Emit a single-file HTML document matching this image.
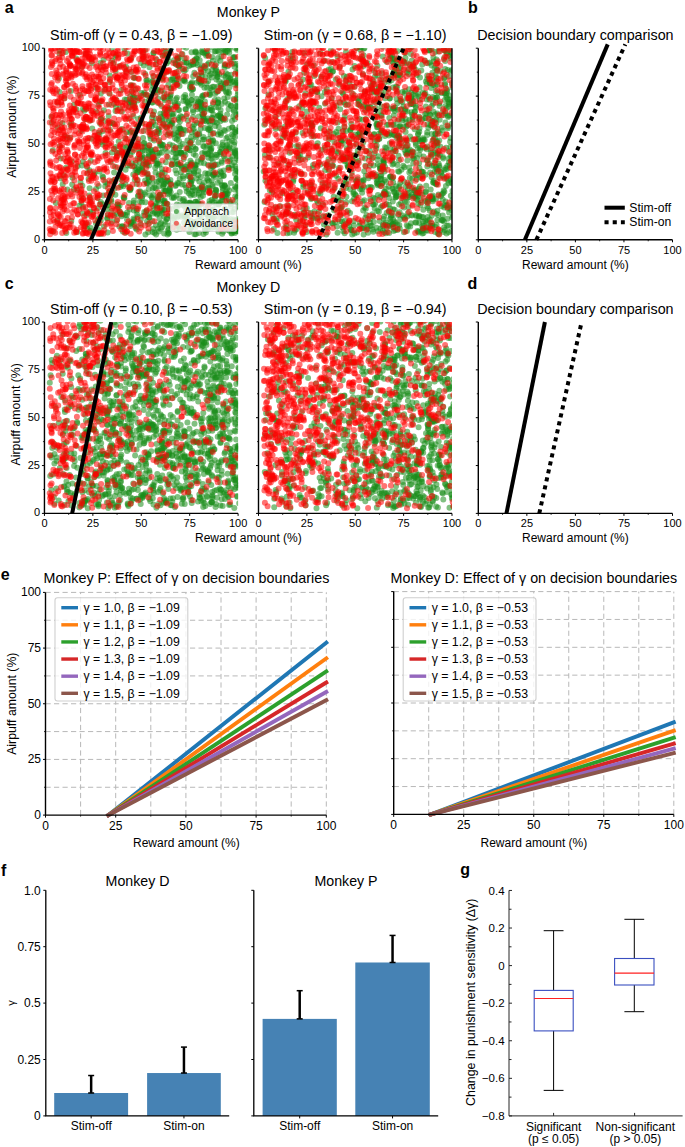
<!DOCTYPE html>
<html><head><meta charset="utf-8"><style>
html,body{margin:0;padding:0;background:#fff;}
svg{display:block;font-family:"Liberation Sans", sans-serif;}
.g{stroke:#1a8c1a;stroke-opacity:.55}.r{stroke:#ff0000;stroke-opacity:.55}
</style></head><body>
<svg width="685" height="1147" viewBox="0 0 685 1147">
<rect width="685" height="1147" fill="#fff"/>
<clipPath id="ca1"><rect x="44.45" y="48.20" width="193.65" height="191.60"/></clipPath>
<g clip-path="url(#ca1)" stroke-linecap="round" stroke-width="6.0" fill="none">
<path class="g" d="M194.5 234.2h0M186.7 191.6h0M208.8 130.0h0M184.8 58.6h0M207.4 108.6h0M161.3 68.8h0M177.8 164.2h0M57.9 102.4h0M145.1 50.0h0M136.9 184.0h0M231.5 233.6h0M205.5 68.1h0M203.4 137.1h0M130.6 224.1h0M158.0 197.1h0M141.8 167.6h0M152.0 117.4h0M136.7 229.4h0M201.4 84.8h0M193.2 187.7h0M186.2 204.5h0M178.5 132.2h0M235.0 84.7h0M159.1 174.2h0M60.8 178.5h0M216.0 177.0h0M216.6 227.5h0M232.5 127.4h0M214.5 51.6h0M146.3 163.6h0M86.6 215.0h0M87.8 173.0h0M198.4 170.9h0M177.8 77.2h0M187.5 218.7h0M222.7 194.6h0M114.3 179.9h0M164.4 55.3h0M57.1 220.9h0M199.4 78.9h0M225.4 148.6h0M177.0 217.4h0M237.4 155.5h0M234.0 63.7h0M236.3 179.1h0M223.2 52.3h0M235.8 132.6h0M175.4 185.9h0M173.5 113.7h0M109.8 75.4h0M170.4 180.0h0M230.0 202.1h0M70.0 137.9h0M222.6 228.7h0M221.2 83.5h0M209.4 94.4h0M185.5 109.1h0M154.0 132.9h0M98.7 230.0h0M172.9 152.2h0M140.6 192.3h0M156.1 64.2h0M108.9 104.5h0M193.6 224.8h0M185.9 169.2h0M100.5 63.0h0M175.0 103.0h0M202.2 153.3h0M111.5 210.9h0M231.9 212.2h0M127.2 212.4h0M168.9 120.8h0M179.5 85.9h0M203.1 212.4h0M153.3 53.3h0M208.2 157.8h0M167.5 134.8h0M189.1 65.9h0M143.3 94.5h0M204.6 120.8h0M99.9 101.5h0M153.1 206.0h0M89.4 195.6h0M100.8 220.6h0M185.2 81.4h0M165.5 191.0h0M112.3 192.8h0M220.5 117.6h0M131.7 91.5h0M188.0 120.7h0M143.2 215.8h0M90.8 228.1h0M204.5 53.4h0M112.4 123.1h0M238.6 225.9h0M216.9 92.0h0M176.0 223.9h0M209.4 226.6h0M170.8 94.7h0M161.9 168.9h0M216.9 154.9h0M185.2 94.9h0M204.1 146.4h0M133.9 210.5h0M149.3 217.6h0M188.9 175.8h0M198.5 54.9h0M237.4 99.4h0M207.7 179.9h0M191.9 140.4h0M111.9 221.7h0M140.8 63.0h0M149.2 126.4h0M198.6 102.5h0M126.2 147.3h0M214.1 66.8h0M239.3 186.4h0M191.5 89.8h0M142.2 158.7h0M211.4 148.5h0M72.5 177.7h0M191.6 52.2h0M152.7 80.8h0M170.6 47.7h0M227.6 66.3h0M220.4 60.7h0M82.4 185.7h0M161.7 180.7h0M181.0 153.1h0M230.6 159.6h0M208.2 217.9h0M115.5 56.8h0M102.6 144.5h0M212.6 86.8h0M105.6 139.2h0M148.6 156.3h0M219.7 132.2h0M209.7 191.7h0M181.8 184.4h0M164.7 200.6h0M152.0 102.5h0M179.8 192.1h0M166.6 218.7h0M227.1 114.6h0M202.3 114.1h0M178.7 118.0h0M179.7 228.9h0M179.3 205.3h0M209.6 75.2h0M218.5 204.6h0M121.8 129.0h0M164.8 224.6h0M203.2 189.6h0M117.6 204.8h0M223.8 175.7h0M115.5 111.0h0M121.2 179.4h0M148.3 224.1h0M233.9 111.2h0M137.3 146.1h0M133.4 132.7h0M225.7 76.8h0M175.5 170.3h0M130.9 85.3h0M187.3 103.0h0M151.3 150.3h0M129.0 203.1h0M123.6 196.9h0M97.7 197.7h0M151.8 197.3h0M215.3 126.1h0M191.5 162.7h0M162.0 210.3h0M103.9 110.2h0M162.3 119.0h0M109.6 82.0h0M225.1 209.4h0M145.2 73.9h0M195.7 155.5h0M87.1 167.0h0M83.3 206.9h0M103.9 226.5h0M237.9 77.6h0M172.4 160.5h0M160.4 143.5h0M203.6 234.0h0M146.3 80.2h0M212.9 209.6h0M109.6 93.7h0M154.5 232.9h0M173.8 197.9h0M129.5 102.7h0M154.2 140.4h0M74.1 104.8h0M147.2 174.9h0M146.8 210.2h0M154.3 187.4h0M130.6 188.7h0M71.3 221.0h0M226.5 92.8h0M168.8 109.5h0M101.1 119.2h0M89.6 188.2h0M158.9 77.1h0M173.9 128.3h0M135.0 78.1h0M200.7 128.8h0M237.3 47.9h0M199.3 181.5h0M121.9 111.6h0M59.9 146.6h0M142.6 150.8h0M96.3 87.9h0M115.1 166.7h0M83.0 161.6h0M232.0 121.1h0M165.8 162.3h0M105.5 153.1h0M192.8 207.5h0M234.6 57.5h0M224.9 217.8h0M218.2 99.5h0M186.2 47.8h0M127.8 165.4h0M213.0 104.0h0M177.7 57.1h0M165.8 126.8h0M124.2 226.9h0M234.1 144.8h0M146.6 110.8h0M134.4 97.5h0M151.8 90.0h0M198.7 204.2h0M212.3 184.8h0M170.6 79.8h0M211.0 167.9h0M195.6 148.7h0M193.1 117.0h0M175.3 63.5h0M164.2 48.9h0M81.0 130.7h0M212.0 117.8h0M90.4 120.6h0M214.9 198.3h0M98.9 132.6h0M140.9 224.7h0M139.9 201.7h0M228.6 167.7h0M157.3 163.7h0M202.6 220.4h0M218.4 107.4h0M161.6 90.4h0M170.6 88.5h0M215.7 190.0h0M164.7 100.2h0M146.8 183.5h0M184.1 71.1h0M154.0 111.6h0M59.7 53.8h0M62.5 123.2h0M166.8 63.3h0M212.9 60.7h0M224.5 185.0h0M104.8 89.7h0M196.9 122.7h0M158.0 98.7h0M197.7 161.2h0M124.4 49.1h0M202.4 95.7h0M125.3 138.3h0M103.1 177.3h0M229.5 87.2h0M194.0 195.0h0M115.6 70.9h0M52.7 231.5h0M85.7 53.8h0M114.1 172.6h0M117.0 152.9h0M191.4 83.5h0M239.4 171.9h0M229.7 49.1h0M128.6 118.7h0M105.2 186.2h0M123.4 186.2h0M121.0 90.3h0M90.8 160.8h0M192.5 126.7h0M157.4 153.1h0M159.0 129.4h0M154.9 212.5h0M103.3 195.5h0M143.9 143.4h0M51.2 116.8h0M209.5 201.1h0M81.8 197.6h0M238.0 92.0h0M76.3 58.6h0M107.9 202.1h0M149.5 67.3h0M211.0 140.7h0M183.8 199.0h0M91.4 138.7h0M88.6 179.1h0M123.4 155.5h0M238.0 196.4h0M135.4 169.9h0M230.8 183.1h0M179.2 110.1h0M227.6 137.1h0M171.6 208.7h0M58.9 78.6h0M189.7 150.2h0M217.4 77.1h0M228.0 104.0h0M237.7 219.2h0M231.6 223.6h0M67.3 189.6h0M172.8 145.5h0M131.7 72.0h0M98.7 186.1h0M221.8 162.8h0M132.5 151.8h0M165.2 148.7h0M77.4 190.1h0M119.5 65.9h0M168.8 233.4h0M145.0 101.7h0M119.9 211.7h0M239.4 126.8h0M110.0 129.9h0M92.2 128.4h0M200.8 197.0h0M182.7 144.1h0M133.5 218.5h0M112.0 48.2h0M81.7 66.8h0M198.4 142.5h0M204.0 163.2h0M97.6 208.3h0M140.9 117.7h0M130.8 141.3h0M197.5 109.3h0M137.1 126.7h0M175.0 138.2h0M134.2 108.4h0M86.5 108.7h0M222.7 142.4h0M205.2 173.2h0M70.9 90.9h0M72.2 184.4h0M196.3 63.3h0M223.9 156.2h0M195.8 135.6h0M235.5 166.3h0M57.8 127.6h0M143.5 130.9h0M135.6 163.1h0M161.5 106.0h0M70.7 125.2h0M59.6 92.1h0M183.7 159.0h0M66.0 167.7h0M77.5 166.2h0M168.3 71.5h0M51.8 122.8h0M186.0 130.5h0M115.8 146.9h0M152.0 178.6h0M65.8 52.1h0M113.3 63.6h0M126.0 66.8h0M55.9 203.0h0M96.1 111.5h0M219.5 46.8h0M237.0 105.9h0M116.2 99.7h0M131.0 58.7h0M99.5 171.5h0M66.3 233.1h0M145.4 234.6h0M71.8 161.6h0M64.4 98.2h0M201.2 72.8h0M193.2 76.2h0M108.7 116.0h0M229.1 190.4h0M79.9 95.1h0M239.1 114.4h0M77.3 232.0h0M204.9 101.6h0M107.6 232.6h0M239.6 202.2h0M60.8 158.6h0M110.9 162.0h0M52.9 150.3h0M156.0 225.2h0M159.5 218.5h0M186.2 210.6h0M143.9 57.0h0M91.9 63.2h0M94.1 174.8h0M118.7 141.6h0M238.4 68.4h0"/>
<path class="g" d="M217.8 227.1h0M236.8 80.2h0M188.6 189.8h0M162.6 73.7h0M232.1 127.3h0M225.3 52.1h0M212.2 90.1h0M234.6 209.0h0M158.5 176.1h0M237.3 177.2h0M172.9 116.3h0M198.3 75.6h0M149.1 165.4h0M189.6 202.9h0M234.5 151.3h0M185.6 166.8h0M181.3 216.7h0M159.8 194.8h0M212.6 174.6h0M223.3 231.8h0M210.3 110.0h0M169.6 52.4h0M95.9 223.3h0M236.7 227.1h0M200.6 83.0h0M182.9 134.0h0M204.5 112.2h0M224.9 84.0h0M201.3 98.2h0M158.3 131.0h0M157.2 165.4h0M122.5 147.3h0M238.8 131.3h0M194.0 171.3h0M152.4 151.9h0M232.1 134.5h0M203.9 67.1h0M178.8 183.2h0M220.3 115.7h0M153.2 76.0h0M163.9 183.9h0M230.6 61.8h0M236.5 63.8h0M196.3 224.2h0M219.0 202.3h0M142.3 170.5h0M229.5 231.1h0M170.1 96.3h0M202.4 50.0h0M196.9 58.8h0M173.8 133.7h0M197.8 212.2h0M237.0 101.6h0M118.1 206.2h0M124.0 197.8h0M137.7 180.1h0M169.2 215.2h0M170.0 188.4h0M146.1 211.8h0M184.2 80.6h0M171.0 108.4h0M178.5 226.6h0M221.8 148.5h0M159.0 213.3h0M210.6 150.8h0M111.4 194.4h0M215.6 51.2h0M64.0 175.3h0M215.5 154.8h0M87.0 224.2h0M150.0 195.3h0M230.5 78.2h0M179.0 126.4h0M135.2 146.1h0M202.7 120.5h0M134.1 103.1h0M182.0 117.0h0M198.8 233.1h0M113.9 123.9h0M182.8 200.2h0M237.7 94.8h0M120.1 130.5h0M237.7 184.9h0M216.4 63.4h0M217.9 134.6h0M136.4 168.5h0M131.1 131.3h0M223.8 75.8h0M215.0 73.4h0M160.0 145.4h0M172.0 197.7h0M218.8 126.9h0M208.2 187.2h0M170.1 225.5h0M225.8 193.8h0M190.5 227.4h0M158.0 103.1h0M107.4 218.0h0M207.9 55.3h0M233.9 202.0h0M167.1 152.0h0M133.9 200.4h0M211.7 227.8h0M163.3 200.7h0M190.4 144.8h0M190.4 177.7h0M175.2 157.8h0M151.0 96.9h0M152.7 114.8h0M120.2 169.0h0M149.1 144.9h0M132.9 222.0h0M100.8 202.0h0M239.2 46.9h0M152.6 211.1h0M164.7 114.8h0M150.3 123.9h0M214.1 217.8h0M139.8 152.6h0M98.6 104.8h0M218.0 102.8h0M171.9 122.8h0M207.3 214.6h0M202.2 158.3h0M195.2 52.2h0M182.9 176.2h0M223.3 218.7h0M157.3 81.9h0M233.9 110.1h0M161.0 223.2h0M185.7 97.5h0M203.2 145.9h0M208.0 128.9h0M238.4 191.0h0M208.4 139.0h0M145.4 202.3h0M190.6 195.6h0M196.5 178.4h0M224.0 130.1h0M152.6 183.6h0M217.5 86.8h0M130.1 96.3h0M124.3 161.0h0M229.5 147.1h0M234.9 119.2h0M176.6 173.4h0M171.5 88.3h0M176.4 79.9h0M201.2 204.3h0M157.4 206.6h0M225.1 65.1h0M229.2 92.9h0M116.8 220.5h0M193.0 89.3h0M143.5 157.5h0M102.5 176.2h0M149.0 177.2h0M142.2 196.4h0M193.3 104.1h0M125.5 232.8h0M212.5 143.8h0M130.2 165.7h0M145.4 106.8h0M85.6 119.3h0M153.8 53.0h0M237.8 72.4h0M175.7 146.9h0M147.0 221.3h0M127.4 53.6h0M114.0 103.8h0M90.2 211.5h0M116.2 55.2h0M208.3 222.6h0M199.0 188.5h0M221.1 172.5h0M225.5 119.8h0M100.2 123.8h0M191.0 65.0h0M185.4 154.9h0M100.7 141.9h0M116.6 214.1h0M177.0 212.1h0M106.9 209.3h0M179.2 66.6h0M205.5 77.0h0M222.8 188.0h0M177.1 105.2h0M196.4 137.2h0M234.1 162.5h0M157.8 155.6h0M204.7 230.1h0M212.8 161.5h0M158.8 231.5h0M135.6 137.6h0M215.0 196.4h0M212.8 209.4h0M136.6 208.7h0M191.7 132.3h0M179.1 152.6h0M117.0 155.2h0M176.9 204.5h0M174.0 60.3h0M195.5 201.7h0M224.9 208.4h0M172.0 164.9h0M122.7 177.7h0M112.2 60.8h0M129.8 187.1h0M143.8 65.6h0M64.7 136.2h0M111.9 181.6h0M140.8 219.4h0M187.5 214.2h0M169.2 209.0h0M62.7 184.2h0M163.1 97.8h0M142.7 52.3h0M212.7 118.3h0M147.2 80.0h0M190.5 220.4h0M195.5 149.2h0M133.3 174.4h0M148.8 188.9h0M143.1 138.0h0M123.1 214.2h0M144.5 92.8h0M129.6 209.6h0M150.1 136.1h0M190.4 160.7h0M184.1 62.4h0M121.4 185.2h0M128.9 106.8h0M153.0 228.8h0M234.4 220.4h0M133.6 77.7h0M221.4 56.7h0M231.9 140.7h0M226.4 138.3h0M201.5 106.6h0M220.1 181.0h0M106.4 139.0h0M176.4 71.9h0M164.8 173.0h0M122.5 226.3h0M79.5 205.7h0M209.3 203.9h0M225.1 101.8h0M127.1 154.1h0M73.9 189.5h0M138.1 125.7h0M224.7 225.6h0M185.9 109.4h0M127.0 219.4h0M158.1 89.7h0M182.4 54.0h0M167.1 127.3h0M137.4 158.6h0M103.6 59.7h0M204.4 87.7h0M114.7 188.6h0M179.0 141.0h0M84.3 110.8h0M172.8 220.0h0M100.8 93.5h0M133.3 115.9h0M193.2 112.1h0M228.5 167.4h0M198.6 194.8h0M159.8 120.3h0M100.9 234.1h0M185.7 69.8h0M152.1 158.6h0M99.5 134.2h0M111.4 201.4h0M132.5 85.6h0M71.2 123.1h0M236.2 171.0h0M191.2 184.1h0M230.0 47.0h0M105.2 182.1h0M177.0 97.7h0M135.5 228.1h0M119.8 108.2h0M59.7 50.6h0M90.3 231.1h0M183.6 46.8h0M82.5 213.4h0M96.0 189.0h0M216.4 79.4h0M168.5 232.7h0M82.0 165.4h0M138.4 97.7h0M228.6 199.2h0M221.5 161.3h0M184.6 185.1h0M126.5 71.0h0M94.6 173.3h0M197.5 65.1h0M162.5 55.1h0M215.9 189.8h0M80.5 182.2h0M192.1 82.2h0M156.6 59.8h0M178.2 164.3h0M207.0 178.3h0M90.3 199.7h0M76.5 109.6h0M124.8 99.6h0M184.1 222.4h0M208.9 62.9h0M196.4 165.3h0M194.2 124.4h0M114.3 148.8h0M169.7 144.4h0"/>
<path class="g" d="M236.1 82.8h0M234.6 132.1h0M163.3 68.9h0M169.2 115.5h0M192.6 187.3h0M155.5 172.6h0M180.2 128.8h0M177.3 212.3h0M238.1 180.4h0M225.6 52.6h0M156.9 133.9h0M202.1 80.6h0M234.9 230.6h0M185.8 215.9h0M196.6 98.7h0M210.2 87.9h0M188.6 171.5h0M98.1 223.7h0M222.5 144.9h0M161.1 211.6h0M142.9 164.8h0M179.7 178.8h0M178.0 136.1h0M165.1 190.9h0M160.5 179.7h0M215.0 94.1h0M155.2 149.6h0M184.8 206.5h0M236.8 98.1h0M220.9 133.2h0M190.7 203.5h0M132.8 105.4h0M117.5 204.3h0M166.6 55.1h0M235.0 150.1h0M223.1 88.8h0M226.0 191.4h0M206.2 55.8h0M170.4 98.6h0M162.2 147.7h0M211.8 180.4h0M233.6 212.1h0M222.2 233.7h0M209.5 188.5h0M153.2 157.5h0M174.0 218.2h0M176.3 156.9h0M234.5 66.8h0M226.0 150.5h0M214.5 174.1h0M148.6 214.5h0M158.9 201.2h0M211.2 73.7h0M207.6 174.0h0M198.8 206.9h0M108.7 193.3h0M149.1 100.3h0M152.3 198.5h0M221.8 117.5h0M176.6 229.8h0M162.4 78.3h0M209.0 227.2h0M167.5 204.1h0M225.5 219.9h0M191.8 181.0h0M218.1 102.3h0M216.2 204.5h0M205.6 213.9h0M205.0 151.7h0M193.9 225.0h0M226.0 82.9h0M235.2 186.4h0M220.6 110.0h0M170.0 184.1h0M217.9 58.1h0M201.4 103.5h0M180.4 165.0h0M210.8 155.1h0M209.7 145.5h0M224.6 65.3h0M133.9 203.0h0M231.1 106.0h0M121.9 152.6h0M211.6 109.7h0M187.4 140.6h0M142.0 198.2h0M187.8 101.9h0M215.6 224.9h0M203.5 71.8h0M228.8 128.8h0M190.6 165.5h0M239.3 224.8h0M173.8 197.1h0M203.1 190.4h0M153.0 85.9h0M186.1 187.7h0M210.3 129.9h0M134.8 179.7h0M202.6 96.6h0M131.6 222.7h0M159.9 223.9h0M216.6 157.1h0M238.5 113.9h0M160.3 194.8h0M219.2 81.2h0M184.2 79.7h0M162.2 172.4h0M134.1 166.2h0M168.9 108.1h0M178.8 65.3h0M187.4 222.5h0M147.3 173.2h0M137.1 214.4h0M237.0 49.8h0M216.9 122.7h0M222.6 185.8h0M237.7 107.1h0M218.9 52.1h0M146.9 182.7h0M127.9 146.8h0M213.1 166.3h0M190.4 84.3h0M216.3 190.9h0M100.9 118.7h0M148.6 150.2h0M219.2 217.1h0M189.0 193.6h0M156.0 118.6h0M160.4 113.7h0M215.9 143.3h0M87.4 228.9h0M129.5 189.8h0M148.7 127.9h0M191.9 94.7h0M139.9 191.2h0M193.4 64.6h0M205.9 232.5h0M229.3 161.0h0M207.9 118.5h0M237.9 171.3h0M234.1 57.0h0M186.8 62.5h0M67.2 137.7h0M176.0 185.1h0M138.2 172.3h0M199.1 216.0h0M175.4 75.9h0M213.1 217.6h0M200.4 225.2h0M180.7 152.7h0M219.2 74.1h0M152.6 232.0h0M167.1 218.9h0M170.7 124.4h0M195.8 234.3h0M208.2 81.0h0M222.0 200.3h0M183.5 97.1h0M130.1 132.4h0M164.3 93.2h0M178.3 119.8h0M236.6 156.3h0M196.2 52.6h0M234.5 142.2h0M156.2 163.6h0M177.4 83.7h0M126.8 215.1h0M201.0 177.0h0M227.2 213.8h0M120.2 187.1h0M186.3 116.0h0M180.9 172.5h0M223.3 175.7h0M120.4 176.1h0M168.8 228.7h0M147.3 62.7h0M202.7 114.8h0M198.9 134.5h0M107.4 184.0h0M152.4 220.9h0M102.7 204.3h0M177.9 58.5h0M142.1 156.0h0M105.5 143.0h0M109.7 123.3h0M193.6 153.9h0M178.2 110.1h0M164.1 233.4h0M204.0 139.6h0M157.2 90.3h0M187.8 148.2h0M227.7 97.0h0M130.4 154.9h0M168.3 85.1h0M168.8 132.9h0M114.1 215.4h0M174.6 104.9h0M111.9 152.4h0M107.2 218.7h0M133.2 96.6h0M193.6 128.8h0M120.0 213.1h0M83.0 109.0h0M231.3 74.8h0M93.1 212.2h0M163.1 123.4h0M230.9 206.4h0M200.9 162.7h0M159.3 139.9h0M238.5 193.0h0M216.0 68.8h0M227.4 229.7h0M125.4 184.0h0M124.4 198.3h0M144.2 143.1h0M167.8 157.3h0M150.7 138.7h0M192.9 110.1h0M171.6 164.7h0M211.7 199.8h0M138.0 119.0h0M168.8 61.2h0M173.7 149.8h0M111.2 199.7h0M155.8 188.2h0M141.3 93.1h0M232.1 168.5h0M202.2 65.5h0M200.1 123.4h0M125.6 169.8h0M116.0 107.1h0M155.4 124.9h0M180.6 146.3h0M179.6 198.5h0M103.0 131.0h0M81.5 202.4h0M147.1 82.6h0M126.5 99.7h0M115.4 194.8h0M122.8 231.4h0M212.1 47.2h0M237.5 206.5h0M194.4 72.8h0M135.7 89.4h0M138.1 149.7h0M189.4 232.0h0M190.9 210.5h0M123.6 163.4h0M204.2 182.4h0M89.5 170.2h0M233.4 219.5h0"/>
<path class="g" d="M233.9 81.3h0M178.0 132.3h0M184.4 169.3h0M214.0 86.7h0M236.2 228.6h0M165.9 190.4h0M152.6 153.4h0M186.8 216.3h0M194.0 172.9h0M200.5 102.6h0M157.0 207.8h0M201.1 81.7h0M221.7 88.2h0M235.9 153.6h0M164.2 216.4h0M222.8 190.6h0M163.1 144.9h0M222.7 48.5h0M238.9 65.8h0M147.7 216.1h0M157.9 198.8h0M218.5 231.8h0M147.0 165.5h0M220.7 117.0h0M229.1 149.2h0M190.3 202.6h0M130.9 101.3h0M119.6 205.4h0M187.7 175.9h0M221.8 104.1h0M171.7 120.9h0M214.1 202.4h0M177.4 183.0h0M196.4 208.2h0M208.8 173.3h0M222.3 220.9h0M210.1 192.7h0M228.4 78.1h0M99.1 218.6h0M209.0 224.6h0M211.4 158.4h0M167.0 180.8h0M156.5 161.0h0M185.8 100.4h0M183.9 129.7h0M131.0 222.8h0M210.6 134.6h0M229.2 52.7h0M233.6 98.9h0M207.8 50.9h0M220.3 147.2h0M144.5 194.3h0M206.9 145.9h0M133.3 205.5h0M175.3 206.8h0M167.0 110.8h0M171.3 216.2h0M148.1 95.7h0M208.2 71.3h0M175.0 164.3h0M182.7 69.0h0M153.6 84.1h0M217.6 76.6h0M191.0 137.0h0M207.1 87.7h0M181.5 154.3h0M218.2 174.2h0M141.9 202.3h0M144.6 172.4h0M124.6 156.8h0M205.3 154.1h0M85.2 226.4h0M167.9 57.4h0M212.8 186.2h0M233.1 136.3h0M196.8 221.2h0M138.6 167.6h0M130.2 190.2h0M105.2 120.9h0M228.6 109.3h0M206.5 121.4h0M204.8 128.1h0M109.6 190.9h0M153.2 195.0h0M200.8 188.3h0M212.1 218.6h0M137.9 196.2h0M215.7 70.6h0M191.1 227.5h0M144.8 150.6h0M192.9 64.3h0M233.2 57.5h0M175.9 64.3h0M161.6 152.8h0M210.6 108.1h0M222.5 197.2h0M149.0 180.9h0M170.0 101.3h0M163.8 74.0h0M232.0 165.2h0M217.8 164.6h0M172.2 227.8h0M157.0 214.6h0M233.2 116.5h0M151.8 126.4h0M214.8 99.9h0M189.9 86.7h0M172.1 114.1h0M236.4 178.8h0M160.8 228.7h0M231.9 233.0h0M158.2 128.9h0M200.5 68.6h0M213.3 114.4h0M108.0 204.9h0M199.3 133.6h0M204.0 109.1h0M202.6 139.7h0M183.0 205.1h0M120.8 214.5h0M100.3 204.2h0M164.5 201.5h0M204.1 95.0h0M171.9 79.9h0M234.3 189.4h0M223.7 170.4h0M235.3 48.0h0M155.2 167.8h0M136.7 210.8h0M176.4 195.5h0M192.1 191.2h0M179.9 121.6h0M235.4 129.7h0M195.6 51.2h0M132.2 148.8h0M201.8 52.0h0M207.9 164.8h0M212.1 56.9h0M156.1 234.6h0M178.7 216.1h0M203.0 195.8h0M236.1 72.0h0M224.5 67.4h0M137.6 100.6h0M216.4 195.3h0M163.2 125.1h0M238.8 111.3h0M190.4 164.2h0M177.7 225.0h0M224.1 98.4h0M182.6 80.8h0M189.8 150.3h0M213.1 141.0h0M197.7 201.5h0M158.7 181.6h0M220.9 154.0h0M229.3 141.6h0M188.7 105.8h0M179.2 57.7h0M161.0 117.0h0M157.5 92.8h0M236.9 197.6h0M179.2 147.9h0M178.2 103.7h0M137.6 217.0h0M230.7 204.0h0M176.8 139.6h0M148.2 232.3h0M228.1 92.0h0M164.5 98.5h0M140.4 157.2h0M152.6 102.4h0M230.3 219.1h0M220.9 134.9h0M152.8 188.8h0M164.2 209.9h0M212.6 121.5h0M201.1 159.3h0M126.4 132.2h0M198.7 116.4h0M107.7 215.2h0M131.8 163.3h0M206.0 208.1h0M186.2 62.8h0M184.8 228.2h0M119.4 226.6h0M142.3 122.9h0M119.2 152.4h0M196.3 58.3h0M205.4 230.3h0M138.4 142.2h0M207.4 64.4h0M225.1 158.7h0M150.1 132.8h0M167.5 234.4h0M190.7 182.7h0M238.6 160.6h0"/>
<path class="g" d="M238.3 84.9h0M236.9 231.3h0M152.5 154.3h0M157.1 213.6h0M180.8 128.9h0M234.2 152.3h0M192.2 204.2h0M134.5 105.6h0M184.4 216.9h0M197.9 106.7h0M213.7 227.1h0M198.7 81.3h0M193.7 173.4h0M206.6 83.4h0M227.8 193.4h0M155.7 203.6h0M169.5 188.5h0M168.1 181.1h0M224.4 49.5h0M224.1 82.0h0M225.5 219.1h0M191.6 179.5h0M145.9 161.4h0M206.5 52.9h0M220.4 113.8h0M191.7 99.9h0M163.0 177.3h0M209.7 149.1h0M217.5 50.6h0M130.3 226.1h0M187.1 165.1h0M217.9 103.0h0M213.4 172.2h0M179.0 65.9h0M161.2 197.1h0M226.0 146.2h0M224.8 185.7h0M223.3 119.8h0M211.8 77.5h0M177.1 161.6h0M230.4 79.5h0M161.6 207.6h0M212.2 69.7h0M190.4 142.1h0M201.8 75.9h0M137.8 171.8h0M134.2 219.8h0M166.1 51.7h0M190.5 228.8h0M193.3 222.2h0M130.6 188.4h0M197.8 190.0h0M165.4 221.8h0M148.5 177.9h0M172.8 134.3h0M213.8 133.1h0M159.5 152.7h0M167.9 194.4h0M190.3 88.3h0M208.6 216.9h0M139.7 162.3h0M150.5 97.6h0M125.8 152.3h0M203.9 118.9h0M144.9 146.6h0M176.0 153.5h0M153.2 122.1h0M152.2 82.0h0M209.6 93.1h0M175.8 223.8h0M166.0 119.4h0M157.7 228.8h0M166.5 203.7h0M172.4 123.4h0M176.2 83.0h0M194.9 60.3h0M138.4 195.4h0M200.8 217.0h0M149.2 217.6h0M235.1 137.0h0M162.4 144.7h0M204.3 107.3h0M237.0 131.0h0M129.3 102.0h0M178.9 135.1h0M157.9 163.4h0M236.6 158.5h0M180.5 116.0h0M226.0 73.2h0M192.3 193.9h0M162.2 78.9h0M183.4 101.0h0M118.3 208.1h0M212.8 139.9h0M221.2 176.0h0M145.4 192.4h0M236.3 169.0h0M167.9 96.4h0M184.3 152.7h0M107.6 205.4h0M163.8 113.2h0M222.3 196.9h0M236.3 115.0h0M218.3 91.1h0M212.6 202.3h0M194.6 166.7h0M163.4 186.4h0M121.7 216.3h0M195.2 132.0h0M175.2 216.3h0M212.1 110.4h0M236.3 187.7h0M207.5 188.0h0M236.4 106.2h0M225.9 91.5h0M220.2 202.5h0M210.2 125.0h0M217.7 182.8h0M235.7 220.4h0M184.3 201.6h0M215.7 164.8h0M220.3 152.1h0M207.7 229.3h0M156.7 181.7h0M144.3 212.0h0M176.9 207.2h0M181.6 167.8h0M235.2 196.6h0M97.8 219.6h0M168.0 230.3h0M209.0 181.6h0M224.9 131.1h0M183.2 178.6h0M159.1 132.9h0M211.7 156.1h0M215.4 192.5h0M176.0 99.3h0M125.1 160.9h0M122.0 226.6h0M217.9 72.0h0"/>
<path class="g" d="M238.6 231.3h0M233.2 227.7h0M198.1 101.4h0M189.7 169.5h0M164.4 184.2h0M208.2 154.1h0M158.1 200.1h0M148.6 154.6h0M195.7 201.8h0M179.4 128.9h0M200.4 108.5h0M154.1 159.1h0M196.7 82.8h0M217.5 116.4h0M228.1 219.7h0M228.0 48.3h0M223.6 87.2h0M224.4 194.7h0M209.8 222.9h0M191.3 100.1h0M229.7 148.2h0M145.6 164.2h0M203.0 52.4h0M224.8 186.3h0M142.1 169.2h0M228.9 80.4h0M234.9 153.0h0M193.5 209.6h0M153.2 213.4h0M169.2 193.6h0M147.6 183.4h0M212.8 166.8h0M216.0 106.9h0M147.8 147.8h0M213.4 175.1h0M173.0 78.2h0M194.6 59.9h0M194.2 221.9h0M177.6 152.9h0M194.9 190.2h0M184.9 215.8h0M153.5 93.2h0M237.5 86.1h0M181.7 166.6h0M131.6 102.2h0M134.5 224.6h0M192.7 88.9h0M161.0 144.9h0M162.2 213.5h0M190.3 181.2h0M178.3 60.7h0M203.3 117.2h0M227.7 74.5h0M169.4 125.1h0M163.7 203.5h0M188.5 144.6h0M202.3 185.3h0M220.1 171.2h0M204.0 192.2h0M158.7 186.6h0M159.9 77.4h0M195.0 165.6h0M216.9 74.5h0M159.6 164.5h0M210.0 94.9h0M218.9 204.3h0M231.0 105.4h0M209.1 121.5h0M235.1 174.0h0M205.0 228.5h0M125.0 215.0h0M155.2 205.5h0M198.4 175.2h0M187.5 202.7h0M165.0 109.8h0M162.0 227.2h0M137.0 172.4h0M220.2 152.2h0M170.8 183.4h0M163.8 191.0h0M145.6 94.8h0M209.7 128.2h0M225.0 201.6h0"/>
<path class="g" d="M234.8 233.1h0M200.3 102.0h0M164.7 179.3h0M211.1 149.8h0M197.9 203.3h0M224.8 193.7h0M220.3 121.3h0M188.8 104.5h0M223.3 216.3h0M169.4 190.1h0M201.8 110.2h0M147.6 162.0h0M145.1 180.4h0M188.7 207.5h0M221.8 185.1h0M195.3 227.5h0M181.0 130.8h0M139.4 169.9h0M182.3 215.2h0M229.9 83.0h0M132.8 98.3h0M150.6 97.8h0M213.3 175.6h0M227.6 51.1h0M150.4 149.6h0M220.6 85.9h0M194.9 208.9h0M193.4 146.7h0M157.9 199.7h0M149.2 156.1h0M218.2 115.4h0M199.2 78.8h0M191.3 62.3h0M227.5 188.0h0M208.5 120.5h0M211.2 165.6h0M203.4 116.2h0M181.2 152.7h0M198.9 193.3h0M202.1 186.4h0M195.4 168.3h0M232.4 156.4h0M187.4 149.0h0M174.4 82.5h0M164.5 209.6h0M199.7 60.2h0M163.2 185.4h0M227.1 145.0h0M142.6 147.5h0M237.8 83.1h0M237.2 150.6h0M164.7 203.1h0"/>
<path class="g" d="M233.6 231.3h0M195.5 207.6h0M218.7 115.6h0M200.3 105.2h0M169.2 191.2h0M224.6 195.9h0M224.5 221.3h0M165.7 181.7h0M159.6 195.2h0M225.4 46.9h0M214.8 122.0h0M207.3 153.7h0M232.3 82.1h0M184.8 216.6h0M153.0 158.7h0M195.3 164.6h0"/>
<path class="g" d="M237.0 229.2h0M220.8 117.9h0M196.7 204.3h0M200.6 104.1h0M227.3 194.2h0M170.7 192.3h0"/>
<path class="g" d="M238.9 231.3h0M232.5 231.7h0M226.2 196.7h0M191.0 204.6h0M197.7 104.0h0M222.4 118.8h0"/>
<path class="g" d="M235.2 227.4h0"/>
<path class="g" d="M234.8 231.2h0"/>
<path class="g" d="M235.5 229.3h0"/>
<path class="g" d="M234.2 231.4h0"/>
<path class="r" d="M75.2 75.3h0M98.1 141.5h0M173.5 86.4h0M55.1 77.5h0M220.9 228.9h0M152.5 58.1h0M90.8 155.3h0M94.0 191.2h0M137.0 180.2h0M85.0 48.1h0M72.6 172.1h0M145.7 123.9h0M95.8 84.7h0M82.5 131.5h0M146.3 88.3h0M124.4 142.6h0M162.4 160.6h0M152.2 72.9h0M83.3 124.8h0M98.2 76.4h0M65.5 231.5h0M168.4 169.9h0M101.5 100.9h0M110.8 145.6h0M123.1 155.5h0M70.3 65.5h0M89.4 120.8h0M53.6 231.3h0M92.1 112.7h0M108.6 58.1h0M128.7 187.2h0M105.9 140.7h0M215.3 65.5h0M115.0 68.8h0M141.7 49.4h0M163.7 76.5h0M75.4 131.0h0M166.5 87.7h0M158.1 192.6h0M100.3 67.2h0M199.2 79.0h0M81.5 189.2h0M173.5 227.2h0M70.8 194.2h0M108.1 188.3h0M103.0 49.8h0M123.9 177.0h0M107.2 171.8h0M159.7 122.6h0M53.5 188.8h0M154.4 221.3h0M143.4 72.5h0M83.5 153.3h0M61.9 53.5h0M135.8 160.2h0M128.8 127.4h0M117.1 208.6h0M125.9 119.5h0M51.1 135.3h0M102.0 113.1h0M63.3 138.4h0M80.0 90.6h0M120.3 102.8h0M81.0 97.4h0M96.8 93.7h0M88.9 181.1h0M101.6 124.5h0M117.5 135.3h0M133.7 150.1h0M125.6 87.4h0M143.2 112.9h0M88.4 233.9h0M50.3 161.5h0M126.7 72.7h0M141.7 146.8h0M146.6 94.6h0M117.2 111.2h0M146.0 56.8h0M126.0 105.1h0M183.9 76.0h0M149.7 208.6h0M95.4 99.6h0M107.7 214.6h0M60.2 122.3h0M114.7 77.1h0M143.7 163.6h0M159.9 61.9h0M74.4 147.6h0M72.0 217.5h0M156.1 136.5h0M116.8 157.1h0M78.4 62.0h0M211.6 224.7h0M184.1 68.8h0M107.4 154.8h0M69.6 112.0h0M115.3 126.6h0M118.4 57.5h0M59.2 216.0h0M100.2 214.5h0M169.8 135.7h0M63.5 74.7h0M82.6 72.6h0M200.9 124.7h0M106.5 104.7h0M154.2 51.1h0M120.5 93.8h0M142.0 100.1h0M234.2 100.0h0M74.3 53.0h0M69.3 130.7h0M66.2 161.4h0M123.1 64.5h0M51.3 48.7h0M183.8 157.3h0M78.0 156.8h0M119.5 146.2h0M181.6 134.1h0M143.5 172.6h0M157.5 68.4h0M179.0 49.5h0M163.9 137.2h0M196.0 106.6h0M64.4 98.4h0M55.6 208.5h0M97.2 183.7h0M76.6 69.4h0M137.0 88.2h0M129.9 59.2h0M56.8 102.3h0M133.5 103.2h0M122.5 77.9h0M121.1 214.1h0M63.8 200.2h0M151.8 161.2h0M52.0 55.1h0M98.1 169.0h0M138.5 206.6h0M64.3 86.9h0M63.8 189.3h0M98.0 233.9h0M88.0 91.1h0M141.3 119.3h0M156.0 149.3h0M90.4 80.0h0M225.3 64.0h0M85.8 138.8h0M236.1 88.6h0M139.1 59.0h0M161.5 175.0h0M128.5 46.9h0M52.4 65.0h0M77.8 214.3h0M211.5 120.2h0M61.7 116.1h0M65.5 181.5h0M99.6 195.0h0M87.2 213.1h0M113.3 53.4h0M91.4 59.3h0M175.9 55.7h0M184.1 170.0h0M108.6 121.0h0M136.6 67.0h0M132.8 114.0h0M190.6 177.0h0M215.0 195.4h0M167.0 116.3h0M124.7 195.1h0M50.0 102.2h0M93.5 215.4h0M235.6 221.8h0M112.9 231.1h0M89.8 197.0h0M89.7 67.9h0M127.0 231.6h0M200.7 69.6h0M207.9 206.4h0M139.2 231.4h0M168.8 209.2h0M51.0 216.4h0M93.0 176.1h0M89.2 203.9h0M59.0 166.9h0M178.5 71.6h0M62.7 174.7h0M128.6 221.2h0M83.9 173.1h0M165.3 107.7h0M108.2 130.4h0M136.7 130.8h0M133.7 77.6h0M155.4 84.5h0M138.1 139.2h0M69.2 224.7h0M52.4 143.1h0M109.2 93.1h0M124.6 133.8h0M209.2 192.9h0M62.0 145.3h0M173.5 109.2h0M88.8 222.4h0M53.6 108.8h0M166.8 127.9h0M74.4 180.5h0M54.8 222.0h0M214.2 165.2h0M136.2 124.6h0M107.9 222.8h0M152.5 177.7h0M57.8 130.3h0M53.8 119.8h0M220.4 87.7h0M180.7 163.1h0M202.3 157.5h0M177.5 65.3h0M168.9 69.9h0M222.2 195.0h0M208.8 56.2h0M76.0 231.6h0M150.4 134.4h0M83.9 144.5h0M127.7 161.4h0M58.1 198.1h0M231.5 63.7h0M69.9 105.5h0M74.3 203.2h0M104.2 230.0h0M226.9 228.2h0M56.6 176.2h0M201.8 187.2h0M122.7 202.2h0M60.7 225.0h0M227.6 161.5h0M183.4 228.2h0M160.8 91.4h0M128.0 207.1h0M58.0 156.6h0M226.5 82.7h0M52.6 126.5h0M115.4 181.5h0M162.7 56.0h0M104.7 84.4h0M70.3 118.5h0M148.5 228.5h0M81.0 227.3h0M80.4 103.7h0M67.1 149.7h0M77.6 115.8h0M213.0 133.7h0M186.4 58.1h0M159.9 208.0h0M157.7 102.1h0M50.6 181.0h0M73.9 99.7h0M88.4 106.3h0M79.4 196.9h0M208.7 142.1h0M106.6 195.0h0M69.7 139.6h0M132.5 53.7h0M72.9 83.7h0M97.5 160.9h0M111.7 137.5h0M63.1 66.7h0M183.7 118.8h0M95.0 135.6h0M108.0 162.3h0M105.9 72.5h0M137.6 218.9h0M132.5 166.3h0M202.3 203.2h0M215.2 172.5h0M149.4 145.4h0M108.3 112.1h0M112.5 84.5h0M61.4 46.9h0M145.1 215.5h0M135.6 226.4h0M238.0 117.3h0M86.8 165.9h0M68.8 91.0h0M124.8 53.1h0M76.4 163.5h0M99.5 223.0h0M64.4 209.2h0M186.4 148.3h0M190.3 142.9h0M206.2 94.4h0M102.8 207.5h0M138.9 154.3h0M228.7 169.9h0M50.5 173.2h0M109.3 180.4h0M67.0 168.9h0M121.2 229.3h0M153.0 64.4h0M117.6 167.6h0M171.2 184.8h0M191.9 86.9h0M118.1 187.8h0M100.7 55.6h0M164.1 97.0h0M192.9 61.2h0M127.5 93.2h0M151.7 99.8h0M51.9 83.0h0M117.9 48.1h0M224.4 118.6h0M53.8 93.3h0M226.3 201.1h0M91.0 47.7h0M161.2 49.3h0M221.9 72.0h0M188.9 184.9h0M153.1 114.7h0M77.7 140.6h0M117.3 219.5h0M206.9 48.9h0M97.9 106.4h0M114.1 62.2h0M195.3 120.4h0M111.4 100.3h0M174.2 120.0h0M167.1 177.4h0M114.1 118.5h0M197.4 134.3h0M140.3 196.2h0M167.6 146.8h0M85.9 55.0h0M213.2 102.3h0M204.0 113.5h0M52.3 151.6h0M226.2 151.4h0M232.4 200.1h0M175.3 148.0h0M68.4 58.5h0M132.2 135.8h0M130.8 142.1h0M189.6 130.0h0M69.6 47.2h0M100.1 130.5h0M49.9 198.9h0M82.9 208.3h0M166.7 156.4h0M59.9 59.9h0M144.1 184.1h0M205.1 104.7h0M235.0 73.7h0M56.2 70.4h0M189.9 166.5h0M223.6 56.3h0M151.7 121.7h0M237.9 56.8h0M94.2 208.1h0M109.7 201.0h0M73.3 125.0h0M63.4 132.4h0M171.6 163.9h0"/>
<path class="r" d="M91.8 152.3h0M147.3 55.6h0M80.0 135.5h0M88.8 107.9h0M69.2 63.4h0M97.8 145.0h0M135.1 175.7h0M144.9 85.2h0M105.4 66.6h0M98.9 78.8h0M97.3 193.7h0M76.1 88.8h0M85.7 152.2h0M122.5 181.2h0M146.7 49.1h0M82.4 86.2h0M85.8 117.0h0M221.8 228.0h0M66.0 228.2h0M120.0 136.7h0M106.4 168.3h0M77.9 62.8h0M150.8 203.1h0M119.6 75.3h0M127.2 116.2h0M107.0 139.5h0M113.6 148.9h0M117.0 156.6h0M98.7 138.1h0M54.6 187.0h0M71.7 74.1h0M86.8 129.2h0M111.6 104.9h0M76.3 186.4h0M50.5 230.9h0M112.3 208.4h0M109.9 184.0h0M110.8 56.3h0M164.8 71.0h0M59.9 139.0h0M139.6 158.8h0M120.6 111.6h0M122.2 152.0h0M201.5 121.2h0M57.7 213.7h0M146.2 167.7h0M176.4 84.7h0M79.2 51.9h0M123.2 129.4h0M140.7 50.8h0M102.5 156.5h0M66.5 79.1h0M133.6 54.8h0M100.1 52.5h0M158.7 118.4h0M140.9 96.0h0M118.8 94.1h0M57.4 124.0h0M130.7 145.5h0M72.5 48.7h0M145.5 126.7h0M137.3 71.8h0M87.5 58.4h0M144.3 107.7h0M102.1 232.5h0M66.1 142.2h0M61.4 97.1h0M62.2 232.9h0M171.3 91.5h0M133.7 85.5h0M72.3 196.6h0M71.7 55.6h0M91.4 180.8h0M130.0 187.9h0M82.3 73.8h0M62.8 199.5h0M117.3 53.7h0M59.1 57.6h0M119.8 67.3h0M88.7 91.2h0M140.9 227.8h0M157.4 47.3h0M174.8 73.1h0M157.4 70.4h0M95.8 97.3h0M52.2 130.7h0M61.0 111.6h0M50.9 50.2h0M92.4 82.2h0M120.8 174.2h0M151.9 133.9h0M125.2 103.3h0M67.4 158.0h0M74.4 209.5h0M75.7 167.2h0M57.7 80.6h0M204.5 80.7h0M58.7 149.2h0M132.6 206.7h0M102.3 118.0h0M85.4 224.2h0M75.3 126.0h0M109.0 88.7h0M132.0 130.6h0M166.7 114.6h0M78.7 100.4h0M228.9 65.1h0M209.5 190.8h0M165.7 169.3h0M50.6 144.2h0M65.5 221.4h0M99.9 168.9h0M235.4 226.7h0M86.7 233.1h0M221.0 195.5h0M59.5 175.0h0M62.0 105.1h0M167.1 106.6h0M53.5 111.1h0M186.3 76.5h0M76.0 159.5h0M134.0 123.9h0M65.1 119.8h0M102.6 99.2h0M54.7 101.8h0M166.1 79.8h0M66.2 70.9h0M73.9 108.9h0M168.2 213.6h0M114.8 124.0h0M62.6 205.9h0M97.4 112.8h0M158.9 141.2h0M74.2 232.7h0M106.2 224.5h0M50.2 162.9h0M150.5 98.9h0M126.8 231.3h0M91.2 202.9h0M80.6 113.3h0M99.1 89.0h0M67.9 169.4h0M64.7 135.3h0M130.7 60.3h0M209.0 165.7h0M152.4 157.6h0M125.7 76.6h0M53.2 200.4h0M181.7 54.2h0M64.7 48.6h0M91.9 74.5h0M84.5 193.6h0M112.2 192.3h0M176.6 107.1h0M112.9 97.2h0M57.7 222.9h0M123.1 164.4h0M132.1 108.9h0M121.8 84.9h0M108.0 49.5h0M204.9 66.1h0M59.6 67.5h0M62.2 128.4h0M178.6 78.8h0M163.6 194.9h0M77.8 214.6h0M144.5 61.3h0M101.0 216.8h0M105.5 146.4h0M89.4 50.4h0M61.4 189.3h0M51.8 74.0h0M87.9 213.6h0M52.9 177.2h0M130.8 71.7h0M74.9 144.8h0M88.8 163.0h0M51.0 67.1h0M138.7 147.1h0M68.9 113.3h0M157.2 208.3h0M195.7 74.3h0M142.4 174.0h0M50.3 207.7h0M177.0 58.7h0M111.8 226.7h0M73.3 203.2h0M90.0 171.9h0M163.3 60.6h0M110.8 214.4h0M72.3 174.9h0M87.6 145.7h0M126.4 224.5h0M125.9 47.2h0M85.4 206.9h0M127.3 138.9h0M165.1 132.3h0M162.1 87.2h0M92.0 120.0h0M95.3 60.2h0M113.1 67.6h0M95.9 67.0h0M88.0 138.1h0M56.1 160.6h0M170.8 52.9h0M140.7 121.9h0M113.0 165.9h0M217.8 90.9h0M64.2 87.2h0M115.1 179.5h0M180.8 64.3h0M49.8 221.6h0M133.2 92.4h0M60.5 167.6h0M211.7 64.4h0M129.9 98.9h0M94.7 132.1h0M56.8 51.5h0M94.8 162.2h0M83.9 47.3h0M75.3 69.0h0M67.4 151.5h0M117.5 103.0h0M81.8 200.7h0M87.0 79.2h0M138.5 192.1h0M58.5 118.0h0M150.5 110.7h0M155.6 58.5h0M149.6 223.0h0M138.9 79.1h0M95.5 47.8h0M114.1 135.8h0M160.2 104.0h0M158.1 76.5h0M164.2 124.2h0M191.5 119.6h0M70.6 96.7h0M65.5 177.0h0M51.2 84.4h0M57.1 89.7h0M70.5 137.5h0M81.1 178.0h0M95.1 220.6h0M99.7 204.4h0M86.8 66.0h0M117.8 201.9h0M49.8 122.6h0M224.0 153.7h0M187.0 114.1h0M146.6 210.4h0M110.0 79.0h0M96.5 211.0h0M130.9 157.7h0M126.7 91.0h0M119.6 211.4h0M104.1 129.4h0M165.9 47.5h0M145.7 75.8h0M153.8 82.2h0M238.4 74.4h0M191.7 164.4h0M66.9 210.4h0M108.3 122.4h0M120.6 144.5h0M58.2 74.4h0M169.7 127.0h0M71.6 119.0h0M103.4 180.0h0M139.3 184.5h0M166.8 203.8h0"/>
<path class="r" d="M93.7 80.5h0M84.7 157.4h0M103.6 67.1h0M90.5 152.9h0M83.0 124.6h0M117.5 77.0h0M68.2 78.4h0M161.6 74.7h0M119.7 131.1h0M82.0 58.7h0M53.6 214.9h0M105.5 155.6h0M104.1 169.9h0M97.5 198.0h0M136.0 70.3h0M72.6 56.3h0M111.8 158.9h0M117.2 153.2h0M142.3 55.9h0M59.5 98.2h0M51.3 190.7h0M99.5 48.3h0M77.4 52.1h0M94.3 141.2h0M75.9 66.7h0M70.6 159.4h0M131.4 86.9h0M149.1 124.7h0M69.8 64.3h0M98.9 77.0h0M62.0 147.8h0M84.9 90.3h0M93.3 57.5h0M74.7 73.5h0M76.6 210.7h0M101.2 122.7h0M136.0 93.6h0M55.0 125.1h0M63.6 226.1h0M108.2 133.6h0M80.3 185.8h0M90.7 86.1h0M146.9 85.4h0M51.5 55.5h0M55.2 232.7h0M135.6 177.4h0M125.1 69.2h0M151.0 204.1h0M61.7 171.1h0M122.6 54.1h0M168.5 110.1h0M54.0 138.4h0M82.8 233.7h0M132.5 184.5h0M159.1 52.2h0M98.2 233.0h0M177.3 85.0h0M57.6 219.6h0M76.4 192.7h0M66.9 84.3h0M90.5 176.6h0M56.6 178.5h0M75.0 172.0h0M78.0 161.8h0M63.4 114.4h0M124.9 156.7h0M50.5 105.3h0M122.6 105.7h0M82.6 222.5h0M88.4 103.3h0M229.6 59.3h0M56.5 75.4h0M66.6 135.3h0M124.6 232.8h0M112.8 52.9h0M51.9 48.9h0M123.0 177.3h0M73.8 228.3h0M75.1 154.5h0M117.4 66.8h0M174.2 73.1h0M54.4 132.3h0M56.9 115.0h0M106.7 55.0h0M155.7 100.4h0M124.7 76.0h0M62.2 57.5h0M55.4 153.9h0M63.3 203.6h0M78.1 95.2h0M175.5 106.5h0M97.3 116.0h0M73.5 110.1h0M92.6 205.3h0M49.7 229.0h0M66.3 72.7h0M121.3 83.0h0M87.4 49.5h0M116.9 102.5h0M146.8 159.3h0M105.6 147.5h0M91.1 95.3h0M115.2 209.9h0M97.8 135.0h0M79.0 141.8h0M71.2 127.2h0M129.8 118.3h0M138.9 154.2h0M129.8 107.5h0M87.4 200.5h0M149.1 62.8h0M50.5 164.9h0M96.7 98.3h0M86.5 147.8h0M67.7 218.1h0M137.8 209.0h0M136.0 110.7h0M87.0 211.8h0M99.0 158.2h0M129.6 60.0h0M61.8 48.3h0M97.6 87.4h0M154.0 138.7h0M91.2 110.8h0M128.6 163.3h0M118.1 58.5h0M67.7 196.5h0M69.7 115.1h0M105.5 85.1h0M109.2 191.9h0M125.7 138.7h0M138.4 143.9h0M61.3 197.7h0M93.4 214.8h0M209.3 192.8h0M70.5 50.4h0M85.3 76.9h0M67.5 174.8h0M138.5 47.5h0M64.9 93.3h0M97.0 65.8h0M123.6 89.2h0M62.6 211.6h0M99.3 107.7h0M63.6 158.7h0M153.7 157.0h0M52.1 63.2h0M86.1 163.9h0M158.3 197.4h0M110.7 63.0h0M80.0 147.9h0M139.6 98.6h0M160.3 67.0h0M109.9 122.1h0M105.4 139.7h0M67.9 152.6h0M130.7 233.8h0M87.8 118.1h0M138.3 78.4h0M61.6 127.2h0M147.8 174.0h0M71.1 166.4h0M116.6 224.2h0M144.1 105.6h0M166.3 53.9h0M115.9 90.6h0M51.1 182.2h0M67.7 143.0h0M117.1 124.2h0M153.9 76.3h0M166.1 213.7h0M110.8 216.2h0M52.7 89.3h0M223.4 226.3h0M54.1 144.7h0M75.3 85.9h0M140.1 223.1h0M78.1 103.0h0M70.3 205.3h0M58.1 105.4h0M60.5 64.1h0M60.2 141.0h0M80.6 177.7h0M111.2 143.1h0M126.4 125.7h0M87.4 141.0h0M120.3 147.1h0M78.8 133.3h0M188.8 124.9h0M81.4 200.2h0M168.4 102.8h0M201.7 80.3h0M161.5 126.9h0M148.2 132.0h0M89.5 232.3h0M166.9 94.0h0M201.2 72.3h0M228.7 153.9h0M50.1 208.5h0M74.3 145.8h0M173.3 63.0h0M118.0 110.1h0M59.3 190.7h0M110.0 80.6h0M82.3 66.8h0M155.9 131.9h0M141.8 131.3h0M170.3 133.0h0"/>
<path class="r" d="M65.8 81.0h0M83.2 64.4h0M166.6 72.1h0M81.6 128.1h0M119.4 129.5h0M116.5 160.0h0M133.6 67.6h0M95.5 197.0h0M79.8 52.3h0M100.7 47.5h0M100.2 53.9h0M55.1 191.9h0M160.3 75.5h0M115.4 75.8h0M91.9 58.4h0M104.1 167.2h0M70.7 65.7h0M83.1 233.1h0M69.7 160.3h0M68.0 227.6h0M71.3 76.2h0M71.9 53.5h0M93.4 76.7h0M105.8 137.8h0M91.3 154.5h0M160.4 52.0h0M89.5 85.7h0M174.0 88.0h0M124.1 67.5h0M71.1 191.5h0M60.0 176.0h0M100.7 82.3h0M86.4 91.0h0M97.5 139.9h0M117.8 50.8h0M101.0 68.7h0M99.8 233.5h0M78.0 60.5h0M79.0 209.7h0M96.8 146.6h0M143.3 52.6h0M62.6 138.4h0M124.4 108.6h0M58.2 214.7h0M125.4 152.2h0M82.0 155.7h0M61.2 102.2h0M126.6 179.8h0M120.3 80.2h0M124.8 229.5h0M53.4 220.1h0M172.8 73.4h0M64.5 206.5h0M64.8 221.0h0M96.0 178.0h0M124.5 118.4h0M59.8 130.0h0M74.8 108.7h0M149.8 130.6h0M132.0 90.8h0M52.9 165.9h0M131.4 57.8h0M93.8 207.7h0M135.4 108.0h0M75.6 168.5h0M110.2 195.7h0M83.6 141.1h0M149.9 62.6h0M51.6 176.8h0M84.0 104.3h0M74.9 154.7h0M59.7 145.8h0M165.5 113.7h0M56.3 58.9h0M136.8 146.8h0M76.1 175.8h0M87.0 147.3h0M105.3 89.3h0M92.6 111.3h0M131.9 121.6h0M92.3 216.6h0M53.5 121.0h0M67.2 169.9h0M52.6 107.4h0M83.1 199.1h0M122.5 102.6h0M63.1 73.6h0M134.5 49.8h0M116.6 100.6h0M148.2 162.2h0M50.1 234.2h0M80.3 192.4h0M65.3 194.2h0M76.3 187.9h0M155.4 95.6h0M85.2 57.4h0M86.2 50.0h0M72.2 212.3h0M65.1 154.1h0M86.2 222.9h0M97.7 89.2h0M101.9 101.2h0M110.2 161.1h0M68.7 110.5h0M84.7 119.3h0M72.2 126.3h0M93.5 171.4h0M59.5 225.0h0M85.9 74.2h0M127.9 76.9h0M55.0 48.3h0M113.0 206.2h0M97.8 156.7h0M109.4 53.0h0M58.1 77.0h0M76.7 229.8h0M138.1 88.5h0M110.4 64.9h0M145.1 225.4h0M111.0 132.0h0M143.3 58.7h0M79.5 72.8h0M100.9 113.9h0M54.3 142.1h0M62.8 52.8h0M112.8 88.2h0M121.3 175.6h0M142.4 105.4h0M134.6 100.2h0M64.8 95.7h0M84.1 216.2h0M50.2 89.7h0M159.8 61.8h0M56.2 93.7h0M107.4 147.4h0M78.0 102.4h0M74.5 134.6h0M89.4 138.0h0M90.2 202.0h0M76.1 91.0h0M87.1 173.4h0M61.6 200.3h0M115.0 69.5h0M60.1 114.9h0M106.0 126.5h0M112.8 215.8h0M99.3 122.1h0M129.2 143.1h0M123.3 160.5h0M71.8 119.3h0M95.7 99.6h0M111.2 223.4h0M49.9 212.2h0"/>
<path class="r" d="M84.0 63.3h0M135.9 69.8h0M88.5 56.7h0M115.8 158.6h0M79.9 126.7h0M89.2 77.5h0M66.6 85.0h0M91.1 88.4h0M98.0 195.4h0M162.9 80.4h0M72.4 51.8h0M103.4 78.2h0M92.8 154.9h0M117.3 77.9h0M96.8 137.3h0M75.7 68.2h0M101.5 233.2h0M69.0 73.2h0M70.7 223.8h0M85.6 233.1h0M62.4 226.6h0M121.6 151.1h0M69.4 162.5h0M166.4 71.8h0M57.9 101.3h0M119.5 131.7h0M55.2 190.7h0M60.6 206.9h0M104.4 168.9h0M102.9 63.3h0M122.6 74.9h0M89.8 198.1h0M115.2 52.2h0M95.5 84.2h0M95.3 56.8h0M95.9 143.6h0M58.1 133.5h0M89.7 205.0h0M83.7 93.2h0M93.6 113.9h0M157.4 50.9h0M59.9 151.8h0M134.9 145.2h0M54.6 181.9h0M105.7 69.0h0M134.7 107.0h0M86.0 106.8h0M73.1 111.2h0M56.6 168.1h0M69.8 66.4h0M81.6 194.5h0M65.2 139.2h0M114.4 99.6h0M76.7 59.9h0M91.9 177.8h0M106.3 140.4h0M142.6 54.2h0M177.6 76.1h0M55.2 61.0h0M98.0 70.2h0M105.6 55.9h0M84.5 219.4h0M62.9 195.6h0M60.7 216.9h0M125.0 80.6h0M127.0 59.3h0M104.3 90.9h0M92.6 106.6h0M58.2 140.0h0M85.9 116.7h0M57.9 47.2h0M86.3 127.0h0M149.2 125.1h0M51.0 230.4h0M79.5 143.0h0M64.3 179.1h0M124.1 116.8h0M69.3 122.7h0M129.2 69.3h0M112.8 69.9h0M121.0 65.8h0M52.3 115.3h0M77.2 103.5h0M65.1 202.3h0M155.3 64.4h0M151.0 57.7h0M63.0 169.4h0M57.0 73.0h0M164.5 108.7h0M135.2 51.3h0M107.0 160.0h0M84.3 226.3h0M91.5 217.0h0M128.0 110.5h0M85.9 150.3h0M96.5 101.0h0M55.1 88.2h0M126.5 178.1h0M130.6 85.2h0M96.2 76.3h0M108.3 127.3h0M76.3 232.2h0M64.5 127.5h0M53.3 211.4h0"/>
<path class="r" d="M81.7 68.1h0M67.7 84.9h0M88.6 85.2h0M74.3 48.5h0M72.5 55.4h0M91.7 61.4h0M90.1 54.1h0M65.0 229.6h0M70.7 65.5h0M83.5 228.8h0M66.6 161.6h0M117.7 77.7h0M169.1 70.8h0M100.7 81.9h0M66.1 78.3h0M82.5 88.9h0M83.3 126.8h0M96.0 140.7h0M122.7 153.6h0M106.3 66.3h0M60.4 202.9h0M60.2 223.3h0M92.1 201.4h0M125.9 71.7h0M52.5 180.5h0M61.3 102.6h0M60.5 192.2h0M51.8 61.5h0M83.5 198.6h0M135.8 71.8h0M100.8 74.1h0M113.1 99.0h0M106.1 138.9h0M77.4 61.2h0M127.8 61.1h0M81.3 221.4h0M118.8 54.4h0M61.1 134.5h0M55.2 188.9h0M57.2 46.8h0M90.3 117.4h0M81.6 103.6h0M119.0 119.8h0M109.2 88.9h0M139.6 51.1h0M86.0 108.9h0M61.0 172.1h0M93.7 178.3h0M52.0 117.1h0M59.5 151.7h0M143.0 57.6h0M79.2 141.6h0M148.4 61.5h0M64.8 197.3h0M55.3 227.3h0M88.2 147.6h0M89.6 103.7h0M90.7 154.1h0M103.5 233.7h0M52.4 91.2h0M71.8 108.5h0M118.5 132.1h0M113.1 67.7h0M69.5 116.0h0M83.9 118.3h0M52.2 194.7h0M137.3 143.6h0M86.9 76.5h0M81.2 191.2h0M77.0 73.9h0M94.8 99.8h0"/>
<path class="r" d="M91.3 90.0h0M89.1 56.4h0M76.5 50.9h0M84.7 230.1h0M71.1 164.3h0M97.5 138.0h0M83.2 127.9h0M68.4 157.4h0M164.6 69.9h0M71.6 77.5h0M81.7 63.3h0M61.3 97.1h0M102.4 70.0h0M117.4 77.7h0M61.1 205.5h0M82.7 223.3h0M70.4 49.1h0M114.9 97.9h0M104.6 85.2h0M94.4 115.5h0M69.7 227.6h0M54.5 181.8h0M86.6 117.1h0M143.4 50.5h0M64.3 198.7h0M63.2 130.5h0M66.2 69.1h0M142.2 59.4h0M92.9 175.8h0M67.0 61.1h0M85.1 106.7h0M109.1 143.8h0M117.1 133.1h0M55.7 115.1h0M138.2 69.6h0M75.7 112.3h0M134.3 51.6h0"/>
<path class="r" d="M74.7 52.0h0M94.2 135.9h0M82.7 129.3h0M70.4 164.5h0M87.4 52.9h0M89.3 58.9h0M90.1 119.4h0M70.1 75.2h0M116.9 79.8h0M100.5 138.9h0M82.5 62.0h0M77.7 67.7h0M115.4 135.2h0M73.2 112.5h0"/>
<path class="r" d="M81.7 126.4h0M76.8 49.4h0M86.8 119.2h0M85.6 53.6h0M102.4 140.5h0M79.2 61.7h0"/>
<path class="r" d="M80.8 127.1h0M84.3 54.0h0M89.6 57.5h0M86.8 128.5h0"/>
<path class="r" d="M84.8 127.9h0"/>
</g>
<clipPath id="ca2"><rect x="258.50" y="48.20" width="193.50" height="191.60"/></clipPath>
<g clip-path="url(#ca2)" stroke-linecap="round" stroke-width="6.0" fill="none">
<path class="g" d="M390.9 176.7h0M345.5 160.7h0M452.6 56.2h0M433.3 84.9h0M435.8 91.2h0M330.9 50.2h0M439.3 140.5h0M330.9 68.7h0M351.2 127.9h0M436.1 184.2h0M359.4 137.3h0M436.0 198.7h0M399.8 228.6h0M444.9 229.9h0M336.9 226.5h0M409.1 95.5h0M407.2 72.5h0M353.5 192.2h0M429.8 210.7h0M445.9 185.9h0M343.4 231.2h0M360.2 49.8h0M452.5 190.9h0M385.5 194.7h0M446.5 97.6h0M441.3 220.2h0M425.1 114.1h0M331.6 148.7h0M444.9 83.4h0M392.6 62.0h0M419.0 216.6h0M453.1 207.1h0M276.4 218.4h0M393.0 152.1h0M285.0 133.0h0M407.2 216.6h0M399.5 186.3h0M452.6 87.5h0M398.6 58.6h0M405.3 110.9h0M425.5 192.3h0M340.2 109.3h0M384.2 232.4h0M398.8 68.6h0M418.6 231.4h0M402.2 120.6h0M409.3 197.1h0M375.0 198.6h0M412.6 158.6h0M447.3 165.7h0M420.2 177.5h0M414.8 111.8h0M338.0 134.9h0M419.1 163.3h0M433.5 61.4h0M392.5 164.4h0M414.7 190.8h0M383.9 159.4h0M359.1 104.9h0M331.9 62.1h0M408.3 152.6h0M327.6 164.6h0M275.4 207.6h0M409.5 119.9h0M453.0 160.9h0M381.3 175.1h0M377.2 124.1h0M450.7 48.7h0M390.9 217.3h0M387.0 225.3h0M381.9 73.2h0M399.9 139.3h0M294.7 214.8h0M339.3 84.7h0M397.2 103.2h0M382.4 95.1h0M353.9 225.6h0M420.0 77.6h0M435.0 127.7h0M388.9 211.7h0M410.3 104.3h0M354.1 198.5h0M380.6 110.8h0M429.0 197.4h0M324.3 186.5h0M437.3 113.4h0M320.5 53.3h0M302.2 102.4h0M338.0 152.7h0M374.0 102.1h0M365.8 118.9h0M443.6 115.1h0M265.3 108.2h0M272.3 123.2h0M435.4 227.1h0M436.3 213.8h0M351.0 164.6h0M386.6 204.1h0M397.6 50.9h0M371.9 187.6h0M305.4 93.5h0M321.1 76.7h0M367.7 127.7h0M424.5 147.8h0M341.3 140.9h0M372.0 158.5h0M412.5 66.2h0M350.0 213.1h0M354.5 65.9h0M427.5 124.2h0M298.8 160.3h0M445.6 201.6h0M430.6 149.3h0M438.6 51.4h0M380.3 168.6h0M402.8 197.8h0M289.7 95.9h0M275.8 117.1h0M285.5 80.3h0M320.8 128.2h0M365.4 217.8h0M389.3 117.9h0M365.7 175.7h0M338.5 128.8h0M306.8 208.3h0M277.4 233.1h0M422.8 140.3h0M418.4 96.6h0M346.0 52.0h0M448.6 151.1h0M407.7 145.1h0M435.9 119.5h0M400.5 75.4h0M389.8 108.5h0M341.9 190.2h0M435.3 100.0h0M392.8 201.6h0M386.2 181.7h0M317.6 218.7h0M410.9 54.0h0M382.7 56.4h0M409.8 177.9h0M375.0 76.5h0M343.9 76.0h0M452.2 183.3h0M429.4 163.8h0M418.0 148.3h0M388.9 135.5h0M431.6 49.2h0M303.0 79.6h0M346.0 130.9h0M303.3 184.6h0M441.9 194.2h0M363.1 142.4h0M380.7 207.4h0M311.1 124.5h0M310.4 185.3h0M344.6 119.5h0M317.1 92.1h0M419.9 186.5h0M371.2 137.1h0M268.7 81.8h0M371.9 92.3h0M446.8 108.1h0M342.1 221.4h0M339.8 101.9h0M437.4 154.4h0M432.6 140.8h0M393.4 72.4h0M320.4 193.7h0M356.0 144.5h0M410.7 170.9h0M364.3 200.2h0M363.0 74.2h0M373.3 231.8h0M393.8 124.9h0M369.9 165.8h0M316.9 200.7h0M382.9 46.7h0M357.2 162.0h0M396.0 86.5h0M422.2 119.5h0M404.3 62.8h0M342.1 206.7h0M402.5 92.1h0M327.1 227.3h0M309.7 131.4h0M365.0 158.6h0M362.5 228.5h0M309.9 85.0h0M286.5 225.7h0M275.7 128.8h0M407.9 189.4h0M438.7 177.2h0M367.9 108.0h0M313.7 136.4h0M419.3 131.8h0M447.1 91.0h0M292.0 134.6h0M379.3 138.9h0M398.5 155.7h0M370.0 222.4h0M452.6 105.9h0M357.8 150.5h0M415.5 198.4h0M341.0 199.9h0M337.6 232.7h0M364.6 91.6h0M445.4 122.5h0M424.5 93.9h0M388.4 89.1h0M304.3 116.8h0M398.4 192.3h0M265.2 58.0h0M448.6 76.5h0M265.4 180.8h0M443.0 157.1h0M313.1 165.0h0M367.6 63.3h0M427.1 135.1h0M304.2 72.7h0M435.2 133.9h0M298.4 146.6h0M310.8 213.0h0M362.1 189.3h0M372.5 174.3h0M434.6 67.8h0M301.9 173.7h0M311.1 199.0h0M349.5 83.3h0M404.1 181.5h0M346.9 148.2h0M440.2 146.5h0M406.9 230.9h0M401.4 169.7h0M352.2 234.6h0M400.2 219.3h0M316.2 145.9h0M421.3 70.4h0M452.1 217.4h0M408.6 46.8h0M353.5 156.1h0M419.7 87.4h0M269.0 150.1h0M293.2 181.5h0M314.2 75.9h0M427.2 75.5h0M437.8 233.6h0M284.1 160.2h0M293.2 192.4h0M438.6 163.4h0M426.5 222.2h0M373.1 216.5h0M357.2 98.5h0M389.9 143.2h0M444.1 58.1h0M392.9 227.4h0M430.2 172.5h0M426.4 230.2h0M444.2 207.4h0M285.0 126.5h0M348.2 104.6h0M325.2 170.1h0M374.7 208.6h0M390.3 56.1h0M393.3 188.5h0M339.5 67.1h0M363.6 55.2h0M423.5 156.4h0M377.5 183.8h0M274.6 49.6h0M304.2 53.1h0M319.2 107.8h0M403.5 127.1h0M286.0 102.1h0M416.2 222.6h0M338.9 168.0h0M343.3 93.9h0M307.0 111.4h0M269.8 190.2h0M452.4 199.9h0M372.7 83.4h0M403.9 207.4h0M361.8 181.3h0M329.0 139.6h0M321.5 96.3h0M447.7 70.1h0M328.4 215.3h0M426.2 185.8h0M359.9 222.7h0M378.3 156.2h0M334.0 210.2h0M287.6 208.8h0M451.3 231.0h0M450.1 141.8h0M336.0 175.8h0M306.6 232.0h0M410.1 136.6h0M391.6 80.3h0M294.9 230.5h0M348.0 222.9h0M383.7 218.9h0M335.7 79.5h0M389.4 47.0h0M337.6 122.6h0M334.4 188.4h0M424.9 60.5h0M347.4 140.8h0M264.3 124.8h0M356.8 185.1h0M304.6 215.4h0M313.5 104.1h0M337.5 56.5h0M385.1 147.3h0M423.2 171.9h0M300.7 197.6h0M353.0 94.0h0M409.0 89.2h0M287.2 233.3h0M448.0 128.2h0M313.7 65.5h0M319.0 211.8h0M362.9 131.9h0M350.9 177.8h0M384.4 82.8h0M431.7 105.9h0M279.0 111.6h0M364.6 207.4h0M366.4 150.9h0M333.7 196.7h0M307.8 191.3h0M292.2 51.9h0M320.7 232.0h0M378.4 87.0h0M263.7 171.5h0M440.2 71.3h0M292.9 58.4h0M289.8 108.7h0M264.9 155.1h0M331.8 98.3h0M377.4 65.8h0M264.5 202.1h0M376.3 148.5h0M397.8 109.8h0M386.6 61.8h0M320.4 164.6h0M288.3 165.0h0M333.1 158.7h0M321.6 150.0h0M381.0 132.4h0M344.4 182.4h0M420.6 204.9h0M282.2 193.2h0M305.5 225.2h0M290.8 145.6h0M346.4 196.8h0M322.8 204.3h0M268.4 94.6h0M387.0 125.1h0M389.8 98.3h0M288.4 71.8h0M376.6 115.3h0M300.4 221.8h0M426.8 83.7h0M324.8 60.8h0M328.8 131.2h0M431.0 156.6h0M436.3 77.6h0M439.6 106.0h0M291.7 175.2h0M399.0 145.9h0M446.3 178.3h0M394.6 209.7h0M289.7 152.7h0M306.9 64.6h0M325.0 103.8h0M308.0 157.4h0M326.4 234.5h0M278.3 163.5h0M359.4 119.0h0M302.5 133.0h0M326.9 89.2h0"/>
<path class="g" d="M356.0 195.5h0M395.2 230.0h0M411.3 98.6h0M431.7 215.7h0M406.8 202.0h0M336.3 151.4h0M423.3 217.2h0M328.7 69.5h0M404.7 93.5h0M441.3 93.0h0M445.5 168.1h0M433.3 199.6h0M272.5 214.3h0M437.4 220.1h0M363.0 106.5h0M382.8 195.1h0M445.2 50.8h0M421.9 231.2h0M335.0 222.4h0M390.1 208.6h0M391.8 224.5h0M360.6 136.9h0M442.7 215.4h0M433.8 138.9h0M437.4 210.8h0M380.7 90.7h0M417.1 158.1h0M399.3 225.0h0M429.8 114.5h0M396.6 60.8h0M381.2 115.3h0M400.3 72.8h0M346.7 157.4h0M422.0 171.8h0M393.7 163.6h0M409.0 192.7h0M344.6 233.2h0M342.8 143.7h0M416.6 179.3h0M414.0 66.2h0M445.4 113.2h0M430.8 225.7h0M452.9 154.6h0M399.3 137.0h0M450.5 146.7h0M433.3 182.2h0M401.5 109.3h0M429.8 82.5h0M444.1 227.4h0M412.4 119.8h0M382.9 160.1h0M378.5 102.2h0M391.9 178.4h0M322.6 183.0h0M364.2 171.2h0M425.9 191.5h0M350.3 229.3h0M374.5 153.4h0M415.8 107.4h0M395.9 196.9h0M343.7 102.2h0M376.5 227.8h0M405.0 218.4h0M449.3 95.5h0M380.7 178.9h0M382.9 169.5h0M419.2 116.8h0M384.9 135.9h0M311.4 122.7h0M358.8 100.5h0M409.8 149.4h0M318.0 202.9h0M432.2 121.0h0M350.3 130.0h0M435.3 150.8h0M373.7 204.5h0M427.9 63.3h0M326.4 164.7h0M394.7 68.8h0M407.7 125.5h0M366.2 222.9h0M392.8 87.6h0M429.0 50.5h0M314.3 88.7h0M376.1 174.5h0M312.1 134.7h0M450.9 52.7h0M400.3 182.8h0M416.0 214.9h0M285.6 228.1h0M427.3 206.3h0M338.4 200.7h0M413.2 163.4h0M393.0 108.9h0M439.7 119.8h0M415.7 142.9h0M369.9 106.9h0M302.8 159.3h0M361.6 227.9h0M427.3 166.6h0M436.6 97.6h0M419.0 191.0h0M318.6 217.5h0M282.9 137.6h0M400.3 126.2h0M368.1 232.8h0M414.6 129.2h0M442.0 127.4h0M418.4 94.0h0M303.2 187.0h0M346.0 188.1h0M403.1 49.8h0M356.9 154.6h0M314.4 211.4h0M377.2 124.1h0M379.2 133.5h0M435.0 232.1h0M401.9 118.4h0M423.7 139.5h0M438.5 194.6h0M382.2 205.8h0M333.2 166.0h0M382.9 230.4h0M444.4 191.8h0M363.8 187.0h0M388.6 186.4h0M420.2 147.8h0M336.2 131.9h0M399.0 160.2h0M451.8 101.2h0M452.8 204.7h0M426.7 99.5h0M405.8 186.7h0M372.2 88.6h0M451.2 182.5h0M394.5 149.1h0M425.3 93.3h0M343.7 225.3h0M341.0 215.6h0M418.0 134.5h0M358.5 160.7h0M296.2 219.8h0M389.1 198.0h0M403.3 165.7h0M398.1 214.9h0M312.1 217.7h0M434.7 171.5h0M392.1 55.9h0M355.1 134.4h0M287.3 98.9h0M300.0 150.5h0M377.3 75.3h0M385.6 222.4h0M288.2 76.9h0M356.4 48.0h0M427.4 160.2h0M380.5 186.0h0M287.7 122.2h0M366.5 214.9h0M439.8 155.1h0M362.6 201.6h0M391.2 215.6h0M374.7 141.3h0M368.4 178.2h0M357.6 179.3h0M436.5 59.5h0M377.3 211.0h0M363.6 65.9h0M407.0 140.6h0M373.4 197.8h0M405.5 58.1h0M402.6 195.8h0M411.0 223.2h0M427.1 146.6h0M311.3 184.8h0M392.5 75.2h0M436.9 84.4h0M318.3 193.6h0M445.2 61.0h0M339.7 208.4h0M373.6 165.5h0M439.7 133.2h0M389.2 233.1h0M400.6 98.7h0M344.7 115.9h0M444.0 177.5h0M453.1 216.2h0M448.0 126.6h0M312.8 168.0h0M399.1 171.7h0M442.7 199.5h0M354.4 86.5h0M311.4 198.1h0M352.0 201.2h0M343.2 131.0h0M450.8 195.7h0M411.1 92.5h0M348.3 165.9h0M386.3 147.9h0M414.7 196.8h0M445.2 85.0h0M420.8 200.3h0M352.5 69.5h0M302.3 107.9h0M391.9 134.4h0M451.8 69.9h0M387.3 78.9h0M448.9 106.7h0M408.7 74.0h0M425.9 106.5h0M373.5 81.7h0M384.1 216.5h0M338.3 178.8h0M407.2 111.6h0M354.0 187.4h0M445.1 68.9h0M294.1 232.8h0M435.1 160.4h0M324.8 91.9h0M304.6 217.7h0M399.1 204.6h0M351.3 124.1h0M272.1 192.4h0M288.1 205.2h0M447.7 208.4h0M342.4 92.6h0M409.3 172.5h0M411.9 60.5h0M347.8 210.8h0M365.8 208.7h0M288.1 212.7h0M290.6 60.6h0M370.6 186.9h0M273.8 228.9h0M436.5 69.0h0M295.8 132.8h0M393.0 124.7h0M450.4 138.1h0M405.6 132.1h0M393.9 115.2h0M345.8 80.7h0M433.1 103.7h0M439.0 47.4h0M446.5 233.5h0M444.4 77.4h0M266.0 120.1h0M351.6 172.5h0M439.2 103.3h0M280.0 128.0h0M293.4 179.8h0M403.9 232.2h0M419.2 223.0h0M276.9 221.1h0M328.7 170.5h0M448.9 162.4h0M346.1 181.9h0M386.9 106.1h0M453.0 226.6h0M363.8 48.8h0M427.2 132.3h0M439.5 167.5h0M325.0 147.6h0M360.2 58.5h0M402.3 145.6h0M329.1 136.2h0M412.0 46.7h0M303.4 209.6h0M349.9 146.5h0M280.2 206.2h0M336.4 105.7h0M389.7 98.4h0M407.9 212.9h0M362.6 119.7h0M397.5 91.8h0M373.8 222.0h0M324.0 224.5h0M334.4 141.9h0M297.1 172.6h0M451.9 82.9h0M353.8 220.9h0M416.8 74.9h0M367.8 131.3h0M269.5 157.3h0M444.7 100.0h0M301.0 83.7h0M317.7 143.2h0M453.4 111.3h0M441.4 206.2h0M357.0 232.5h0M325.9 216.6h0M407.4 160.6h0M361.9 147.2h0M328.2 185.5h0"/>
<path class="g" d="M418.9 217.6h0M444.5 92.8h0M446.6 52.8h0M432.7 195.5h0M436.5 225.0h0M393.1 209.3h0M413.6 155.8h0M404.9 202.1h0M394.8 71.3h0M397.3 224.4h0M386.2 194.0h0M393.2 219.4h0M358.2 134.5h0M442.6 220.4h0M411.4 104.0h0M377.4 92.6h0M417.4 230.9h0M342.7 159.1h0M412.3 178.5h0M393.1 177.4h0M430.8 153.0h0M434.4 145.6h0M385.0 166.9h0M370.0 218.9h0M332.9 223.5h0M376.7 176.7h0M429.2 50.2h0M365.4 110.4h0M411.9 188.5h0M443.5 232.1h0M430.4 225.7h0M396.2 193.2h0M436.6 184.3h0M425.1 200.9h0M311.9 126.0h0M418.4 193.8h0M412.8 117.3h0M392.0 160.7h0M386.7 212.8h0M451.8 160.2h0M419.2 118.9h0M367.4 228.8h0M405.8 118.9h0M353.5 193.8h0M393.5 62.8h0M435.1 98.1h0M411.1 215.1h0M351.4 230.2h0M448.2 117.1h0M379.3 138.4h0M427.7 217.1h0M438.1 153.2h0M399.6 126.3h0M418.1 138.9h0M405.3 52.9h0M429.2 78.7h0M377.9 195.0h0M403.5 106.2h0M417.3 175.0h0M447.1 225.7h0M415.9 144.9h0M436.4 168.9h0M431.5 125.5h0M413.1 94.6h0M450.0 99.4h0M399.4 137.7h0M393.8 134.7h0M385.8 91.4h0M389.6 225.7h0M377.5 159.5h0M405.6 152.9h0M363.6 234.4h0M377.6 185.2h0M375.0 118.9h0M298.6 156.1h0M352.2 159.8h0M395.7 151.0h0M406.7 98.4h0M380.2 122.9h0M396.1 186.3h0M437.3 63.1h0M433.5 111.8h0M311.7 91.4h0M424.0 226.1h0M341.7 141.1h0M393.7 230.9h0M431.8 134.1h0M406.3 126.5h0M360.8 186.7h0M323.1 216.8h0M416.1 70.0h0M431.6 177.2h0M311.2 84.8h0M398.0 78.1h0M414.8 111.6h0M431.2 88.0h0M406.8 225.2h0M451.2 210.0h0M387.3 134.0h0M338.2 197.1h0M356.3 180.4h0M442.4 175.7h0M400.4 67.3h0M438.2 215.0h0M397.4 165.0h0M350.6 130.6h0M426.4 113.6h0M378.0 231.2h0M452.8 179.2h0M350.3 88.7h0M384.7 180.1h0M394.8 111.0h0M321.7 189.5h0M419.9 99.7h0M388.9 204.8h0M363.4 180.1h0M368.4 187.3h0M358.8 101.4h0M438.3 92.5h0M359.6 225.7h0M427.0 160.8h0M406.7 63.1h0M409.1 167.5h0M330.1 73.5h0M389.0 81.7h0M340.0 221.2h0M396.6 99.0h0M446.3 169.3h0M442.7 130.6h0M443.2 158.5h0M328.5 159.3h0M429.9 62.5h0M430.7 189.4h0M433.4 57.6h0M443.0 111.1h0M443.7 190.4h0M340.9 207.7h0M313.4 218.5h0M352.1 138.6h0M352.5 166.5h0M428.2 208.2h0M444.4 205.1h0M372.8 204.5h0M440.9 196.2h0M425.6 174.8h0M451.7 123.8h0M285.7 213.9h0M397.1 87.1h0M359.9 47.3h0M419.6 128.3h0M382.5 226.1h0M344.2 126.6h0M446.1 147.8h0M290.6 55.8h0M408.5 207.3h0M369.9 151.1h0M363.2 210.6h0M289.6 232.8h0M362.1 192.7h0M385.7 233.2h0M333.6 133.7h0M388.4 124.5h0M381.3 130.4h0M381.1 79.3h0M342.4 227.4h0M284.4 135.2h0M432.4 72.7h0M304.2 212.7h0M422.9 92.6h0M374.2 70.7h0M381.6 106.5h0M374.2 133.9h0M345.8 184.0h0M404.0 217.5h0M371.2 85.9h0M408.3 69.7h0M273.8 219.1h0M365.3 165.8h0M422.3 64.5h0M299.2 106.3h0M346.3 202.2h0M448.4 183.3h0M452.9 146.4h0M362.6 59.3h0M296.8 228.9h0M444.1 78.5h0M345.4 104.6h0M381.7 116.1h0M404.9 140.4h0M423.5 232.9h0M410.6 47.6h0M415.3 222.6h0M424.7 140.0h0M405.1 90.9h0M378.9 211.8h0M404.2 194.4h0M436.1 80.4h0M398.1 171.2h0M296.7 146.1h0M375.7 108.0h0M417.3 199.8h0M384.7 151.3h0M285.6 81.5h0M376.7 145.4h0M399.6 212.3h0M420.1 149.8h0M412.0 194.5h0M385.1 98.3h0M346.9 76.8h0M419.4 167.9h0M332.3 165.0h0M450.4 71.3h0M428.3 96.8h0M450.9 58.4h0"/>
<path class="g" d="M419.4 216.1h0M432.2 196.7h0M359.4 132.4h0M376.4 93.2h0M444.6 93.5h0M343.0 156.3h0M382.8 167.6h0M412.0 99.9h0M422.4 233.4h0M384.6 192.1h0M394.7 221.7h0M435.4 153.1h0M394.5 192.3h0M451.7 155.6h0M427.0 202.2h0M397.8 75.0h0M415.8 106.1h0M449.7 165.0h0M398.4 126.9h0M443.8 50.2h0M442.5 219.8h0M437.1 97.6h0M421.7 141.6h0M332.0 223.2h0M364.2 105.1h0M432.0 79.4h0M427.8 220.5h0M392.9 59.0h0M433.3 182.8h0M380.3 197.1h0M312.2 125.8h0M418.0 196.5h0M440.2 230.6h0M377.7 179.2h0M437.2 141.6h0M413.8 152.6h0M355.0 194.2h0M390.4 148.9h0M407.7 197.4h0M426.7 149.3h0M428.5 110.9h0M435.2 85.8h0M408.2 226.3h0M377.1 140.6h0M441.2 172.1h0M448.5 225.5h0M298.5 157.2h0M404.6 150.1h0M370.8 176.1h0M392.1 157.9h0M436.0 166.8h0M370.4 226.0h0M354.6 155.4h0M449.4 102.8h0M449.3 56.0h0M354.4 233.5h0M412.0 215.4h0M360.0 189.1h0M422.3 226.3h0M389.9 133.1h0M363.5 180.9h0M416.2 189.9h0M412.1 114.7h0M388.5 77.8h0M432.2 226.0h0M435.5 133.7h0M403.1 61.0h0M382.3 183.4h0M332.5 71.7h0M398.8 188.0h0M399.4 140.4h0M430.4 125.2h0M405.0 109.2h0M449.1 212.5h0M410.0 64.9h0M407.9 184.6h0M418.2 133.5h0M400.3 100.9h0M350.2 189.2h0M377.8 127.1h0M372.4 214.3h0M429.8 49.9h0M450.4 179.0h0M431.6 65.6h0M438.1 115.4h0M401.0 202.9h0M446.4 205.5h0M395.1 107.7h0M385.5 224.5h0M415.7 175.1h0M389.8 177.0h0M347.4 165.2h0M364.5 48.0h0M356.2 181.4h0M397.5 230.0h0M404.5 167.3h0M312.1 216.0h0M402.2 114.7h0M412.5 139.6h0M448.8 232.2h0M406.3 122.3h0M392.5 215.1h0M422.2 175.7h0M340.8 139.9h0M402.5 215.6h0M429.5 99.7h0M317.3 92.1h0M425.1 117.9h0M370.2 199.2h0M437.1 70.0h0M436.2 123.6h0M375.4 116.3h0M379.6 221.0h0M433.9 211.6h0M415.0 90.9h0M449.5 115.4h0M393.2 182.6h0M369.5 156.4h0M370.9 107.4h0M373.8 134.8h0M443.2 193.2h0M375.2 203.6h0M418.2 203.8h0M425.9 81.4h0M364.1 227.9h0M349.2 225.6h0M345.1 220.7h0M380.4 228.7h0M397.5 120.8h0M423.3 209.8h0"/>
<path class="g" d="M377.9 98.2h0M384.4 171.6h0M428.4 201.2h0M384.1 163.2h0M418.6 232.4h0M427.8 230.8h0M419.9 140.9h0M422.1 216.9h0M395.7 222.9h0M374.1 91.2h0M415.7 95.4h0M448.7 158.4h0M433.0 97.0h0M386.0 188.8h0M413.5 196.5h0M396.1 74.8h0M432.5 154.7h0M436.4 142.0h0M381.9 183.4h0M429.9 83.3h0M367.6 107.8h0M410.8 153.3h0M446.6 93.1h0M438.9 234.2h0M422.5 194.8h0M419.4 154.5h0M351.4 229.9h0M429.8 219.5h0M371.6 225.8h0M441.1 172.7h0M448.5 102.2h0M300.2 155.0h0M396.4 195.4h0M451.8 52.7h0M444.0 221.6h0M390.6 57.8h0M398.5 135.4h0M434.1 120.6h0M432.1 165.7h0M376.6 179.9h0M347.3 157.8h0M413.2 104.2h0M437.9 131.6h0M447.4 47.7h0M410.2 226.4h0M434.9 182.9h0M414.0 158.5h0M359.1 104.5h0M410.3 183.8h0M393.7 108.0h0M376.3 124.5h0M428.3 127.8h0M411.5 112.2h0M398.6 64.0h0M430.4 115.3h0M448.1 180.4h0M377.9 164.5h0M435.3 52.0h0M449.8 207.8h0M383.2 224.5h0M392.1 188.8h0M406.0 147.0h0M359.8 132.9h0M390.4 176.4h0M347.9 167.2h0M333.0 71.3h0M435.5 74.7h0M421.6 171.6h0M450.0 168.1h0M353.2 160.2h0M402.2 102.1h0M447.9 115.7h0M414.1 190.3h0M361.5 47.3h0M390.0 218.9h0M439.4 165.7h0"/>
<path class="g" d="M384.4 191.6h0M422.9 138.3h0M416.2 216.1h0M432.0 197.8h0M379.9 165.9h0M390.8 222.2h0M422.5 229.9h0M417.0 195.2h0M453.0 154.8h0M411.3 97.2h0M446.0 94.8h0M425.2 221.2h0M376.8 182.8h0M436.2 143.3h0M427.2 79.1h0M367.3 227.1h0M378.7 88.6h0M394.5 58.8h0M394.0 191.8h0M407.5 153.4h0M449.1 104.1h0M433.9 165.7h0M344.5 161.3h0M430.4 120.1h0M433.7 180.8h0M394.9 73.4h0M436.5 172.6h0M348.3 166.3h0M447.1 53.5h0M394.6 135.0h0M380.8 176.1h0M435.1 114.4h0M444.4 170.0h0M386.8 228.2h0M447.5 218.7h0M447.7 205.0h0M367.4 107.0h0M418.5 188.7h0M432.3 224.1h0M377.0 127.3h0M408.0 195.2h0"/>
<path class="g" d="M383.9 193.8h0M432.1 199.1h0M422.9 221.7h0M446.9 89.2h0M383.6 161.7h0M413.2 100.8h0M418.0 139.3h0M422.7 228.0h0M393.3 224.0h0M447.7 99.3h0M416.2 193.3h0M450.8 155.7h0M407.9 149.8h0M381.3 179.1h0M396.7 196.6h0M430.1 83.2h0M435.0 137.8h0M437.3 145.5h0M372.6 229.4h0M399.2 74.7h0M445.4 106.1h0M397.9 135.5h0M425.5 118.3h0M437.7 168.9h0M380.6 168.7h0M341.6 158.2h0"/>
<path class="g" d="M388.2 194.0h0M432.7 201.3h0M412.4 151.3h0M453.0 158.7h0M378.8 183.9h0M409.8 101.2h0M426.8 227.5h0M392.4 224.6h0M395.3 197.6h0M383.3 162.5h0M380.0 168.9h0M396.5 137.8h0M406.4 154.2h0"/>
<path class="g" d="M427.9 199.7h0M451.2 159.7h0"/>
<path class="g" d="M432.5 198.7h0"/>
<path class="r" d="M445.2 56.5h0M279.8 77.6h0M378.9 125.4h0M348.2 184.2h0M268.9 147.2h0M335.9 67.0h0M370.1 190.2h0M325.4 208.9h0M453.3 107.9h0M294.3 92.9h0M351.3 134.9h0M401.1 143.2h0M325.4 103.1h0M322.5 54.7h0M375.3 176.0h0M360.9 59.0h0M274.9 111.9h0M306.7 70.1h0M362.9 74.1h0M296.4 108.2h0M267.7 186.6h0M293.5 200.1h0M292.5 227.8h0M380.5 95.1h0M327.7 228.8h0M323.8 215.4h0M338.3 137.9h0M294.3 216.6h0M311.3 123.5h0M415.6 101.3h0M344.0 135.7h0M270.5 157.8h0M401.1 189.4h0M298.2 191.1h0M362.6 147.3h0M360.8 125.4h0M281.5 83.8h0M318.7 49.8h0M267.3 105.8h0M321.8 76.6h0M277.7 181.2h0M300.2 127.2h0M351.7 93.0h0M286.8 211.7h0M314.8 135.7h0M422.4 178.8h0M356.5 185.9h0M320.0 191.1h0M351.2 102.4h0M291.2 151.7h0M376.7 68.9h0M353.4 53.8h0M289.9 119.5h0M302.6 52.9h0M264.3 143.4h0M388.7 92.8h0M391.8 171.7h0M359.2 229.5h0M413.2 72.2h0M294.6 162.9h0M319.7 232.7h0M322.3 112.6h0M366.0 62.7h0M415.2 116.4h0M307.9 148.6h0M385.1 59.9h0M282.6 189.9h0M333.5 160.3h0M308.7 78.0h0M323.8 60.5h0M310.5 189.5h0M345.3 88.2h0M350.0 157.2h0M288.1 58.4h0M415.2 233.0h0M330.3 202.1h0M290.0 140.2h0M301.6 62.0h0M273.8 194.2h0M320.2 153.6h0M370.5 145.8h0M409.0 49.1h0M269.5 130.9h0M384.4 132.3h0M342.6 99.2h0M315.4 63.5h0M327.0 133.5h0M348.7 149.2h0M328.8 151.8h0M415.7 62.5h0M376.0 102.6h0M338.1 145.4h0M304.6 192.5h0M305.7 230.0h0M280.2 108.7h0M290.3 176.3h0M268.6 170.6h0M399.5 72.6h0M366.3 120.0h0M420.7 108.1h0M361.9 135.4h0M372.3 137.6h0M346.8 55.9h0M288.0 168.7h0M310.6 100.8h0M359.7 65.9h0M387.7 54.4h0M377.2 117.3h0M332.6 84.6h0M390.4 159.3h0M332.5 120.9h0M297.6 78.0h0M279.0 121.9h0M438.2 151.0h0M267.2 228.9h0M306.0 119.5h0M424.2 50.2h0M380.5 86.0h0M303.6 102.4h0M265.7 69.7h0M275.7 206.8h0M415.4 180.8h0M412.5 205.7h0M386.2 74.9h0M438.7 229.2h0M392.2 144.3h0M330.6 75.6h0M372.2 88.2h0M445.2 111.2h0M422.0 99.2h0M440.7 78.5h0M394.6 77.9h0M264.1 85.2h0M362.0 81.8h0M432.0 148.2h0M385.0 205.0h0M361.6 96.1h0M305.5 86.7h0M372.7 79.7h0M312.1 182.3h0M268.6 118.1h0M300.7 173.8h0M298.7 225.7h0M343.0 192.1h0M447.4 125.4h0M333.2 51.2h0M283.3 233.3h0M432.1 228.9h0M312.2 231.2h0M440.2 65.7h0M263.8 55.0h0M430.1 196.0h0M413.3 187.8h0M357.1 199.5h0M371.0 111.8h0M271.8 176.3h0M353.9 111.0h0M282.6 133.9h0M351.3 120.5h0M387.5 153.2h0M327.9 176.6h0M264.0 62.8h0M441.5 91.9h0M423.0 228.5h0M314.6 89.3h0M264.9 215.0h0M419.0 172.3h0M427.9 203.0h0M430.8 79.3h0M316.2 103.0h0M358.3 169.1h0M364.0 112.5h0M421.4 202.5h0M287.3 199.5h0M275.4 89.4h0M342.8 174.1h0M352.1 87.0h0M403.9 61.7h0M281.2 66.4h0M438.4 170.9h0M369.2 153.4h0M338.7 47.7h0M283.9 160.6h0M349.5 75.7h0M265.4 78.0h0M310.8 109.7h0M314.7 164.0h0M314.0 71.8h0M267.9 200.0h0M432.3 124.4h0M335.2 184.8h0M384.1 225.2h0M289.0 182.8h0M393.3 106.2h0M322.4 121.5h0M368.7 170.0h0M350.0 170.3h0M383.6 193.8h0M341.4 153.1h0M291.8 64.3h0M339.9 80.8h0M335.3 90.0h0M309.0 168.7h0M280.1 141.5h0M395.7 89.1h0M443.9 148.9h0M303.2 221.0h0M367.2 204.9h0M357.7 177.2h0M422.5 145.0h0M269.8 208.8h0M349.2 142.6h0M402.2 206.2h0M329.5 108.0h0M311.8 224.3h0M369.2 56.1h0M367.4 129.2h0M283.6 52.5h0M265.3 135.5h0M431.0 48.5h0M337.3 115.9h0M315.1 198.2h0M346.7 111.8h0M273.6 124.8h0M302.2 180.7h0M322.2 184.8h0M396.8 59.2h0M326.6 165.0h0M379.0 217.3h0M274.4 102.3h0M345.8 47.8h0M298.8 84.6h0M450.9 161.4h0M345.2 204.6h0M365.6 90.8h0M376.3 62.2h0M431.9 174.4h0M399.8 115.0h0M418.0 122.0h0M402.8 129.8h0M446.7 75.1h0M324.1 86.3h0M408.9 94.7h0M304.4 204.4h0M310.2 52.2h0M443.6 48.5h0M291.3 85.6h0M288.3 76.6h0M350.4 62.6h0M321.2 173.3h0M306.5 215.1h0M280.2 171.7h0M310.2 60.1h0M263.8 113.8h0M391.8 212.8h0M340.4 167.8h0M368.0 219.2h0M343.8 213.0h0M352.9 126.9h0M369.5 69.1h0M398.4 83.3h0M349.1 220.8h0M356.2 139.8h0M287.0 221.0h0M412.6 152.0h0M275.2 152.1h0M444.4 178.7h0M270.5 222.5h0M358.2 219.3h0M394.4 51.2h0M324.6 145.5h0M319.2 82.4h0M317.2 218.1h0M397.3 136.5h0M366.7 229.8h0M280.2 199.2h0M381.4 186.0h0M308.6 155.0h0M408.8 124.5h0M316.3 147.0h0M421.4 188.6h0M381.1 171.2h0M438.0 157.1h0M405.0 87.1h0M396.3 130.3h0M282.4 94.5h0M300.6 150.6h0M387.7 232.2h0M446.2 134.3h0M285.7 101.1h0M296.9 155.9h0M275.4 134.2h0M426.2 63.0h0M346.1 81.3h0M400.1 96.4h0M430.3 98.7h0M279.4 214.4h0M452.9 146.8h0M413.6 55.6h0M276.6 165.1h0M337.8 206.5h0M275.0 48.2h0M435.9 102.7h0M391.7 67.3h0M449.2 202.6h0M331.8 137.1h0M271.8 70.9h0M276.6 158.8h0M437.4 182.2h0M423.0 159.4h0M381.5 48.9h0M301.9 113.9h0M343.3 120.1h0M385.4 111.9h0M344.1 159.1h0M386.5 105.2h0M273.8 57.7h0M403.3 196.6h0M379.3 234.0h0M294.4 51.2h0M453.1 207.2h0M395.5 151.0h0M341.6 72.6h0M298.4 144.7h0M330.7 127.9h0M367.8 96.9h0M358.7 162.9h0M407.0 145.8h0M292.7 133.6h0M305.0 96.2h0M401.6 178.3h0M312.6 174.6h0M391.4 124.9h0M407.4 182.7h0M283.7 117.8h0M426.1 88.1h0M393.8 227.3h0M449.5 152.0h0M267.8 98.5h0M398.5 214.1h0M314.7 116.1h0M335.5 217.2h0M452.2 85.3h0M438.0 134.0h0M427.9 163.9h0M451.1 167.6h0M295.2 57.7h0M415.9 89.8h0M334.9 172.4h0M406.2 139.5h0M344.1 226.2h0M305.4 131.0h0M357.4 103.9h0M331.6 98.1h0M362.0 157.8h0M429.3 108.5h0M293.7 114.2h0M340.1 181.2h0M298.4 121.5h0M434.8 162.9h0M439.7 203.7h0M405.2 231.7h0M415.4 138.9h0M437.7 142.9h0M268.1 50.3h0M400.9 159.5h0M356.7 47.8h0M328.5 189.8h0M265.3 177.0h0M439.3 115.0h0M363.0 185.3h0M281.5 155.1h0M311.6 142.7h0M394.4 119.3h0M375.3 151.1h0M325.9 71.0h0M370.9 163.4h0M378.8 200.1h0M405.1 219.7h0M265.3 123.7h0M330.0 62.9h0M337.6 61.0h0M343.3 63.9h0M431.1 154.8h0M431.3 222.5h0M413.2 79.9h0M288.6 189.5h0M438.6 195.5h0M377.7 54.3h0M326.8 94.0h0M450.4 61.9h0M287.8 126.3h0M314.8 206.0h0M403.3 79.0h0M276.9 224.5h0M406.7 106.3h0M424.0 124.6h0M328.2 220.7h0M428.7 118.7h0M390.7 183.3h0M265.5 163.8h0M416.3 163.0h0M296.4 208.8h0M432.6 212.5h0M355.1 78.3h0M378.7 136.4h0M295.0 169.6h0M301.5 198.8h0M421.4 59.1h0M404.1 68.0h0M322.3 199.1h0M441.3 84.6h0M409.0 212.0h0M407.0 155.2h0M344.6 127.1h0M413.2 198.6h0"/>
<path class="r" d="M278.0 80.4h0M303.7 69.1h0M290.4 224.0h0M343.1 135.9h0M362.3 61.4h0M266.7 149.8h0M451.4 112.8h0M360.6 143.9h0M311.9 128.2h0M316.4 54.6h0M324.2 220.1h0M295.3 151.5h0M319.1 117.6h0M290.7 196.2h0M343.5 187.6h0M363.0 75.7h0M309.6 144.1h0M290.3 142.1h0M285.8 214.3h0M300.6 125.7h0M271.0 197.8h0M351.8 179.8h0M420.2 102.9h0M353.6 186.8h0M372.6 176.5h0M378.6 72.9h0M393.2 176.8h0M422.6 178.4h0M288.8 206.3h0M308.3 194.6h0M353.6 57.1h0M328.3 61.2h0M284.0 87.2h0M343.3 86.0h0M413.3 66.5h0M276.6 190.8h0M264.9 158.4h0M351.9 155.1h0M419.6 117.8h0M369.3 134.1h0M291.6 109.7h0M321.3 78.6h0M401.6 147.2h0M359.3 126.9h0M309.7 82.1h0M294.4 158.4h0M332.4 200.8h0M372.1 145.8h0M287.6 124.3h0M301.3 227.3h0M267.6 231.3h0M387.7 169.8h0M284.0 191.0h0M292.4 215.0h0M323.3 205.6h0M314.3 186.3h0M409.2 49.4h0M370.4 65.9h0M321.2 47.2h0M320.0 111.1h0M270.0 182.6h0M331.0 53.5h0M307.9 117.3h0M285.6 179.4h0M438.2 78.9h0M280.1 106.7h0M356.0 111.3h0M385.9 72.3h0M345.8 97.3h0M312.0 90.9h0M376.7 116.5h0M328.7 99.1h0M264.4 75.1h0M312.0 231.4h0M368.2 89.4h0M388.6 88.4h0M283.1 157.2h0M291.0 134.6h0M298.9 52.6h0M416.8 192.4h0M377.0 136.9h0M401.8 63.4h0M429.4 197.0h0M325.2 125.2h0M295.4 200.4h0M304.7 104.8h0M268.8 132.2h0M322.6 233.9h0M350.7 86.6h0M376.5 92.3h0M336.4 117.9h0M386.2 134.1h0M346.8 150.5h0M268.1 81.7h0M302.8 61.6h0M290.5 184.4h0M294.1 228.7h0M295.5 68.5h0M332.4 91.8h0M314.0 109.9h0M341.2 54.9h0M277.1 88.6h0M389.1 59.0h0M414.6 173.7h0M396.1 68.7h0M342.7 195.9h0M380.2 98.6h0M283.9 130.3h0M396.7 91.1h0M300.5 89.9h0M330.0 131.9h0M443.9 59.4h0M425.9 147.6h0M270.5 117.1h0M401.2 139.1h0M357.8 182.0h0M301.4 180.6h0M431.4 143.9h0M337.3 78.2h0M315.0 69.3h0M325.8 188.4h0M292.8 91.3h0M341.0 145.7h0M350.7 76.1h0M317.8 165.8h0M375.1 84.3h0M332.3 150.4h0M432.6 121.8h0M369.2 78.2h0M287.3 61.0h0M341.3 203.1h0M332.5 173.9h0M286.1 52.7h0M329.2 76.0h0M403.8 115.8h0M283.9 74.7h0M292.2 173.4h0M343.6 157.2h0M392.5 143.2h0M273.2 110.4h0M441.9 115.2h0M428.8 76.1h0M311.3 220.8h0M337.5 62.5h0M392.2 157.0h0M420.3 59.5h0M280.5 143.3h0M265.2 170.5h0M373.0 157.5h0M360.6 82.4h0M366.1 151.1h0M312.9 102.5h0M346.8 215.2h0M350.7 164.6h0M446.8 176.6h0M355.5 68.0h0M278.4 181.3h0M444.0 72.2h0M271.7 126.3h0M327.4 144.2h0M388.7 51.4h0M339.4 212.3h0M263.9 101.9h0M354.0 139.2h0M372.8 100.2h0M325.3 149.9h0M350.6 145.3h0M357.2 119.7h0M278.6 175.0h0M286.6 229.3h0M412.1 76.5h0M352.6 127.3h0M327.8 162.0h0M332.7 104.7h0M300.3 81.2h0M365.7 166.6h0M308.4 213.0h0M319.4 88.6h0M278.1 97.8h0M370.7 201.3h0M317.4 135.8h0M382.8 86.0h0M383.2 206.0h0M437.9 61.3h0M271.1 204.7h0M344.6 177.2h0M277.5 208.3h0M401.1 100.5h0M279.7 166.0h0M438.3 229.6h0M364.8 101.1h0M317.9 222.6h0M265.9 176.7h0M317.5 97.3h0M369.3 57.6h0M300.3 75.0h0M271.8 102.2h0M409.0 98.0h0M308.9 61.4h0M423.1 48.5h0M444.4 136.5h0M444.5 50.2h0M333.4 137.3h0M268.1 222.1h0M288.7 115.1h0M350.0 117.4h0M339.1 171.7h0M354.7 201.7h0M289.3 165.1h0M331.4 156.7h0M416.9 126.9h0M411.7 155.6h0M443.2 109.2h0M311.8 173.9h0M318.7 158.8h0M269.8 63.7h0M304.5 149.7h0M298.6 96.1h0M379.5 80.2h0M387.1 96.3h0M405.7 196.6h0M276.6 121.2h0M440.0 178.2h0M432.1 83.2h0M296.3 189.9h0M277.4 47.8h0M339.4 47.4h0M385.8 79.8h0M329.3 180.1h0M273.9 218.7h0M348.4 61.4h0M322.9 54.7h0M301.0 159.8h0M401.8 178.5h0M319.5 174.6h0M308.2 49.5h0M346.8 105.2h0M426.3 227.5h0M386.3 109.4h0M370.2 190.3h0M333.1 190.1h0M368.2 128.1h0M400.5 109.6h0M362.0 220.6h0M379.7 124.2h0M273.4 160.4h0M274.0 55.3h0M277.9 197.0h0M289.9 73.9h0M428.4 158.2h0M418.4 72.5h0M276.9 135.9h0M362.4 109.0h0M385.0 195.1h0M285.2 171.3h0M421.6 110.4h0M321.6 63.5h0M437.9 184.7h0M346.3 231.3h0M348.8 222.3h0M338.5 98.2h0M382.4 234.1h0M369.1 109.6h0M277.2 148.7h0M295.7 119.4h0M263.8 55.7h0M388.8 211.0h0M441.3 87.8h0M266.1 209.8h0M354.2 230.4h0M355.8 218.0h0M269.0 95.4h0M301.6 215.3h0M325.5 116.3h0M302.3 195.9h0M413.9 139.6h0M317.4 146.3h0M294.5 79.6h0M331.3 122.5h0M432.7 53.6h0M397.7 229.1h0M382.1 151.2h0M395.4 53.6h0M387.2 226.4h0M288.0 100.0h0M298.3 109.4h0M304.4 165.5h0M325.6 138.1h0M437.3 128.7h0M417.3 208.5h0M301.1 173.9h0M393.9 75.7h0M292.5 55.7h0M373.2 216.1h0M345.0 112.7h0M304.8 95.4h0M305.5 204.5h0M305.6 186.3h0M302.7 234.1h0M353.2 98.1h0M382.9 166.0h0M277.8 66.5h0M264.5 91.1h0M306.5 134.3h0M330.5 83.6h0M416.6 89.1h0M449.7 80.2h0M438.6 203.4h0M278.5 113.9h0M386.0 156.3h0M332.9 228.0h0M361.6 53.4h0M403.1 73.8h0M309.5 75.0h0M377.1 51.1h0M365.6 119.6h0M442.8 151.0h0M360.1 152.9h0M374.8 61.2h0M359.8 96.0h0M435.7 160.3h0M304.6 55.6h0M286.7 148.6h0M431.4 231.3h0M365.6 139.5h0M339.5 68.2h0M264.8 120.0h0M332.2 166.2h0M437.4 70.7h0M331.4 111.9h0M272.5 176.0h0M296.6 139.1h0M440.1 101.5h0M423.7 96.0h0M278.0 225.1h0M270.2 70.0h0M357.0 165.8h0M338.2 219.2h0M299.6 206.9h0M393.8 130.5h0M324.6 71.5h0M311.7 180.8h0M274.0 168.5h0M390.7 121.9h0M315.6 197.5h0M264.9 201.0h0M342.8 121.2h0M399.5 132.7h0M317.9 213.9h0M409.1 186.1h0M400.1 80.7h0M412.3 122.2h0M361.2 89.5h0M447.4 207.2h0"/>
<path class="r" d="M287.8 229.4h0M317.8 114.7h0M363.5 61.0h0M339.9 137.9h0M288.3 208.0h0M306.4 124.5h0M279.7 88.2h0M327.3 217.7h0M308.9 149.0h0M312.9 130.4h0M363.8 126.6h0M360.1 66.9h0M277.1 81.6h0M309.8 194.0h0M292.5 198.9h0M375.5 146.1h0M284.9 128.7h0M306.4 73.6h0M286.3 180.5h0M289.5 114.2h0M437.6 81.7h0M273.5 184.3h0M310.0 78.9h0M326.7 53.6h0M292.0 135.0h0M303.8 226.1h0M320.5 208.1h0M303.4 102.5h0M309.3 105.3h0M354.6 87.1h0M422.9 176.8h0M265.0 69.5h0M291.2 124.8h0M305.2 67.2h0M370.9 136.5h0M347.6 90.3h0M315.6 47.1h0M352.0 53.3h0M309.7 95.1h0M319.5 232.1h0M285.5 107.5h0M295.3 150.9h0M334.8 113.1h0M268.9 81.4h0M356.5 111.8h0M268.5 145.3h0M316.8 89.5h0M400.4 59.3h0M320.3 188.7h0M366.8 78.1h0M300.2 126.7h0M373.9 116.7h0M274.9 108.0h0M380.5 82.8h0M338.2 83.5h0M345.7 96.6h0M292.7 67.5h0M397.9 141.7h0M368.1 175.5h0M327.1 91.4h0M288.9 144.3h0M330.2 176.0h0M284.6 78.2h0M409.5 69.1h0M315.4 74.8h0M413.0 64.2h0M319.8 201.2h0M374.3 99.2h0M342.5 193.7h0M281.7 60.9h0M324.3 130.1h0M382.0 130.5h0M267.3 195.7h0M391.9 141.7h0M332.0 150.9h0M318.6 162.5h0M350.7 163.1h0M372.2 88.9h0M312.8 58.8h0M294.3 94.3h0M274.8 124.5h0M349.4 153.9h0M289.8 169.1h0M331.7 102.5h0M302.1 232.2h0M288.6 90.2h0M317.9 81.6h0M325.1 81.1h0M312.2 119.9h0M437.1 63.4h0M405.2 52.0h0M349.0 143.1h0M402.1 115.4h0M329.2 169.3h0M263.9 85.0h0M324.7 122.9h0M346.0 159.2h0M266.6 112.7h0M393.6 48.0h0M365.0 94.1h0M278.6 140.8h0M264.4 150.3h0M308.0 88.9h0M311.5 136.3h0M299.8 52.7h0M346.1 79.5h0M323.3 61.3h0M356.6 183.6h0M396.9 93.2h0M294.2 174.2h0M423.8 197.7h0M314.2 213.7h0M352.4 175.8h0M381.7 118.2h0M338.5 144.4h0M267.8 131.3h0M424.6 60.7h0M381.7 70.9h0M266.4 105.6h0M267.3 202.7h0M269.6 170.5h0M303.2 58.6h0M281.5 164.9h0M274.2 164.8h0M311.1 65.5h0M356.6 143.8h0M312.1 188.4h0M270.9 101.6h0M268.8 64.8h0M323.3 48.2h0M383.0 168.9h0M387.8 62.2h0M442.9 73.7h0M281.2 49.9h0M306.5 143.3h0M446.9 56.7h0M407.8 98.4h0M339.9 66.8h0M352.9 136.6h0M366.4 101.6h0M333.0 121.4h0M416.3 73.3h0M297.4 214.4h0M372.2 68.5h0M275.9 194.9h0M389.4 52.7h0M351.8 77.2h0M291.1 215.7h0M439.1 234.6h0M325.1 183.1h0M268.3 157.7h0M286.6 160.9h0M297.5 225.1h0M323.2 175.8h0M276.6 211.3h0M305.1 159.9h0M275.2 116.8h0M345.6 59.6h0M297.4 191.5h0M342.3 131.6h0M424.5 51.0h0M387.9 112.3h0M319.8 136.0h0M360.0 84.4h0M273.0 47.5h0M276.1 54.4h0M286.8 193.9h0M272.4 219.4h0M349.7 220.4h0M321.2 155.4h0M355.1 127.7h0M305.3 208.8h0M334.3 182.7h0M273.5 175.7h0M265.0 218.4h0M340.7 120.0h0M281.2 216.4h0M341.8 154.3h0M267.5 121.2h0M411.4 103.3h0M268.9 212.6h0M389.2 78.8h0M389.6 160.7h0M319.6 54.0h0M351.4 107.8h0M377.6 139.2h0M390.6 153.1h0M327.3 75.4h0M351.5 98.9h0M305.7 183.5h0M333.5 94.5h0M358.6 197.7h0M339.0 170.1h0M307.9 52.4h0M279.7 178.4h0M318.9 69.0h0M327.6 232.6h0M333.3 62.1h0M362.3 222.3h0M380.2 89.1h0M285.6 136.8h0M416.6 56.1h0M299.7 90.3h0M355.4 117.9h0M427.0 109.8h0M340.9 91.1h0M368.6 108.2h0M337.3 212.3h0M313.8 157.0h0M292.9 186.7h0M315.4 101.8h0M285.3 222.5h0M301.4 113.8h0M448.9 48.2h0M439.6 51.6h0M445.7 88.4h0M418.7 192.4h0M384.4 106.3h0M303.9 135.5h0M299.5 163.0h0M301.9 197.0h0M293.7 205.3h0M333.7 52.7h0M413.0 88.3h0M360.0 229.0h0M433.3 139.4h0M275.5 61.2h0M414.3 115.6h0M357.5 204.3h0M319.8 220.5h0M327.7 144.4h0M325.4 110.5h0M376.7 56.3h0M334.1 200.1h0M282.5 113.8h0M382.6 77.0h0M431.6 75.4h0M346.3 211.9h0M394.0 66.1h0M406.4 76.3h0M274.4 71.2h0M310.7 224.2h0M383.4 154.7h0M314.1 171.4h0M369.0 160.7h0M412.7 204.8h0M446.6 134.6h0M271.4 90.3h0M404.0 191.9h0M264.2 166.8h0M405.5 138.0h0M413.0 80.8h0M448.4 175.4h0M369.6 194.3h0M435.2 122.5h0M422.6 145.0h0M345.3 176.9h0M281.2 69.3h0M401.5 197.9h0M332.2 191.5h0M266.8 182.8h0M296.1 62.6h0M414.7 50.0h0M412.6 126.8h0M424.5 94.4h0M312.2 232.8h0M271.9 230.7h0M430.0 228.2h0M278.4 148.6h0M365.2 151.4h0M400.7 179.7h0M367.7 122.0h0M300.4 171.9h0M329.4 137.8h0M344.9 226.7h0M384.0 200.3h0M360.9 106.4h0M318.5 148.9h0M340.3 102.9h0M285.4 151.7h0M420.7 122.2h0M286.1 121.3h0M334.9 219.4h0M415.9 168.6h0M369.5 215.7h0M439.5 151.2h0M437.1 90.2h0M395.3 131.0h0M353.2 168.8h0"/>
<path class="r" d="M317.1 112.1h0M277.9 82.8h0M283.4 89.0h0M366.3 64.6h0M283.2 180.6h0M304.0 122.7h0M271.3 189.6h0M287.0 137.9h0M361.3 129.2h0M327.1 53.6h0M306.8 102.2h0M312.8 125.7h0M311.4 132.9h0M278.7 109.5h0M366.3 77.5h0M343.1 86.4h0M270.8 80.5h0M293.1 122.6h0M288.2 198.4h0M296.8 152.7h0M309.2 81.8h0M273.4 105.8h0M293.7 89.8h0M313.1 146.6h0M312.2 198.1h0M385.1 132.8h0M371.1 115.3h0M272.5 149.5h0M400.4 61.0h0M294.5 97.0h0M287.4 76.2h0M266.7 73.6h0M333.5 106.9h0M284.8 107.9h0M356.6 113.5h0M356.3 165.0h0M298.3 125.7h0M292.6 170.4h0M307.9 63.2h0M381.2 87.2h0M359.3 72.2h0M317.2 167.2h0M404.3 48.3h0M275.1 119.2h0M289.7 144.2h0M287.6 184.9h0M313.3 191.5h0M310.7 107.4h0M305.3 224.9h0M314.0 102.0h0M324.4 131.0h0M268.8 198.1h0M399.3 143.6h0M265.5 149.9h0M276.1 179.0h0M278.1 186.4h0M289.7 213.4h0M356.1 186.2h0M321.6 119.0h0M373.5 173.0h0M349.0 54.7h0M325.4 202.7h0M276.6 144.1h0M290.4 68.0h0M414.0 69.4h0M388.1 49.2h0M326.9 167.2h0M293.1 61.7h0M322.7 47.9h0M350.6 159.0h0M354.1 51.3h0M327.9 216.5h0M363.0 97.3h0M376.5 91.2h0M295.3 196.5h0M280.9 169.7h0M267.5 118.4h0M283.9 207.1h0M326.6 152.3h0M292.6 111.2h0M369.6 92.5h0M376.9 98.6h0M420.7 193.1h0M373.9 83.9h0M325.4 78.7h0M349.9 79.7h0M278.8 56.1h0M268.2 65.3h0M346.2 98.8h0M281.9 191.9h0M272.7 47.9h0M357.4 123.8h0M266.1 107.4h0M310.8 116.0h0M370.8 140.8h0M303.9 147.4h0M349.6 150.1h0M416.2 61.6h0M350.7 135.7h0M316.6 232.9h0M282.6 159.1h0M356.5 82.8h0M304.4 87.7h0M272.4 60.3h0M284.4 218.1h0M322.4 189.8h0M283.3 47.2h0M286.4 52.7h0M349.0 142.1h0M336.9 157.6h0M329.3 120.5h0M281.3 129.0h0M408.6 98.1h0M355.6 57.6h0M294.5 176.4h0M290.1 162.1h0M329.4 92.7h0M334.6 63.1h0M369.1 71.8h0M382.4 167.1h0M300.1 220.7h0M349.5 168.1h0M343.1 159.4h0M305.9 182.8h0M338.7 149.0h0M370.7 102.3h0M320.4 180.1h0M295.1 140.0h0M302.8 232.6h0M305.1 69.3h0M265.4 171.2h0M264.2 134.9h0M449.4 49.9h0M288.3 117.8h0M335.1 209.0h0M343.9 194.1h0M383.5 121.9h0M309.0 153.3h0M362.0 56.6h0M269.1 211.1h0M274.9 99.5h0M335.3 122.8h0M302.8 49.4h0M327.0 102.0h0M315.3 73.4h0M297.4 203.1h0M340.6 214.1h0M275.6 222.3h0M273.7 172.3h0M334.2 173.7h0M375.5 73.1h0M326.9 144.4h0M298.2 85.6h0M283.9 228.2h0M266.6 86.0h0M303.9 212.8h0M354.7 95.6h0M435.9 63.7h0M310.5 94.4h0M315.8 91.4h0M383.6 111.6h0M310.4 216.6h0M319.3 207.5h0M404.0 69.7h0M294.9 52.5h0M439.6 48.5h0M336.5 53.9h0M269.9 181.7h0M318.5 155.0h0M263.8 217.9h0M406.5 140.8h0M366.5 124.1h0M424.9 52.2h0M275.5 126.7h0M329.9 184.8h0M434.1 126.6h0M292.8 132.0h0M345.7 224.3h0M393.1 157.8h0M342.6 135.4h0M340.4 58.5h0M385.4 157.7h0M409.0 64.3h0M311.5 51.1h0M368.6 190.9h0M374.0 109.0h0M402.9 113.8h0M319.7 60.3h0M414.3 86.6h0M304.4 174.4h0M392.7 94.8h0M288.9 93.6h0M280.9 149.6h0M346.7 62.0h0M287.1 174.9h0M336.3 143.1h0M358.1 137.7h0M405.4 193.6h0M271.3 94.6h0M360.0 203.4h0M344.4 122.9h0M398.8 119.2h0M433.8 144.9h0M429.3 79.5h0M300.8 117.1h0M328.4 84.8h0"/>
<path class="r" d="M286.6 133.3h0M291.9 136.4h0M363.3 60.4h0M339.3 82.0h0M312.6 102.1h0M308.2 82.3h0M281.5 181.0h0M307.7 144.9h0M284.6 80.2h0M347.5 87.4h0M268.8 153.3h0M302.6 100.5h0M271.8 110.3h0M319.1 162.6h0M288.3 199.3h0M307.5 193.2h0M288.9 145.6h0M308.4 123.3h0M288.0 183.8h0M278.9 92.5h0M370.2 78.5h0M360.7 68.8h0M271.9 122.6h0M286.2 92.5h0M334.4 107.2h0M277.5 189.3h0M317.5 120.0h0M310.1 63.6h0M268.2 115.4h0M287.5 113.9h0M296.1 98.0h0M358.2 128.1h0M389.4 50.0h0M368.4 97.3h0M292.1 124.0h0M268.8 69.5h0M276.4 86.7h0M297.2 152.9h0M322.8 83.1h0M281.6 170.8h0M281.0 141.4h0M280.9 159.0h0M353.0 161.6h0M281.2 51.2h0M413.7 74.6h0M322.7 74.6h0M404.2 52.5h0M330.8 153.7h0M304.6 229.2h0M268.6 84.3h0M370.3 174.4h0M275.2 174.7h0M396.4 147.2h0M275.4 49.7h0M344.7 56.2h0M269.4 62.3h0M347.6 153.5h0M352.9 56.0h0M376.8 91.6h0M268.2 145.6h0M367.0 113.0h0M309.9 130.3h0M282.1 215.3h0M356.8 116.0h0M273.6 184.7h0M356.9 82.4h0M316.1 229.8h0M381.6 83.5h0M349.4 97.4h0M301.2 216.1h0M321.6 176.7h0M310.2 187.0h0M351.0 169.1h0M411.5 67.1h0M341.1 208.6h0M296.1 129.6h0M273.3 209.3h0M265.8 173.5h0M340.0 215.2h0M322.0 187.9h0M329.7 175.3h0M324.0 133.9h0M364.9 92.2h0M291.3 62.8h0M284.7 105.5h0M320.7 207.2h0M352.9 110.6h0M275.4 76.8h0M334.2 146.2h0M298.5 195.8h0M276.0 103.5h0M316.6 70.7h0M365.8 132.2h0M382.2 128.2h0M387.4 131.4h0M340.3 160.6h0M334.7 187.5h0M289.5 164.3h0M330.6 54.5h0M279.4 206.2h0M328.1 182.1h0M313.6 147.9h0M280.2 195.2h0M370.8 87.4h0M305.5 68.1h0M303.5 151.3h0M267.8 135.4h0M443.7 46.8h0M333.8 117.5h0M357.9 183.6h0M353.3 146.0h0M296.0 224.7h0M298.0 171.1h0M310.1 222.5h0M302.5 203.9h0M345.4 138.5h0M301.6 180.7h0M368.4 125.8h0M287.1 205.3h0M269.9 178.7h0M309.5 54.3h0M279.2 124.6h0M311.8 93.4h0M268.0 105.6h0"/>
<path class="r" d="M364.6 64.3h0M277.8 180.3h0M312.7 100.6h0M269.4 109.0h0M289.2 196.2h0M303.1 102.6h0M284.0 80.7h0M289.1 76.9h0M304.5 148.8h0M312.2 66.3h0M277.9 83.0h0M284.4 134.0h0M344.2 87.5h0M317.1 120.8h0M393.2 48.8h0M290.3 121.7h0M282.3 53.9h0M331.5 152.9h0M372.0 174.1h0M370.0 82.9h0M367.3 100.1h0M305.2 127.5h0M276.2 111.8h0M278.4 162.3h0M324.5 163.5h0M270.1 151.1h0M272.8 186.8h0M289.3 93.8h0M288.6 185.5h0M330.0 109.7h0M347.0 152.4h0M310.3 196.3h0M287.5 147.1h0M319.7 232.8h0M362.1 130.4h0M271.4 178.6h0M275.5 172.2h0M297.2 122.1h0M286.2 212.1h0M328.1 80.8h0M349.5 57.0h0M352.0 80.3h0M277.6 46.9h0M318.4 172.8h0M290.1 138.8h0M275.9 144.0h0M313.4 189.6h0M380.9 85.9h0M296.3 216.2h0M335.2 102.7h0M284.7 103.5h0M271.6 65.7h0M309.9 182.5h0M303.0 232.9h0M358.3 58.6h0M302.3 221.1h0M354.6 98.0h0M357.8 67.4h0M274.6 212.4h0M287.4 65.7h0M286.1 168.1h0M308.0 78.8h0M367.6 91.8h0M269.5 119.9h0M295.6 96.6h0M295.8 132.1h0M329.6 121.1h0M331.3 54.8h0M294.2 169.8h0M341.8 158.5h0M325.8 180.2h0M307.8 120.8h0M326.5 187.4h0"/>
<path class="r" d="M281.2 182.2h0M288.5 195.8h0M301.5 104.1h0M310.9 101.4h0M284.0 83.4h0M391.2 51.5h0M365.9 62.5h0M366.4 102.4h0M306.3 146.8h0M283.3 76.9h0M289.0 125.4h0M293.3 98.0h0M363.9 95.8h0M288.8 182.1h0M346.4 87.6h0M351.7 51.8h0M327.1 76.7h0M290.4 188.2h0M370.8 96.4h0M290.3 148.3h0M286.7 213.1h0M276.3 176.5h0M334.7 156.1h0M297.7 122.4h0M330.4 148.8h0M332.9 109.1h0M272.3 189.8h0M282.7 107.7h0M273.9 145.9h0M315.7 122.3h0M299.1 213.8h0M306.6 222.3h0M275.4 51.7h0M322.2 118.6h0"/>
<path class="r" d="M288.7 197.1h0M310.0 103.9h0M304.0 145.9h0M286.4 130.4h0M288.0 119.9h0M279.6 183.2h0M392.5 52.5h0M291.4 95.3h0M362.6 61.2h0M268.6 185.5h0M282.8 212.5h0M271.1 176.9h0M290.4 183.4h0M345.2 85.0h0M330.1 110.7h0"/>
<path class="r" d="M310.3 102.4h0M278.7 185.4h0M391.5 51.1h0M292.9 195.6h0M289.7 96.7h0M287.0 194.7h0M273.4 178.9h0M291.0 120.5h0"/>
<path class="r" d="M305.7 103.7h0M292.1 195.0h0M312.3 102.2h0"/>
</g>
<clipPath id="cc1"><rect x="44.45" y="322.00" width="193.65" height="191.40"/></clipPath>
<g clip-path="url(#cc1)" stroke-linecap="round" stroke-width="6.0" fill="none">
<path class="g" d="M208.6 418.8h0M78.3 389.0h0M149.1 369.1h0M106.9 502.4h0M139.5 373.3h0M185.3 335.3h0M201.8 424.7h0M216.6 489.9h0M168.7 451.7h0M123.0 442.3h0M160.7 338.5h0M226.2 347.4h0M177.2 477.6h0M232.9 338.4h0M185.3 468.6h0M201.8 431.2h0M105.5 363.9h0M186.2 446.1h0M236.0 413.3h0M108.5 493.8h0M214.5 449.3h0M220.0 437.3h0M148.5 387.3h0M155.9 391.8h0M146.0 427.3h0M94.8 451.7h0M168.9 420.7h0M116.7 375.5h0M53.9 496.9h0M232.7 461.1h0M162.3 448.1h0M109.1 438.9h0M108.6 466.4h0M95.0 473.0h0M182.3 489.1h0M113.1 351.7h0M212.2 476.4h0M173.2 342.1h0M92.4 485.5h0M85.9 356.7h0M84.6 455.9h0M171.6 356.8h0M74.3 453.4h0M101.2 443.2h0M129.4 431.3h0M79.3 507.4h0M216.8 322.9h0M191.3 351.1h0M148.3 454.0h0M92.9 495.5h0M221.3 378.0h0M220.0 339.3h0M106.6 383.8h0M128.3 331.9h0M114.5 460.8h0M140.3 361.3h0M87.2 407.8h0M101.2 457.8h0M130.0 419.4h0M73.4 495.4h0M109.7 449.2h0M172.6 398.1h0M155.2 373.8h0M164.5 361.3h0M201.9 391.3h0M120.4 415.1h0M129.6 377.9h0M96.2 407.6h0M216.8 332.4h0M220.2 359.7h0M137.9 485.1h0M176.5 370.5h0M67.1 489.6h0M208.5 329.4h0M201.4 501.4h0M111.3 402.3h0M119.5 433.8h0M129.1 492.6h0M234.5 430.7h0M80.2 378.5h0M177.7 411.1h0M67.9 367.8h0M181.0 329.2h0M183.7 430.6h0M160.7 458.1h0M196.8 481.3h0M140.8 395.8h0M208.2 354.0h0M125.7 370.5h0M138.5 465.1h0M186.0 381.4h0M211.9 462.8h0M212.8 339.3h0M208.1 453.4h0M113.3 426.3h0M89.6 398.4h0M228.5 438.0h0M193.5 452.7h0M193.0 327.7h0M151.5 487.0h0M157.3 474.1h0M169.5 474.6h0M174.2 485.1h0M76.5 446.0h0M163.2 404.0h0M136.6 449.6h0M62.7 373.8h0M100.2 436.2h0M195.7 441.7h0M126.3 406.6h0M197.7 371.7h0M85.6 430.0h0M204.6 367.7h0M149.9 401.5h0M202.3 340.9h0M170.1 324.8h0M106.6 346.8h0M196.0 383.9h0M149.2 421.8h0M150.3 501.3h0M152.0 333.6h0M215.1 377.8h0M212.7 395.4h0M185.7 369.3h0M202.9 333.3h0M132.7 366.1h0M87.7 478.0h0M182.5 407.3h0M193.5 432.9h0M120.2 408.8h0M139.8 477.3h0M187.9 456.6h0M138.1 333.1h0M107.6 394.3h0M66.4 453.1h0M128.5 465.2h0M141.0 457.6h0M186.6 394.5h0M184.7 503.9h0M94.7 349.8h0M216.6 344.5h0M220.1 370.6h0M120.0 494.7h0M231.2 488.5h0M156.5 429.4h0M233.3 470.8h0M194.3 344.6h0M188.0 493.7h0M141.7 494.8h0M164.8 468.0h0M238.8 445.3h0M226.5 371.8h0M237.1 393.3h0M224.5 453.4h0M84.7 490.2h0M105.6 410.7h0M131.8 443.5h0M78.8 365.0h0M235.2 324.3h0M120.5 477.9h0M137.7 409.5h0M137.7 341.7h0M235.7 360.7h0M99.1 500.0h0M168.9 381.4h0M203.3 461.8h0M193.7 360.0h0M207.5 404.6h0M176.1 333.9h0M164.2 430.4h0M82.1 473.9h0M238.2 405.5h0M166.0 502.5h0M154.1 416.7h0M176.7 438.5h0M101.1 329.9h0M74.7 461.2h0M64.8 409.4h0M208.9 389.7h0M50.7 455.2h0M221.7 474.8h0M177.8 386.8h0M122.3 488.1h0M237.3 455.5h0M223.5 493.8h0M228.1 321.1h0M53.7 443.4h0M198.2 401.4h0M207.9 470.6h0M232.7 350.5h0M71.4 505.6h0M200.5 322.1h0M120.6 448.5h0M163.9 324.1h0M130.5 349.1h0M236.1 439.4h0M153.9 342.3h0M120.5 385.9h0M160.7 480.8h0M55.3 407.1h0M104.2 472.6h0M116.4 506.8h0M129.9 340.3h0M217.6 470.3h0M227.3 409.9h0M236.2 384.0h0M117.1 363.9h0M212.6 369.7h0M85.1 501.2h0M122.7 348.4h0M91.6 425.2h0M177.1 393.8h0M163.2 390.3h0M60.3 360.5h0M160.5 488.0h0M213.6 424.4h0M160.4 353.5h0M107.2 340.7h0M152.5 322.6h0M187.4 475.8h0M214.7 411.4h0M146.7 470.8h0M192.3 465.9h0M146.3 438.3h0M191.2 413.6h0M130.9 357.2h0M79.8 324.1h0M153.0 382.7h0M80.3 482.5h0M136.3 321.6h0M123.5 357.0h0M176.5 446.9h0M239.6 476.7h0M239.5 485.3h0M128.4 506.1h0M50.6 375.2h0M107.6 483.3h0M225.6 429.1h0M217.6 402.2h0M131.6 500.7h0M131.9 470.7h0M86.6 340.9h0M185.1 324.3h0M162.6 330.4h0M77.3 467.8h0M230.0 448.7h0M218.3 462.4h0M227.8 465.2h0M159.0 503.6h0M152.4 350.7h0M153.9 493.1h0M116.4 395.4h0M229.6 386.2h0M143.8 410.0h0M136.1 402.0h0M144.0 346.9h0M95.0 374.8h0M183.0 497.4h0M201.4 490.4h0M208.0 322.2h0M124.2 469.5h0M206.6 441.3h0M86.6 371.0h0M173.7 468.1h0M134.9 386.4h0M211.7 502.3h0M167.3 484.7h0M149.1 477.9h0M205.3 506.0h0M218.2 391.0h0M63.2 460.7h0M71.6 406.1h0M234.3 507.9h0M235.4 422.7h0M66.3 442.4h0M70.6 361.3h0M234.0 400.0h0M182.4 453.4h0M103.1 374.9h0M169.6 347.9h0M200.7 355.7h0M50.2 475.9h0M125.3 425.9h0M208.8 374.7h0M226.3 361.0h0M69.6 474.9h0M83.2 438.2h0M161.2 416.1h0M56.5 460.9h0M220.2 482.6h0M114.4 418.9h0M83.2 465.8h0M148.5 413.9h0M51.7 360.1h0M58.7 423.0h0M180.2 399.6h0M114.1 480.3h0M52.9 425.8h0M64.4 505.0h0M101.6 391.2h0M133.8 328.0h0M90.1 462.9h0M231.8 366.2h0M98.1 365.2h0M115.3 487.3h0M161.7 441.9h0M197.3 470.5h0M226.6 327.4h0M173.6 376.7h0M239.0 368.6h0M187.4 422.6h0M201.9 451.3h0M71.7 395.9h0M87.8 508.2h0M85.0 329.3h0M120.7 320.8h0M152.9 361.3h0M78.5 409.7h0M63.1 474.1h0M180.6 378.0h0M58.7 500.6h0M193.2 396.3h0M222.6 419.6h0M71.4 378.4h0M234.0 479.8h0M99.2 381.6h0M77.3 337.3h0M156.1 401.7h0M139.0 429.3h0M227.4 354.0h0M166.1 341.3h0M66.6 427.5h0M145.4 483.0h0M235.5 345.0h0M237.3 331.0h0M98.5 506.2h0M192.5 374.9h0M140.2 439.0h0M71.1 434.6h0M99.7 489.4h0M101.2 419.3h0M174.9 507.2h0M129.2 412.2h0M231.3 454.7h0M228.6 421.1h0M166.1 373.0h0M74.3 428.1h0M165.3 398.3h0M111.3 369.9h0M222.7 506.1h0M114.5 322.3h0M105.5 433.1h0M129.1 393.3h0M227.6 473.7h0M187.9 437.0h0M137.9 422.9h0M180.7 425.0h0M145.6 334.0h0M108.8 455.6h0M127.1 451.0h0M146.9 361.5h0M145.0 375.7h0M210.3 361.5h0M202.8 484.0h0M175.2 321.1h0M197.3 417.2h0M170.6 414.9h0M235.3 374.5h0M237.3 496.7h0M155.8 367.1h0M156.2 410.6h0M65.0 400.6h0M77.2 490.4h0M95.7 431.6h0M239.2 503.2h0M119.9 336.2h0M56.4 488.4h0M228.7 496.8h0M72.4 483.6h0M144.1 340.5h0M135.1 455.6h0M226.0 401.6h0M183.9 358.6h0M115.2 357.5h0M120.4 458.9h0M207.2 497.0h0M212.3 430.7h0M214.6 418.1h0M62.5 334.4h0M66.5 481.5h0M157.8 326.0h0M228.0 481.9h0M232.1 405.9h0M107.1 424.7h0M71.2 387.1h0M96.0 320.8h0M191.4 500.0h0M208.7 482.0h0M59.8 468.0h0M66.5 348.1h0M82.3 399.8h0M176.8 456.4h0M203.3 413.0h0M170.0 462.4h0M85.9 420.8h0M128.3 324.6h0M91.8 326.4h0M91.7 334.9h0M180.7 463.8h0M97.5 414.0h0M146.1 463.4h0M143.5 321.8h0M159.8 422.0h0M173.0 498.2h0M63.1 433.9h0M123.8 396.7h0M190.3 388.5h0M217.1 497.8h0M140.7 504.1h0M202.3 377.4h0M168.4 442.0h0M105.6 334.0h0M111.5 380.1h0M183.1 347.1h0M229.1 504.9h0M77.0 421.9h0M121.2 421.2h0M238.2 465.2h0M93.2 342.7h0M91.6 389.6h0M112.7 334.2h0M100.5 465.5h0M169.4 404.8h0M171.3 391.2h0M223.9 383.7h0M76.2 351.1h0M153.8 436.7h0M129.3 384.1h0M228.9 392.2h0M69.8 340.5h0M189.3 486.8h0M217.9 353.6h0M49.8 382.7h0M193.7 458.9h0M66.6 468.0h0M213.4 385.6h0M89.5 438.7h0M76.0 477.6h0M207.4 381.7h0M176.7 350.0h0M84.0 448.4h0M194.5 423.8h0M67.1 420.8h0"/>
<path class="g" d="M106.7 437.4h0M230.2 334.1h0M82.2 359.6h0M212.0 492.1h0M175.5 341.6h0M83.7 503.8h0M166.7 366.7h0M147.9 425.0h0M160.9 449.1h0M141.1 372.9h0M98.8 473.1h0M214.0 449.4h0M173.9 356.9h0M116.6 373.4h0M152.9 369.4h0M122.5 404.5h0M172.4 424.8h0M231.9 340.7h0M173.0 451.0h0M220.5 373.1h0M198.5 481.3h0M97.2 458.3h0M179.3 326.2h0M234.7 418.7h0M178.9 333.9h0M190.2 370.4h0M154.8 334.8h0M70.6 493.0h0M164.5 360.2h0M207.3 392.7h0M189.4 428.8h0M221.2 329.9h0M196.6 431.8h0M106.2 462.7h0M153.4 490.6h0M220.1 338.1h0M116.5 422.8h0M109.5 410.2h0M211.4 352.8h0M85.7 353.8h0M96.4 441.7h0M226.9 348.9h0M235.5 431.4h0M235.2 457.6h0M135.7 418.5h0M215.9 323.0h0M214.5 374.7h0M208.8 336.8h0M179.3 485.6h0M121.5 419.0h0M133.6 366.7h0M112.7 429.6h0M212.6 407.0h0M88.1 452.2h0M223.2 433.7h0M142.8 399.5h0M220.4 379.5h0M205.0 323.1h0M185.9 444.6h0M211.3 418.5h0M178.6 370.2h0M182.2 402.6h0M87.0 431.6h0M68.8 407.3h0M228.5 486.2h0M140.2 426.7h0M232.5 473.3h0M236.9 359.7h0M221.2 489.7h0M234.8 446.9h0M153.1 398.3h0M120.4 500.1h0M191.3 335.3h0M234.2 489.2h0M135.6 358.0h0M109.7 400.7h0M157.8 458.4h0M163.9 383.9h0M140.8 461.7h0M221.7 499.2h0M191.2 408.6h0M177.7 412.0h0M156.2 434.8h0M164.0 502.8h0M189.9 459.8h0M191.0 328.6h0M95.2 398.5h0M192.4 440.0h0M87.0 394.5h0M187.9 488.7h0M140.5 437.2h0M172.4 373.9h0M129.9 449.0h0M146.1 452.3h0M227.1 366.8h0M79.1 326.4h0M130.8 497.7h0M125.4 443.4h0M115.0 476.4h0M142.1 362.0h0M122.3 411.4h0M185.6 473.3h0M121.7 488.2h0M239.5 381.1h0M146.7 332.2h0M86.1 407.5h0M210.6 424.7h0M201.6 346.8h0M94.2 477.3h0M132.9 435.0h0M195.2 362.4h0M162.6 432.3h0M175.1 395.2h0M207.6 472.2h0M83.5 470.7h0M105.4 390.8h0M114.9 496.1h0M239.1 481.6h0M97.0 346.3h0M159.7 480.3h0M167.0 325.2h0M125.0 343.4h0M226.1 377.6h0M146.2 367.7h0M172.9 417.0h0M158.0 419.2h0M217.7 398.1h0M217.5 477.2h0M156.2 426.5h0M217.9 365.8h0M149.1 438.1h0M229.3 384.9h0M168.1 398.5h0M98.6 333.3h0M142.3 497.1h0M204.4 441.5h0M125.8 493.7h0M161.8 442.9h0M206.5 399.4h0M144.7 479.4h0M219.3 465.8h0M94.2 429.6h0M233.9 463.7h0M185.5 436.1h0M153.5 390.3h0M232.4 392.9h0M137.8 384.3h0M183.3 390.4h0M236.8 408.1h0M107.3 374.6h0M137.9 490.0h0M189.7 398.5h0M199.3 494.4h0M116.6 385.5h0M200.3 390.3h0M88.5 374.3h0M63.7 486.4h0M109.7 340.8h0M88.0 476.1h0M112.8 451.4h0M133.5 320.8h0M208.0 456.8h0M103.3 454.6h0M164.0 348.4h0M195.1 463.1h0M164.3 424.6h0M131.3 337.6h0M173.5 479.3h0M88.3 438.2h0M164.2 457.2h0M170.3 498.4h0M222.2 360.5h0M107.5 469.2h0M216.0 427.7h0M198.0 452.4h0M192.1 483.1h0M205.4 374.7h0M109.0 505.7h0M98.2 493.8h0M169.1 432.4h0M117.2 401.6h0M66.0 366.0h0M173.2 442.4h0M125.8 368.4h0M115.9 347.7h0M146.9 383.1h0M153.3 415.1h0M105.7 494.6h0M203.2 500.7h0M226.8 445.1h0M183.4 498.6h0M74.1 457.7h0M121.0 363.0h0M107.4 480.1h0M135.3 406.3h0M168.7 483.4h0M101.2 386.2h0M137.5 340.0h0M86.2 365.9h0M198.6 339.5h0M219.9 386.3h0M184.7 383.3h0M191.3 383.4h0M81.5 437.4h0M130.6 376.8h0M162.9 493.4h0M191.9 471.9h0M226.8 407.4h0M133.1 475.0h0M230.0 372.8h0M227.3 415.1h0M203.7 354.5h0M54.4 503.7h0M203.2 506.9h0M110.5 380.3h0M100.1 412.2h0M152.8 498.3h0M237.4 373.7h0M197.8 381.4h0M98.0 360.5h0M127.7 503.6h0M221.7 460.2h0M218.3 410.6h0M56.6 457.6h0M69.3 360.5h0M229.9 439.5h0M156.2 354.4h0M117.4 462.8h0M121.0 480.9h0M124.8 426.2h0M111.0 419.8h0M96.6 486.0h0M184.5 456.9h0M159.9 389.9h0M176.6 436.4h0M122.6 356.3h0M173.5 467.5h0M153.3 361.8h0M220.6 442.3h0M72.8 434.9h0M76.9 485.3h0M166.2 465.0h0M196.6 373.8h0M153.6 328.8h0M64.1 459.1h0M75.8 335.4h0M98.1 504.2h0M109.1 487.4h0M68.5 501.1h0M208.0 386.2h0M164.3 332.2h0M139.5 444.8h0M74.1 466.0h0M146.0 465.4h0M206.0 342.5h0M217.6 416.7h0M92.5 366.9h0M108.1 362.8h0M64.8 425.1h0M52.3 447.9h0M212.1 502.2h0M214.6 358.4h0M236.1 399.9h0M213.9 392.4h0M126.6 462.6h0M88.9 492.3h0M115.0 435.2h0M188.0 347.0h0M87.3 465.3h0M205.8 329.2h0M182.8 321.0h0M155.1 405.7h0M203.1 429.6h0M202.6 418.6h0M52.2 363.3h0M186.3 338.7h0M130.1 429.6h0M186.7 465.3h0M151.1 378.6h0M214.8 460.2h0M200.2 458.9h0M131.7 443.1h0M204.7 489.1h0M87.8 498.9h0M229.8 323.4h0M210.6 439.3h0M180.7 449.0h0M203.2 468.0h0M139.2 471.8h0M177.7 429.0h0M143.4 345.7h0M126.3 382.5h0M177.5 496.9h0M125.2 388.7h0M138.6 330.2h0M158.0 341.4h0M90.7 419.7h0M51.3 490.0h0M79.8 365.1h0M230.5 452.7h0M128.7 358.7h0M196.6 396.9h0M144.7 339.8h0M210.8 465.6h0M214.8 331.3h0M83.7 389.4h0M191.7 503.0h0M217.7 436.7h0M103.0 419.9h0M97.3 327.2h0M237.1 496.0h0M160.0 464.8h0M121.3 454.8h0M171.7 505.3h0M77.3 423.2h0M101.2 448.1h0M111.5 444.3h0M82.5 492.3h0M190.0 496.5h0M180.9 361.1h0M53.2 474.5h0M85.1 415.1h0M149.9 408.5h0M222.9 421.4h0M100.5 320.8h0M133.2 483.4h0M186.1 365.8h0M169.0 351.9h0M115.2 484.7h0M129.5 414.3h0M96.9 418.0h0M178.2 459.0h0M130.3 394.4h0M238.3 367.5h0M238.5 392.5h0M133.8 469.0h0M196.8 324.1h0M221.6 344.0h0M163.8 405.4h0M78.3 375.2h0M153.5 504.5h0M72.9 428.8h0M88.4 332.7h0M226.2 495.0h0M198.2 331.2h0M107.7 425.1h0M204.4 366.5h0M56.9 355.8h0M207.0 495.9h0M80.3 457.9h0M116.7 395.0h0M116.0 331.6h0M104.2 337.7h0M63.9 444.1h0M220.4 505.5h0M61.4 396.9h0M134.9 390.6h0M73.0 397.7h0M129.4 328.9h0M211.3 485.0h0M84.7 483.9h0M149.6 472.5h0M126.6 469.0h0M149.7 352.0h0M115.9 324.9h0M230.2 504.6h0M79.3 407.1h0M54.4 463.5h0M64.9 411.9h0M193.7 415.5h0M79.4 349.0h0M238.6 322.1h0"/>
<path class="g" d="M171.8 339.7h0M208.4 396.6h0M151.4 429.6h0M81.7 505.0h0M219.8 327.9h0M141.8 376.2h0M163.7 447.6h0M213.5 351.4h0M144.8 370.7h0M172.3 455.2h0M106.8 413.3h0M151.2 369.8h0M192.4 434.2h0M238.8 417.5h0M140.6 401.7h0M230.7 349.0h0M98.4 441.1h0M212.2 338.1h0M152.7 403.1h0M100.1 454.1h0M176.0 488.2h0M127.0 445.5h0M121.0 440.3h0M143.9 423.4h0M135.5 368.5h0M67.0 492.1h0M183.6 368.6h0M182.4 448.5h0M175.0 355.6h0M118.7 407.5h0M177.0 343.2h0M221.5 383.8h0M147.9 454.6h0M236.4 487.4h0M110.9 431.7h0M205.4 469.3h0M183.3 402.9h0M216.0 377.3h0M231.7 458.0h0M201.7 341.2h0M205.1 329.0h0M190.2 448.1h0M177.2 327.0h0M86.8 411.0h0M120.4 375.7h0M233.4 393.7h0M85.4 500.2h0M148.4 393.2h0M108.5 388.0h0M211.0 451.5h0M96.6 447.6h0M96.0 475.6h0M215.6 425.1h0M86.1 354.1h0M156.8 461.0h0M235.7 478.9h0M237.4 359.5h0M157.3 450.9h0M235.2 412.3h0M148.9 439.7h0M220.3 493.0h0M209.9 421.4h0M120.9 489.9h0M145.1 473.8h0M206.2 442.6h0M227.9 483.6h0M235.5 403.9h0M181.8 471.6h0M102.4 472.5h0M190.0 394.4h0M228.7 463.7h0M197.0 333.6h0M161.7 456.6h0M169.7 385.0h0M162.2 349.9h0M187.3 412.9h0M88.7 393.6h0M188.9 334.1h0M121.0 366.4h0M110.2 469.1h0M223.8 338.9h0M111.4 375.4h0M201.3 376.3h0M153.1 487.9h0M87.6 478.5h0M149.7 494.7h0M139.9 481.0h0M118.4 352.5h0M163.0 416.8h0M233.8 467.3h0M132.0 489.8h0M238.3 379.1h0M168.4 489.0h0M161.2 435.4h0M157.5 369.3h0M151.0 423.5h0M212.6 323.4h0M226.7 437.8h0M188.8 372.2h0M220.1 366.0h0M196.7 441.3h0M186.8 460.4h0M224.3 370.8h0M92.5 461.3h0M107.8 481.1h0M181.7 438.1h0M200.2 384.3h0M224.6 419.7h0M130.9 434.1h0M143.4 494.7h0M165.6 430.9h0M147.7 361.6h0M161.4 385.3h0M184.9 485.7h0M170.7 323.7h0M192.1 475.9h0M217.5 335.1h0M235.3 424.3h0M135.8 438.7h0M164.1 498.3h0M119.3 473.8h0M226.8 364.2h0M132.2 355.0h0M64.4 486.6h0M102.4 496.3h0M94.0 429.0h0M185.1 380.9h0M236.8 450.9h0M127.5 425.4h0M211.9 475.2h0M113.6 401.3h0M226.1 490.3h0M86.4 432.8h0M147.8 332.7h0M139.7 358.9h0M228.9 328.4h0M113.0 456.4h0M172.4 464.7h0M181.9 456.9h0M101.7 384.1h0M162.1 441.7h0M98.1 410.7h0M112.8 418.1h0M155.2 361.7h0M95.0 495.9h0M127.9 472.2h0M180.9 390.1h0M117.2 463.5h0M221.6 426.3h0M114.7 507.6h0M112.9 340.4h0M85.0 366.5h0M112.3 351.7h0M124.9 360.3h0M172.6 370.0h0M95.8 386.4h0M220.8 391.7h0M236.3 337.8h0M51.6 457.5h0M193.8 412.1h0M191.5 363.4h0M110.5 446.1h0M206.4 345.1h0M109.7 496.7h0M204.9 453.4h0M210.9 389.4h0M217.3 465.9h0M176.8 432.9h0M96.2 504.4h0M209.0 408.7h0M220.1 433.9h0M153.3 355.0h0M223.5 406.6h0M230.6 342.9h0M139.4 339.5h0M218.0 355.6h0M184.7 432.1h0M209.9 459.0h0M231.3 419.5h0M145.0 461.2h0M114.7 479.9h0M188.4 491.9h0M210.1 504.1h0M201.2 434.7h0M57.2 447.8h0M106.4 487.5h0M214.5 490.7h0M215.1 370.9h0M201.6 356.4h0M133.5 383.8h0M224.9 498.9h0M187.1 341.0h0M179.0 335.9h0M197.9 501.6h0M140.2 429.1h0M192.5 385.2h0M181.8 503.7h0M160.4 505.3h0M104.6 398.4h0M124.4 342.9h0M84.8 325.0h0M230.2 432.6h0M165.8 480.1h0M64.0 422.1h0M220.5 443.0h0M132.0 332.2h0M221.6 470.7h0M170.7 424.2h0M215.5 507.0h0M117.1 384.0h0M136.7 498.8h0M138.7 386.8h0M125.6 394.5h0M79.6 390.4h0M177.6 420.4h0M143.7 443.4h0M79.2 483.1h0M103.3 371.9h0M126.4 414.0h0M218.9 477.4h0M176.8 377.7h0M93.0 485.8h0M120.5 482.6h0M229.7 449.0h0M190.4 352.1h0M100.1 349.2h0M208.6 431.0h0M105.8 359.5h0M202.4 488.8h0M120.5 456.6h0M155.0 337.9h0M157.6 327.1h0M98.9 421.6h0M215.4 417.4h0M146.7 402.1h0M201.9 496.1h0M131.2 464.9h0M149.6 386.2h0M142.3 351.0h0M157.1 478.2h0M194.2 324.8h0M158.1 491.9h0M212.4 498.3h0M146.1 479.9h0M119.8 423.7h0M133.5 414.8h0M197.4 394.3h0M102.9 461.2h0M201.2 421.6h0M74.9 493.8h0M141.5 435.3h0M194.8 461.3h0M64.0 454.0h0M162.9 398.1h0M149.2 339.8h0M111.1 423.9h0M127.8 504.6h0M172.3 501.7h0M109.7 406.4h0M91.2 404.6h0M71.3 453.5h0M157.9 410.7h0M65.5 430.9h0M201.9 464.4h0M106.8 454.9h0M132.9 407.6h0M81.0 472.0h0M133.8 342.6h0M122.6 401.9h0M108.2 507.9h0M171.8 476.0h0M90.3 420.4h0M219.2 348.3h0M191.3 486.3h0M165.2 368.6h0M142.6 466.9h0M104.4 432.8h0M171.8 438.4h0M118.6 502.7h0M185.7 477.4h0"/>
<path class="g" d="M174.0 339.2h0M151.9 425.2h0M176.8 482.6h0M141.8 425.1h0M209.5 333.3h0M100.1 439.0h0M119.9 441.5h0M139.5 366.5h0M207.9 471.2h0M172.1 456.1h0M212.3 351.0h0M149.6 366.9h0M143.9 374.8h0M154.5 430.7h0M212.8 375.5h0M212.0 400.8h0M239.1 487.9h0M145.8 456.9h0M175.3 353.0h0M103.7 410.4h0M161.9 450.5h0M173.7 346.9h0M150.3 397.9h0M210.7 450.0h0M230.1 348.3h0M220.6 489.7h0M101.4 468.3h0M235.8 357.1h0M224.0 387.7h0M205.0 393.0h0M147.5 388.2h0M103.6 475.6h0M104.6 454.1h0M118.0 366.2h0M192.3 451.1h0M233.0 476.0h0M236.9 466.6h0M83.4 501.0h0M103.5 385.0h0M136.1 371.7h0M239.3 382.7h0M95.9 471.6h0M209.3 441.3h0M184.6 457.0h0M210.2 417.6h0M186.8 480.4h0M204.4 447.0h0M166.6 500.6h0M234.5 403.0h0M231.0 390.7h0M89.3 429.3h0M105.1 494.2h0M191.6 412.9h0M157.8 350.1h0M161.8 444.0h0M116.7 474.3h0M180.5 379.6h0M113.9 466.0h0M139.9 480.6h0M140.1 499.4h0M172.6 463.2h0M212.8 340.5h0M125.2 374.6h0M123.4 492.2h0M226.2 341.8h0M161.1 459.1h0M129.9 431.8h0M111.2 435.9h0M210.6 427.9h0M204.0 343.1h0M153.1 485.1h0M130.8 475.2h0M114.6 372.1h0M197.4 442.6h0M234.0 332.8h0M180.3 488.4h0M238.2 419.8h0M196.3 341.0h0M192.8 398.5h0M93.1 448.9h0M119.7 347.5h0M115.8 418.5h0M222.6 335.2h0M204.4 350.2h0M145.6 492.6h0M141.8 338.0h0M159.8 388.6h0M187.1 407.6h0M131.8 421.8h0M110.4 389.2h0M229.2 438.2h0M134.2 353.0h0M224.1 414.0h0M227.4 372.3h0M144.2 441.0h0M199.0 384.5h0M220.9 436.3h0M68.3 484.7h0M54.5 454.0h0M157.4 364.1h0M186.9 488.0h0M164.5 435.6h0M186.0 470.5h0M225.4 459.2h0M195.7 480.7h0M124.8 355.4h0M238.2 448.9h0M226.4 330.2h0M239.1 376.7h0M232.0 451.3h0M183.5 369.2h0M179.1 451.0h0M206.0 356.8h0M134.2 489.1h0M187.8 379.7h0M214.0 366.5h0M176.8 427.1h0M213.6 412.5h0M136.3 430.8h0M164.8 420.2h0M177.9 433.7h0M93.6 459.8h0M144.7 332.5h0M94.0 492.4h0M214.1 387.3h0M182.5 499.3h0M222.6 358.3h0M204.3 432.8h0M112.3 447.6h0M151.4 406.9h0M112.5 405.5h0M210.0 406.9h0M139.2 399.5h0M184.5 431.5h0M87.5 355.8h0M129.8 446.9h0M141.0 356.6h0M223.2 404.8h0M221.0 374.6h0M187.4 387.2h0M215.7 357.8h0M91.1 482.1h0M215.9 504.0h0M187.6 443.1h0M168.9 373.1h0M164.0 355.2h0M201.7 329.4h0M169.8 430.3h0M149.7 360.9h0M118.3 484.6h0M180.0 327.2h0M172.6 325.8h0M131.8 415.7h0M197.7 360.8h0M112.8 427.5h0M227.3 424.8h0M153.4 354.3h0M112.9 504.4h0M143.9 404.9h0M168.1 481.7h0M81.1 329.2h0M132.6 498.4h0M215.8 423.8h0M200.4 452.6h0M220.4 327.6h0M191.9 332.9h0M104.5 393.4h0M199.5 497.5h0M131.0 438.2h0M98.8 504.7h0M156.2 371.9h0M191.0 475.5h0M228.3 480.6h0M120.2 423.7h0M202.9 371.8h0M103.3 373.7h0M164.8 346.6h0M194.6 461.9h0M152.9 333.4h0M168.1 396.9h0M65.9 458.1h0M161.7 322.8h0M134.8 361.2h0M200.6 418.6h0M149.3 470.4h0M206.2 490.7h0M225.1 452.1h0M120.3 405.8h0M134.8 468.0h0M212.4 495.3h0M95.2 417.3h0M68.4 491.9h0M159.9 477.9h0M170.7 505.3h0M235.1 459.8h0M156.4 507.8h0M152.5 339.6h0M237.9 427.1h0M116.6 492.1h0M227.9 496.9h0M159.9 490.1h0M111.7 349.6h0M121.2 460.7h0M131.3 336.2h0M204.3 503.1h0M82.6 435.6h0M155.1 401.6h0M149.4 498.9h0M151.2 451.3h0M160.6 414.4h0M191.8 350.7h0M207.3 323.6h0"/>
<path class="g" d="M152.3 425.4h0M145.6 459.8h0M210.9 379.3h0M164.1 448.0h0M208.2 454.1h0M230.6 347.8h0M148.2 390.2h0M157.6 449.8h0M210.8 355.2h0M107.3 412.0h0M154.4 401.5h0M211.1 398.1h0M98.8 475.8h0M233.2 356.7h0M139.1 375.2h0M83.9 504.7h0M132.7 372.0h0M214.4 349.4h0M203.9 474.1h0M156.0 431.1h0M147.2 370.4h0M176.3 336.9h0M206.7 338.4h0M236.9 485.1h0M174.6 351.2h0M200.3 445.8h0M189.9 412.3h0M208.3 442.8h0M120.7 442.4h0M110.6 454.6h0M166.2 456.9h0M106.9 470.5h0M140.4 483.2h0M215.1 421.1h0M128.9 493.1h0M182.2 384.5h0M117.9 365.8h0M232.0 402.4h0M231.3 466.1h0M112.8 478.0h0M188.5 460.3h0M233.0 396.3h0M117.0 416.1h0M103.4 453.8h0M100.8 408.1h0M142.5 428.9h0M216.0 428.0h0M205.3 331.4h0M137.7 340.7h0M210.1 467.9h0M210.8 371.9h0M120.0 351.6h0M107.2 382.5h0M111.4 463.1h0M224.8 436.4h0M235.8 408.4h0M195.8 476.8h0M237.5 446.0h0M139.6 364.6h0M202.9 345.7h0M238.8 376.3h0M144.3 443.0h0M180.4 458.8h0M184.4 407.0h0M189.4 446.9h0M193.7 442.6h0M214.7 410.5h0M146.3 376.5h0M132.3 353.3h0M159.7 457.8h0M159.0 386.8h0M145.1 494.1h0M92.6 429.6h0M179.2 371.7h0M103.0 494.9h0M224.9 373.1h0M139.2 434.0h0M180.7 490.7h0M222.5 412.2h0M108.9 491.2h0M181.6 435.7h0M131.3 426.5h0M165.7 502.2h0M197.7 385.8h0M113.0 405.3h0M158.3 360.8h0M119.9 344.5h0M233.9 479.8h0M209.1 423.2h0M179.7 450.2h0M211.5 502.1h0M108.1 393.2h0M216.0 336.3h0M125.7 447.6h0M221.1 462.0h0M219.7 488.4h0M198.7 356.8h0M154.6 482.3h0M187.6 389.8h0M224.6 344.7h0M117.9 505.2h0M170.7 476.7h0M86.6 433.0h0M228.9 329.5h0M216.9 389.9h0M156.5 443.9h0M112.7 445.9h0M145.5 334.1h0M188.1 379.0h0M168.3 324.7h0M188.1 336.2h0M145.7 398.2h0M163.7 392.4h0M221.9 424.9h0M193.9 360.7h0M172.4 368.6h0M96.5 438.5h0M129.2 415.4h0M218.7 357.8h0M89.2 486.4h0M166.6 440.8h0M128.1 474.5h0M224.5 492.5h0M163.2 430.6h0M136.7 498.8h0M123.9 378.0h0M96.0 456.1h0M117.3 486.0h0M197.8 461.8h0M176.8 464.6h0M200.1 498.3h0M185.0 364.6h0M162.3 475.5h0M111.8 500.6h0M115.6 432.6h0M131.9 363.8h0M159.4 347.9h0M174.1 342.7h0M130.9 503.4h0M127.6 441.7h0M147.8 352.5h0M230.3 458.3h0M217.5 373.6h0M167.8 347.8h0"/>
<path class="g" d="M146.9 427.1h0M215.5 379.5h0M150.8 390.4h0M210.5 455.8h0M210.9 395.6h0M79.3 503.0h0M148.5 401.7h0M208.3 353.6h0M138.7 374.9h0M210.5 337.7h0M233.6 346.3h0M177.6 338.2h0M227.4 344.1h0M169.2 454.7h0M184.5 381.9h0M146.0 374.6h0M165.7 446.1h0M163.5 457.1h0M237.5 357.7h0M203.6 442.5h0M187.6 409.9h0M142.1 477.6h0M235.5 480.2h0M209.4 472.8h0M234.5 390.6h0M103.4 468.5h0M185.7 461.5h0M212.8 446.6h0M102.5 381.1h0M201.2 345.1h0M233.5 377.7h0M157.7 451.5h0M140.8 495.8h0M148.8 455.2h0M234.9 464.3h0M202.3 469.4h0M184.4 455.6h0M153.4 424.8h0M182.3 446.4h0M117.3 364.5h0M176.3 453.4h0M108.8 409.5h0M90.0 428.9h0M115.1 481.9h0M236.3 403.8h0M215.1 412.5h0M164.3 500.3h0M238.3 446.9h0M112.6 502.9h0M119.1 439.2h0M218.3 387.3h0M222.5 431.5h0M196.5 474.9h0M127.5 430.4h0M181.5 489.8h0M129.0 488.7h0M192.2 333.5h0M186.9 374.2h0M219.0 332.3h0M233.2 327.3h0M184.4 435.5h0M128.6 414.4h0M227.8 371.0h0M128.2 353.3h0M87.1 500.4h0M222.2 422.7h0M226.7 411.1h0M128.8 473.9h0M120.4 486.5h0M164.3 431.4h0M99.8 454.3h0M136.4 368.1h0M115.6 432.4h0M193.0 412.4h0M172.8 468.1h0M208.0 437.7h0M153.8 486.1h0M212.5 496.6h0M157.2 458.7h0M158.1 351.3h0M141.8 399.3h0"/>
<path class="g" d="M148.8 428.1h0M216.6 377.6h0M84.4 500.3h0M214.1 398.2h0M210.5 334.4h0M227.9 348.8h0M212.0 451.2h0M152.6 394.2h0M136.3 371.2h0M137.9 477.8h0M188.9 460.9h0M168.1 455.2h0M201.2 440.4h0M148.6 457.2h0M237.6 448.5h0M218.7 387.3h0M209.8 353.1h0M235.6 483.3h0M127.6 419.8h0M197.9 475.4h0M107.2 414.9h0M234.6 477.1h0M237.6 377.1h0M154.9 427.2h0M139.9 377.7h0M219.6 421.9h0M204.2 342.1h0M236.2 402.2h0M162.4 450.2h0M231.1 460.5h0M143.9 496.1h0M227.3 342.6h0M126.4 428.1h0"/>
<path class="g" d="M149.7 429.7h0M230.5 351.1h0M209.7 337.2h0M152.6 392.6h0M208.9 450.6h0M185.8 465.4h0M214.1 397.0h0M152.7 424.5h0M162.9 458.0h0M169.0 453.1h0M139.3 372.7h0M148.1 396.6h0M133.6 368.4h0M233.5 377.3h0M107.5 415.0h0M142.4 497.9h0"/>
<path class="g" d="M145.7 427.6h0M212.8 396.9h0M164.9 460.2h0M187.8 461.2h0"/>
<path class="g" d="M148.2 423.7h0"/>
<path class="r" d="M94.9 406.0h0M164.4 390.7h0M52.2 351.0h0M94.2 321.3h0M61.8 365.9h0M90.9 327.0h0M158.6 454.7h0M211.9 322.4h0M58.1 392.8h0M55.6 471.2h0M165.6 478.9h0M148.7 405.3h0M128.6 399.3h0M54.8 401.3h0M104.2 356.1h0M52.2 368.3h0M202.8 353.6h0M169.1 346.3h0M50.0 497.9h0M86.0 446.5h0M64.9 474.7h0M63.3 428.5h0M69.3 397.9h0M76.9 362.8h0M72.7 349.8h0M146.8 374.0h0M192.0 332.8h0M95.7 474.5h0M85.0 458.0h0M54.1 418.2h0M82.4 440.5h0M188.2 492.1h0M159.9 381.4h0M123.9 406.0h0M101.9 383.3h0M218.2 337.6h0M116.7 349.2h0M101.1 489.5h0M77.5 433.4h0M97.2 361.5h0M163.9 371.8h0M200.2 391.2h0M118.0 464.4h0M70.4 500.2h0M92.2 507.7h0M86.8 468.9h0M126.4 476.6h0M70.6 476.6h0M61.0 504.0h0M127.1 376.2h0M126.3 433.8h0M233.1 467.1h0M115.5 485.0h0M169.2 443.5h0M82.0 501.4h0M224.0 331.7h0M71.5 435.0h0M123.2 416.8h0M193.8 381.1h0M95.4 499.1h0M172.1 398.3h0M85.4 474.9h0M206.5 487.1h0M66.0 420.9h0M164.3 424.6h0M88.8 407.0h0M65.7 467.3h0M191.5 454.3h0M106.5 431.0h0M51.6 483.5h0M151.5 477.1h0M88.4 363.7h0M131.8 444.7h0M135.6 328.1h0M184.4 337.1h0M86.7 335.4h0M122.5 352.7h0M62.9 458.0h0M58.9 327.8h0M77.3 484.4h0M100.2 470.2h0M149.5 364.4h0M133.6 392.2h0M61.0 347.8h0M120.1 392.8h0M65.2 448.0h0M163.4 492.3h0M175.0 426.3h0M235.7 378.4h0M66.5 387.8h0M74.9 408.4h0M86.5 344.6h0M206.0 332.2h0M181.5 444.4h0M96.3 376.9h0M70.5 404.2h0M88.0 413.4h0M81.1 383.0h0M141.7 369.6h0M217.7 482.3h0M65.4 360.8h0M103.2 377.1h0M55.9 410.9h0M93.4 430.1h0M54.7 444.6h0M68.6 334.2h0M107.6 419.5h0M66.5 327.2h0M146.3 389.8h0M197.2 339.4h0M226.0 460.5h0M235.1 455.3h0M113.0 451.3h0M223.3 403.5h0M162.4 461.1h0M71.3 448.8h0M195.6 417.6h0M82.0 349.1h0M200.7 459.3h0M89.7 373.9h0M90.9 398.0h0M131.5 467.6h0M106.3 348.9h0M156.3 400.0h0M50.0 425.7h0M58.1 359.9h0M107.7 485.1h0M180.2 349.6h0M93.1 342.4h0M194.8 365.5h0M205.9 441.7h0M82.4 390.5h0M130.5 503.7h0M97.1 421.7h0M70.4 342.3h0M190.9 343.1h0M50.6 327.9h0M65.3 354.7h0M120.5 445.7h0M207.6 400.8h0M223.0 439.3h0M107.5 339.8h0M134.0 484.0h0M66.4 409.2h0M98.2 338.3h0M91.8 493.5h0M166.2 379.7h0M137.8 377.4h0M98.3 353.2h0M110.2 363.6h0M146.3 419.5h0M58.2 491.2h0M223.5 427.6h0M67.7 441.0h0M161.9 331.2h0M50.2 338.6h0M107.0 456.1h0M228.4 408.8h0M192.6 500.2h0M230.8 400.4h0M145.0 324.4h0M139.0 412.9h0M87.3 422.9h0M230.0 492.6h0M126.4 342.3h0M102.4 450.9h0M116.4 383.1h0M76.5 393.7h0M142.6 459.8h0M78.4 399.4h0M197.1 483.3h0M184.4 436.5h0M96.8 464.2h0M110.7 326.8h0M89.8 353.4h0M114.7 423.8h0M181.9 407.9h0M151.3 444.4h0M118.3 506.9h0M214.8 345.1h0M70.2 372.0h0M74.8 336.6h0M193.3 441.4h0M209.9 426.7h0M81.5 408.3h0M90.3 453.7h0M152.4 340.9h0M74.9 426.5h0M108.1 411.4h0M148.3 497.2h0M208.5 480.4h0M49.9 455.5h0M181.9 416.6h0M150.3 490.0h0M147.2 330.8h0M136.1 359.3h0M173.2 491.0h0M213.1 357.3h0M117.3 409.5h0M180.1 465.8h0M54.3 504.9h0M93.1 390.9h0M105.3 388.7h0M212.8 451.9h0M81.6 490.3h0M51.7 377.5h0M167.2 503.4h0M222.0 389.9h0M201.0 491.5h0M62.7 434.9h0M203.5 428.0h0M119.6 401.6h0M157.3 506.0h0M74.3 328.2h0M195.6 468.1h0M166.5 465.6h0M231.5 332.0h0M175.6 506.0h0M224.9 482.4h0M104.9 465.4h0M95.6 415.7h0M110.3 505.7h0M190.3 476.9h0M151.7 356.7h0M144.5 452.5h0M160.1 499.8h0M226.6 448.2h0M115.8 434.2h0M120.8 326.9h0M153.4 460.1h0M121.0 358.8h0M173.9 352.0h0M84.5 434.0h0M142.9 357.7h0M103.6 506.4h0M138.1 500.2h0M139.7 422.2h0M76.9 416.7h0M61.5 380.4h0M63.0 397.4h0M118.9 500.2h0M165.9 401.0h0M188.9 465.1h0M85.7 320.9h0M69.9 457.9h0M138.8 473.8h0M116.0 376.2h0M202.6 404.7h0M161.8 437.7h0M74.7 440.2h0M129.2 349.6h0M122.0 429.3h0M49.8 388.7h0M100.4 346.5h0M230.0 501.9h0M51.5 432.1h0M148.3 428.5h0M168.8 484.2h0M56.3 338.5h0M93.1 438.7h0M144.3 398.0h0M166.2 455.2h0M168.2 361.1h0M99.9 409.9h0M190.5 485.0h0M170.8 332.9h0M65.4 495.4h0M83.8 328.7h0M184.2 387.5h0M116.8 367.0h0M91.7 483.2h0M103.4 330.0h0M210.1 394.4h0M110.9 372.6h0"/>
<path class="r" d="M166.7 389.5h0M57.7 413.5h0M50.4 502.5h0M93.4 326.6h0M57.4 368.3h0M118.0 348.1h0M56.4 473.5h0M96.6 357.6h0M110.0 434.5h0M64.7 465.1h0M100.6 405.7h0M84.6 456.8h0M62.2 506.4h0M61.1 427.0h0M67.5 365.3h0M191.8 453.5h0M70.0 497.9h0M62.2 456.3h0M89.8 365.9h0M99.7 376.6h0M163.2 453.8h0M61.6 359.1h0M168.1 425.9h0M232.8 472.3h0M50.9 495.4h0M88.2 445.0h0M95.6 474.1h0M83.6 414.1h0M101.4 467.0h0M87.8 335.0h0M51.7 405.9h0M71.5 345.6h0M216.3 324.3h0M103.0 383.9h0M195.3 377.1h0M63.7 334.0h0M81.9 364.4h0M128.5 466.5h0M61.2 345.1h0M127.2 395.2h0M79.3 405.5h0M80.5 487.9h0M62.9 390.0h0M90.6 342.5h0M54.3 426.1h0M105.3 353.1h0M116.4 447.7h0M145.5 395.6h0M73.9 338.6h0M105.3 420.8h0M66.0 349.0h0M107.4 367.5h0M85.8 398.4h0M85.5 386.0h0M69.0 435.8h0M111.8 350.5h0M84.0 340.8h0M62.0 328.0h0M209.4 442.6h0M91.1 503.0h0M83.0 425.8h0M63.9 395.9h0M195.5 346.6h0M137.2 370.9h0M91.9 407.3h0M51.8 441.4h0M70.3 384.1h0M133.3 394.3h0M118.4 354.8h0M63.7 439.6h0M55.0 361.7h0M157.8 385.4h0M212.2 428.4h0M62.0 445.9h0M66.8 355.3h0M112.3 481.3h0M121.0 339.8h0M108.0 330.5h0M125.4 408.6h0M115.7 454.3h0M80.6 506.3h0M69.8 332.2h0M75.4 445.1h0M75.5 363.2h0M70.0 428.5h0M128.3 435.8h0M79.9 380.2h0M67.6 410.2h0M86.1 373.6h0M181.3 416.7h0M58.7 322.5h0M199.0 442.8h0M106.3 337.2h0M85.9 327.3h0M167.9 467.0h0M50.5 485.3h0M150.7 323.0h0M94.0 425.5h0M91.3 469.6h0M139.5 363.4h0M89.6 321.4h0M81.1 333.4h0M109.6 389.0h0M69.8 375.5h0M97.5 348.5h0M70.4 402.5h0M202.4 428.7h0M164.4 459.9h0M81.2 448.7h0M232.2 495.0h0M96.0 433.6h0M176.4 442.9h0M101.1 484.1h0M118.0 440.7h0M103.3 345.7h0M123.7 350.9h0M101.2 413.5h0M96.3 400.2h0M58.2 405.6h0M83.5 497.3h0M90.7 490.1h0M113.5 465.7h0M68.4 476.0h0M133.5 329.4h0M61.1 487.3h0M175.3 469.0h0M101.4 391.0h0M72.5 422.9h0M86.8 475.6h0M238.1 458.3h0M216.4 479.0h0M167.5 444.4h0M123.2 476.4h0M75.1 397.5h0M149.7 379.0h0M98.3 496.5h0M221.2 387.5h0M139.5 482.2h0M121.2 378.7h0M75.7 390.9h0M108.3 502.4h0M50.3 367.4h0M50.7 397.2h0M66.4 450.8h0M203.7 408.3h0M50.3 341.1h0M164.3 433.3h0M84.2 434.9h0M67.6 321.5h0M88.8 352.3h0M94.4 334.9h0M146.2 384.4h0M110.0 447.5h0M72.4 459.2h0M235.2 328.3h0M100.1 338.3h0M184.1 492.6h0M51.7 433.3h0M58.6 375.5h0M73.2 325.3h0M53.2 334.3h0M180.1 448.2h0M159.6 440.3h0M133.7 449.6h0M162.6 374.7h0M197.2 415.0h0M87.5 358.3h0M92.6 378.3h0M135.2 386.7h0M130.3 346.2h0M156.6 461.9h0M222.5 424.7h0M128.4 428.6h0"/>
<path class="r" d="M94.5 328.4h0M60.0 365.6h0M65.9 464.6h0M60.5 432.9h0M83.4 461.2h0M58.5 476.3h0M51.0 501.1h0M67.5 348.4h0M89.7 366.0h0M92.5 359.4h0M66.5 333.9h0M98.4 378.9h0M78.6 365.9h0M74.5 404.1h0M90.8 449.9h0M65.7 455.7h0M53.9 416.3h0M88.0 412.8h0M84.6 382.8h0M57.4 346.9h0M230.8 467.1h0M61.0 357.2h0M104.3 358.9h0M83.1 483.8h0M72.4 342.0h0M51.0 428.5h0M59.6 326.5h0M97.5 409.1h0M55.5 493.6h0M66.3 384.8h0M93.5 347.5h0M61.2 505.7h0M85.2 360.9h0M70.7 437.3h0M53.6 405.5h0M83.7 447.9h0M92.7 500.2h0M58.6 445.6h0M88.7 395.1h0M72.8 498.3h0M64.5 425.6h0M94.2 477.1h0M99.6 387.3h0M70.4 359.4h0M100.9 336.7h0M98.4 402.0h0M102.2 424.7h0M122.2 444.3h0M70.8 477.1h0M80.5 397.3h0M70.9 427.5h0M85.4 328.6h0M89.5 321.2h0M65.5 402.4h0M129.4 393.0h0M122.1 340.3h0M113.3 345.4h0M60.0 391.7h0M93.3 419.6h0M105.4 407.6h0M116.7 354.9h0M102.9 346.2h0M205.9 439.7h0M53.4 469.7h0M52.4 441.9h0M224.6 390.2h0M103.2 413.2h0M75.8 445.5h0M82.0 503.2h0M84.3 337.0h0M112.2 365.2h0M53.3 337.7h0M107.8 452.7h0M95.6 341.2h0M61.8 340.1h0M76.2 335.8h0M183.7 412.2h0M119.4 439.0h0M218.2 392.2h0"/>
<path class="r" d="M63.1 461.2h0M88.1 459.0h0M61.5 367.2h0M61.4 331.5h0M64.1 348.3h0M59.1 474.6h0M51.0 496.4h0M93.0 324.0h0M51.9 429.1h0M86.2 367.9h0M96.9 356.8h0M92.3 331.1h0M67.0 505.0h0M56.3 409.1h0M65.6 389.6h0M88.4 446.7h0M56.0 358.5h0M58.7 418.9h0M96.1 474.3h0M59.0 342.9h0M84.0 360.9h0M116.8 445.2h0M55.0 326.1h0M57.3 445.2h0M103.0 408.7h0M92.1 413.3h0M64.8 451.2h0M62.9 425.5h0M85.0 322.4h0M52.0 403.3h0M93.4 362.5h0M64.8 354.4h0M94.9 404.1h0M87.1 389.9h0M123.4 344.7h0M67.5 363.9h0M51.5 474.3h0M50.8 442.6h0M83.8 409.8h0M94.7 349.8h0M116.9 359.1h0M98.6 333.1h0M69.4 340.6h0"/>
<path class="r" d="M62.6 459.6h0M85.2 460.7h0M63.7 346.6h0M49.7 493.3h0M58.8 363.0h0M95.3 355.1h0M62.8 385.1h0M89.7 367.4h0M64.0 331.7h0M53.8 446.3h0M57.2 471.1h0M88.7 329.7h0M84.9 447.2h0M57.6 428.2h0M84.0 322.3h0M64.0 475.4h0M96.5 327.0h0M59.6 450.0h0M62.4 370.2h0M60.6 337.4h0"/>
<path class="r" d="M60.5 463.2h0M55.9 367.0h0M94.5 354.6h0M66.8 457.1h0M65.2 389.3h0M59.1 446.3h0M90.4 366.0h0M52.2 498.7h0M93.8 322.0h0M60.4 470.7h0M86.6 324.7h0"/>
<path class="r" d="M62.0 459.4h0M97.3 349.6h0M56.8 363.3h0M93.0 363.0h0"/>
</g>
<clipPath id="cc2"><rect x="258.50" y="322.00" width="193.50" height="191.40"/></clipPath>
<g clip-path="url(#cc2)" stroke-linecap="round" stroke-width="6.0" fill="none">
<path class="g" d="M438.0 357.9h0M415.7 471.9h0M382.7 370.8h0M430.8 491.9h0M353.6 491.5h0M428.0 405.4h0M436.2 400.8h0M424.7 412.8h0M453.0 471.5h0M275.4 465.3h0M396.1 340.0h0M272.2 476.4h0M450.1 428.6h0M356.9 461.5h0M343.7 461.6h0M387.9 359.7h0M429.6 339.3h0M327.6 384.9h0M448.1 327.6h0M412.4 343.4h0M430.5 470.4h0M326.5 340.8h0M285.5 391.6h0M361.0 426.8h0M411.1 495.7h0M300.9 451.5h0M357.5 444.7h0M409.3 323.1h0M437.0 420.5h0M321.7 345.3h0M410.1 440.2h0M381.6 490.7h0M441.4 474.5h0M415.8 356.7h0M372.7 332.1h0M447.6 486.3h0M391.9 368.3h0M421.5 451.4h0M340.8 395.8h0M434.4 433.1h0M276.6 325.4h0M438.4 394.9h0M439.9 340.6h0M392.9 405.5h0M286.8 496.7h0M402.5 385.2h0M430.5 373.1h0M359.1 479.3h0M429.8 460.2h0M430.1 504.7h0M292.7 478.8h0M420.0 464.7h0M420.4 321.1h0M438.6 332.3h0M424.6 351.7h0M321.6 386.8h0M377.6 501.2h0M328.1 351.6h0M396.4 394.7h0M399.2 414.7h0M277.3 361.5h0M396.0 486.3h0M423.9 391.2h0M270.2 430.8h0M394.8 360.1h0M407.2 431.8h0M313.8 454.3h0M328.4 422.7h0M295.3 462.4h0M371.4 384.2h0M400.1 503.1h0M325.3 446.6h0M378.9 439.8h0M444.3 379.8h0M404.9 350.8h0M402.5 332.0h0M289.6 502.6h0M319.8 403.4h0M346.3 449.2h0M367.1 328.2h0M367.0 439.5h0M431.4 396.4h0M273.5 354.3h0M274.6 419.0h0M394.9 328.0h0M364.2 348.0h0M424.3 328.9h0M302.1 335.8h0M383.4 412.4h0M394.7 496.1h0M289.4 488.7h0M375.2 486.0h0M409.4 405.9h0M321.5 440.8h0M382.3 476.2h0M372.0 471.8h0M447.3 434.4h0M274.2 507.3h0M448.8 443.8h0M393.2 508.1h0M441.6 427.0h0M437.2 488.9h0M431.0 324.2h0M398.7 426.5h0M439.2 454.8h0M343.8 429.8h0M332.0 458.5h0M410.5 359.6h0M440.0 369.0h0M360.2 366.3h0M293.1 354.8h0M384.9 466.0h0M264.8 471.9h0M337.3 495.1h0M385.1 344.5h0M345.0 354.5h0M426.1 439.4h0M417.8 478.7h0M337.8 406.1h0M364.3 455.9h0M409.7 473.0h0M374.2 457.6h0M294.6 416.0h0M333.0 411.8h0M438.2 413.7h0M367.3 395.3h0M315.4 426.3h0M353.2 322.6h0M409.2 480.4h0M393.5 455.7h0M449.5 507.7h0M384.1 459.6h0M347.4 411.0h0M390.1 378.3h0M375.3 432.9h0M442.8 493.5h0M388.3 431.4h0M383.8 354.6h0M366.8 463.1h0M293.1 383.8h0M451.7 494.8h0M450.1 396.5h0M452.1 383.2h0M386.6 496.9h0M371.2 410.9h0M343.4 439.0h0M407.0 458.7h0M413.0 417.6h0M450.2 415.7h0M399.3 450.1h0M414.7 349.8h0M339.0 482.9h0M401.0 471.7h0M385.0 395.6h0M445.9 370.7h0M346.5 370.2h0M378.8 467.0h0M278.2 442.8h0M351.2 402.6h0M447.8 466.9h0M416.0 457.3h0M360.7 399.8h0M294.1 428.1h0M389.9 419.1h0M392.8 424.6h0M345.0 325.4h0M434.6 381.4h0M397.8 440.2h0M380.3 321.6h0M420.7 490.5h0M453.4 403.8h0M310.0 465.6h0M408.9 374.0h0M285.9 363.0h0M364.6 448.5h0M351.7 361.8h0M287.6 439.8h0M439.3 460.9h0M371.8 492.4h0M373.1 427.1h0M390.3 399.2h0M297.0 339.7h0M400.7 324.7h0M443.3 406.7h0M376.7 407.0h0M453.4 461.3h0M327.8 468.4h0M427.5 424.6h0M305.0 440.9h0M358.4 407.8h0M290.0 459.3h0M324.5 398.8h0M360.7 494.2h0M338.1 337.2h0M346.5 500.2h0M418.8 419.9h0M268.8 413.3h0M433.7 475.9h0M410.3 466.8h0M317.2 412.7h0M310.3 397.4h0M334.9 421.9h0M435.9 346.9h0M321.6 496.2h0M300.1 497.4h0M399.3 462.3h0M392.1 442.3h0M421.9 385.4h0M420.5 496.9h0M369.7 371.1h0M441.1 446.9h0M327.1 503.0h0M381.2 377.3h0M346.7 483.3h0M443.3 499.6h0M422.1 338.6h0M436.3 321.2h0M291.8 345.2h0M404.2 491.1h0M447.1 354.2h0M265.2 435.6h0M317.0 394.8h0M338.3 374.0h0M341.3 416.0h0M325.9 414.2h0M347.8 455.6h0M315.9 383.5h0M447.0 452.4h0M315.6 367.6h0M297.7 373.0h0M408.1 395.8h0M323.8 478.6h0M368.7 497.9h0M274.2 498.8h0M302.2 396.6h0M299.1 355.4h0M280.6 462.1h0M423.2 361.8h0M403.3 484.9h0M278.9 400.6h0M410.7 331.1h0M284.9 480.6h0M337.6 441.1h0M448.4 337.9h0M320.2 355.1h0M376.4 422.1h0M415.7 449.7h0M276.3 492.0h0M431.1 447.1h0M369.7 343.5h0M277.1 413.4h0M436.3 498.0h0M352.3 353.1h0M445.6 361.4h0M316.8 500.3h0M312.8 335.5h0M385.7 437.7h0M297.4 388.3h0M349.0 422.3h0M451.8 481.9h0M327.9 489.6h0M289.6 453.3h0M342.2 469.6h0M389.4 338.0h0M344.2 364.4h0M373.2 356.3h0M305.7 473.3h0M342.4 505.6h0M330.1 404.7h0M416.9 333.4h0M298.6 347.9h0M394.0 478.9h0M350.7 416.4h0M420.3 506.5h0M422.5 378.8h0M265.7 419.9h0M363.6 374.2h0M311.1 448.0h0M446.1 321.5h0M285.6 346.6h0M283.5 328.2h0M418.3 371.2h0M402.0 373.1h0M288.3 337.8h0M383.7 443.8h0M331.2 478.5h0M314.8 461.9h0M411.7 381.1h0M436.1 506.6h0M364.9 409.3h0M378.2 390.2h0M313.1 490.4h0M414.9 365.9h0M267.4 453.3h0M339.9 450.2h0M353.1 478.6h0M343.9 405.3h0M438.7 441.4h0M404.6 444.4h0M331.4 330.7h0M343.2 477.3h0M307.7 339.8h0M337.2 352.4h0M305.7 505.2h0M317.4 419.3h0M427.1 368.0h0M271.9 391.9h0M316.5 508.2h0M408.1 504.8h0M318.1 323.6h0M440.8 468.2h0M412.5 424.0h0M321.2 488.1h0M279.4 350.2h0M294.7 449.0h0M349.0 343.2h0M396.4 388.3h0M310.6 436.3h0M352.3 391.5h0M379.8 332.1h0M389.1 448.1h0M364.9 470.4h0M286.0 381.5h0M392.4 469.5h0M358.7 453.6h0M387.6 330.2h0M270.9 443.7h0M326.2 455.1h0M432.0 362.1h0M402.7 391.3h0M377.4 398.5h0M376.8 507.6h0M355.1 328.9h0M306.9 348.7h0M429.2 384.1h0M446.0 389.7h0M415.7 390.3h0M361.7 488.1h0M336.7 389.7h0M374.8 367.7h0M375.0 378.3h0M372.2 322.9h0M352.4 337.8h0M365.8 482.4h0M380.8 428.5h0M426.0 433.3h0M325.7 378.1h0M278.1 382.2h0M430.7 418.5h0M335.0 358.8h0M308.1 378.0h0M271.1 342.8h0M403.1 341.8h0M371.8 480.6h0M326.5 320.7h0M332.8 371.3h0M393.6 321.7h0M453.0 438.8h0M418.6 427.3h0M304.9 487.6h0M359.1 344.3h0M352.1 472.4h0M404.9 418.1h0M453.5 454.4h0M301.7 412.1h0M281.9 472.1h0M448.2 475.6h0M371.6 451.5h0M342.8 380.2h0M376.1 348.3h0M367.0 388.6h0M305.7 357.2h0M281.3 408.5h0M357.3 508.2h0M367.4 419.1h0M326.4 429.8h0M299.0 470.3h0M416.5 403.0h0M310.5 406.1h0M273.6 332.6h0M400.3 433.9h0M384.0 423.3h0M401.9 358.5h0M354.4 435.0h0"/>
<path class="g" d="M439.8 352.6h0M451.8 432.6h0M385.7 355.2h0M430.1 486.5h0M417.3 474.9h0M325.7 390.5h0M418.9 455.0h0M443.7 477.6h0M395.4 372.3h0M284.1 392.0h0M433.3 342.4h0M432.7 367.7h0M423.5 447.9h0M296.4 467.9h0M268.8 472.3h0M387.4 406.1h0M428.3 507.7h0M407.9 400.7h0M430.5 400.1h0M396.4 364.9h0M370.8 384.2h0M401.4 353.5h0M431.0 454.5h0M441.3 327.6h0M380.1 472.7h0M349.0 446.7h0M388.5 367.7h0M446.9 492.1h0M432.6 472.3h0M358.5 324.0h0M416.4 360.0h0M337.2 497.0h0M372.7 489.6h0M425.3 411.6h0M330.1 455.9h0M337.0 408.3h0M327.2 447.0h0M451.7 331.3h0M433.1 359.8h0M452.7 425.8h0M395.3 335.0h0M426.5 500.8h0M320.5 425.9h0M422.8 440.5h0M440.2 403.8h0M416.8 493.8h0M428.4 434.2h0M389.4 433.7h0M407.4 468.9h0M372.7 456.9h0M326.7 350.5h0M293.6 485.7h0M442.5 426.8h0M411.3 484.2h0M440.3 378.0h0M453.3 379.1h0M413.1 343.6h0M282.6 438.9h0M452.6 497.4h0M343.0 434.7h0M423.4 321.4h0M370.2 414.0h0M374.4 437.0h0M445.2 416.7h0M396.8 415.1h0M416.9 464.4h0M400.7 453.6h0M412.1 416.2h0M440.6 455.6h0M428.0 335.3h0M441.1 364.0h0M393.8 505.9h0M352.7 401.7h0M359.5 402.6h0M414.9 439.4h0M450.9 445.4h0M319.7 444.7h0M401.0 498.2h0M387.7 495.5h0M449.7 368.0h0M401.1 504.5h0M452.8 477.1h0M417.4 487.0h0M385.1 413.2h0M436.3 335.9h0M394.7 357.0h0M290.3 508.2h0M434.7 421.4h0M383.5 466.3h0M396.0 406.5h0M354.5 487.6h0M429.0 419.0h0M355.1 441.5h0M401.3 444.7h0M364.8 345.4h0M404.3 333.0h0M299.5 455.8h0M431.9 496.2h0M311.0 463.5h0M407.5 459.7h0M380.4 496.1h0M328.2 471.5h0M422.9 495.7h0M395.4 465.3h0M371.0 474.5h0M434.9 429.8h0M364.8 463.4h0M384.1 378.7h0M318.3 493.9h0M449.2 485.8h0M281.6 498.4h0M386.4 459.6h0M403.9 387.5h0M344.3 396.1h0M422.2 481.8h0M375.4 463.9h0M431.2 392.9h0M321.6 416.8h0M334.6 425.3h0M450.4 455.6h0M323.0 475.1h0M396.4 492.0h0M403.4 394.6h0M423.8 385.4h0M277.4 420.9h0M357.8 479.3h0M282.0 475.7h0M336.9 336.7h0M343.7 463.9h0M439.8 464.8h0M288.0 489.2h0M370.3 391.9h0M384.4 419.9h0M418.8 350.3h0M411.4 408.1h0M352.2 498.9h0M361.7 429.6h0M296.2 419.8h0M410.5 475.3h0M446.2 348.5h0M392.2 380.8h0M334.8 436.8h0M392.3 392.1h0M349.4 361.7h0M447.2 464.7h0M405.4 489.9h0M363.8 407.8h0M365.3 490.9h0M418.2 328.0h0M328.2 480.1h0M366.5 435.0h0M365.3 501.2h0M377.3 422.9h0M431.5 443.0h0M448.4 355.5h0M406.4 322.0h0M376.6 416.4h0M301.7 497.7h0M406.1 435.3h0M339.7 418.2h0M353.8 417.1h0M389.3 468.2h0M397.4 384.2h0M349.2 321.7h0M321.0 481.6h0M431.7 323.3h0M356.1 362.6h0M427.3 466.0h0M325.0 341.9h0M335.7 490.3h0M386.2 393.8h0M296.3 427.0h0M451.0 408.8h0M421.0 507.0h0M272.4 478.8h0M402.4 367.3h0M400.4 431.8h0M364.1 452.4h0M409.0 444.2h0M288.6 349.9h0M423.2 405.3h0M427.5 374.8h0M438.1 372.0h0M374.6 443.8h0M318.8 388.5h0M437.9 507.5h0M290.8 444.1h0M407.7 356.7h0M414.5 320.6h0M291.8 438.1h0M417.0 381.5h0M282.6 404.4h0M394.9 425.0h0M333.5 331.1h0M345.2 504.3h0M326.1 505.2h0M376.9 483.8h0M385.1 343.2h0M366.4 371.7h0M378.2 406.7h0M286.9 450.2h0M425.1 395.2h0M447.4 323.0h0M422.2 337.0h0M292.9 335.5h0M349.2 422.2h0M322.8 451.8h0M409.4 498.0h0M350.0 330.5h0M275.6 490.1h0M266.1 413.3h0M393.2 439.7h0M384.1 444.0h0M369.0 358.9h0M441.5 433.6h0M340.8 366.6h0M426.0 327.4h0M268.9 396.5h0M342.1 492.5h0M311.8 490.9h0M377.2 377.6h0M274.3 434.3h0M415.9 502.7h0M298.7 341.9h0M281.9 461.9h0M404.1 414.2h0M323.1 400.4h0M450.3 388.5h0M299.7 376.3h0M444.6 373.3h0M421.9 419.2h0M274.1 352.0h0M445.1 384.1h0M442.4 411.0h0M395.7 458.8h0M439.4 390.8h0M453.4 506.6h0M423.7 355.7h0M290.1 358.7h0M339.5 349.8h0M311.2 337.8h0M297.4 395.4h0M389.2 475.5h0M428.3 426.0h0M314.2 422.9h0M434.3 480.4h0M366.7 445.0h0M402.8 375.7h0M327.4 369.9h0M306.0 471.1h0M331.9 390.6h0M288.2 480.9h0M325.8 380.3h0M318.1 463.4h0M300.4 401.2h0M402.8 482.0h0M450.5 337.9h0M358.2 448.1h0M359.9 471.7h0M287.8 459.2h0M304.5 448.0h0M368.7 481.4h0M378.8 369.8h0M398.8 400.0h0M397.1 474.9h0M321.5 435.5h0M351.2 480.0h0M347.9 369.9h0M347.8 344.5h0M308.6 343.2h0M277.2 387.3h0M312.6 331.2h0M353.6 465.4h0M405.3 381.3h0M351.5 456.1h0M344.4 483.7h0M314.1 455.8h0M408.2 453.1h0M280.7 377.6h0M267.9 339.6h0"/>
<path class="g" d="M393.5 372.0h0M434.5 368.8h0M438.6 354.2h0M432.3 460.2h0M430.1 476.2h0M427.7 441.7h0M414.5 476.9h0M412.4 402.5h0M383.5 359.5h0M402.4 469.0h0M393.5 361.7h0M392.5 332.2h0M447.5 379.1h0M409.2 470.9h0M442.6 332.5h0M423.2 452.7h0M433.7 434.8h0M417.6 494.1h0M404.4 353.6h0M417.3 462.8h0M380.8 477.0h0M437.8 401.2h0M371.8 384.3h0M280.3 389.3h0M385.7 436.7h0M386.0 493.7h0M374.7 438.5h0M448.6 473.7h0M325.1 386.3h0M378.4 468.3h0M394.9 506.7h0M367.9 489.6h0M327.5 353.0h0M428.3 429.0h0M426.5 334.4h0M425.6 410.5h0M372.9 461.8h0M363.8 349.4h0M436.9 328.5h0M336.8 408.5h0M336.4 494.3h0M451.3 494.4h0M358.1 397.7h0M424.6 497.3h0M400.3 492.5h0M403.5 500.6h0M368.7 475.3h0M386.5 367.4h0M449.3 414.4h0M420.1 360.3h0M400.0 445.7h0M374.3 486.4h0M385.0 409.4h0M374.9 498.3h0M407.3 391.7h0M449.6 447.1h0M435.0 393.6h0M409.9 484.8h0M429.3 507.3h0M423.7 486.3h0M439.5 465.6h0M397.1 355.4h0M394.7 404.9h0M392.2 491.2h0M356.5 486.8h0M380.1 423.5h0M400.3 454.6h0M349.5 490.3h0M429.0 389.1h0M327.8 446.3h0M433.5 487.2h0M429.2 416.0h0M276.1 421.0h0M417.2 347.4h0M437.8 379.2h0M404.2 385.7h0M282.9 501.1h0M443.1 431.8h0M427.8 403.7h0M432.7 501.6h0M301.6 451.0h0M337.7 331.9h0M348.4 441.4h0M392.5 434.1h0M409.3 494.2h0M437.2 340.1h0M319.5 495.9h0M367.8 392.6h0M399.8 397.3h0M330.9 455.3h0M407.4 440.5h0M343.9 468.2h0M450.1 328.2h0M373.6 454.1h0M393.2 418.3h0M361.1 498.2h0M447.4 436.1h0M353.2 411.6h0M386.4 464.3h0M434.5 447.5h0M386.8 417.6h0M287.2 483.5h0M441.0 477.6h0M447.2 359.7h0M348.1 400.7h0M347.5 431.0h0M335.9 421.1h0M367.0 404.0h0M422.5 416.6h0M279.7 437.6h0M293.0 425.9h0M363.2 436.1h0M300.1 458.8h0M379.8 493.6h0M349.2 323.2h0M400.6 322.5h0M432.9 422.0h0M445.0 483.5h0M326.1 481.1h0M345.8 358.2h0M402.3 369.8h0M442.3 492.4h0M396.7 386.2h0M286.2 506.1h0M367.3 340.7h0M311.6 468.0h0M421.3 385.2h0M407.0 407.0h0M414.3 418.9h0M419.2 322.7h0M424.7 341.4h0M399.4 348.7h0M451.0 351.1h0M331.5 338.6h0M305.1 500.9h0M408.5 323.4h0M401.4 337.8h0M411.2 357.6h0M407.0 446.7h0M344.4 395.5h0M362.2 371.5h0M428.4 468.8h0M319.6 477.8h0M437.1 348.3h0M336.0 484.8h0M333.9 436.7h0M270.6 435.8h0M388.0 505.2h0M344.2 420.6h0M418.5 354.2h0M296.4 337.0h0M434.0 453.5h0M286.4 455.9h0M421.5 479.0h0M399.6 330.2h0M355.0 403.7h0M431.0 344.6h0M301.3 376.0h0M371.0 361.3h0M446.7 370.6h0M360.2 424.1h0M320.1 488.2h0M332.4 427.4h0M318.0 441.6h0M284.4 347.0h0M351.0 450.2h0M317.6 452.1h0M449.2 386.1h0M336.9 500.7h0M351.6 417.7h0M311.4 426.6h0M376.9 377.0h0M413.7 436.4h0M448.9 464.7h0M340.4 353.7h0M413.9 408.8h0M374.5 405.8h0M384.6 348.6h0M270.0 479.4h0M323.6 452.6h0M415.2 385.9h0M442.9 414.8h0M393.9 500.4h0M288.6 355.7h0M410.8 456.4h0M453.1 406.5h0M329.6 369.0h0M329.8 380.8h0M427.3 371.4h0M383.7 455.1h0M405.9 477.7h0M374.9 367.0h0M420.0 334.9h0M360.0 469.2h0M322.5 398.1h0M356.1 475.1h0M415.5 377.8h0M343.0 496.5h0M352.9 496.6h0M299.6 495.0h0M450.1 430.1h0M366.4 381.7h0M293.5 472.3h0M353.3 362.9h0M400.5 435.9h0"/>
<path class="g" d="M394.8 366.3h0M434.1 356.2h0M390.2 358.3h0M424.6 443.7h0M437.9 459.4h0M419.0 474.7h0M421.0 451.3h0M370.7 435.4h0M408.9 466.1h0M419.0 458.8h0M405.3 356.6h0M370.4 382.5h0M372.6 462.9h0M434.1 397.9h0M384.3 431.0h0M436.7 331.9h0M445.7 329.3h0M419.6 497.7h0M375.4 491.0h0M414.5 463.3h0M428.3 470.9h0M449.8 448.6h0M449.1 472.6h0M368.7 348.9h0M404.5 503.6h0M402.7 349.5h0M408.2 393.5h0M400.8 466.4h0M449.5 414.0h0M404.1 472.2h0M431.2 434.3h0M390.9 504.8h0M341.4 493.7h0M446.8 442.4h0M355.6 481.8h0M442.1 467.4h0M452.2 489.9h0M375.4 441.7h0M421.7 362.7h0M451.9 498.7h0M369.8 394.9h0M384.4 492.7h0M398.9 449.8h0M362.2 397.3h0M427.9 424.8h0M424.5 337.2h0M434.3 497.0h0M336.8 336.5h0M386.5 467.1h0M442.5 381.8h0M419.4 482.7h0M435.7 444.2h0M442.4 474.0h0M440.1 324.8h0M375.7 471.2h0M436.8 367.0h0M354.6 411.3h0M398.2 406.0h0M369.6 494.0h0M347.3 435.0h0M379.0 476.7h0M413.2 498.5h0M446.4 429.8h0M388.1 414.2h0M421.6 347.3h0M325.9 485.4h0M432.0 449.7h0M339.4 408.2h0M378.5 434.1h0M403.9 324.3h0M411.1 437.7h0M289.7 486.4h0M427.4 414.7h0M433.2 421.0h0M372.8 480.8h0M351.7 445.3h0M365.6 405.6h0M441.0 353.4h0M348.0 320.6h0M441.3 398.1h0M394.0 432.0h0M416.4 491.3h0M332.0 410.5h0M430.9 489.9h0M410.2 322.8h0M404.3 335.7h0M362.5 487.3h0M400.7 441.5h0M397.7 355.5h0M397.3 394.8h0M407.7 492.5h0M445.6 484.5h0M318.2 499.4h0M416.4 356.9h0M363.2 368.1h0M288.5 350.0h0M396.8 374.3h0M382.2 498.4h0M383.6 366.1h0M285.9 460.1h0M431.9 341.0h0M397.0 331.8h0M449.2 387.0h0M403.5 375.4h0M359.7 406.8h0M408.8 477.8h0M301.1 452.9h0M425.1 503.7h0M406.5 384.5h0M353.1 397.3h0M372.2 355.8h0M328.4 388.4h0M344.5 445.4h0M425.9 391.5h0M285.3 452.5h0M353.6 489.9h0M288.7 479.0h0M447.2 352.9h0M379.8 373.2h0M436.4 484.5h0M429.5 370.2h0M383.0 440.9h0M399.3 382.0h0M276.9 391.5h0M399.0 459.1h0M325.6 380.7h0M429.2 456.5h0M383.5 358.9h0M356.1 464.8h0M333.2 457.6h0"/>
<path class="g" d="M372.6 460.0h0M413.6 476.2h0M377.5 487.4h0M386.1 431.3h0M392.7 359.1h0M373.4 440.3h0M437.8 459.0h0M431.0 402.3h0M423.1 448.1h0M429.9 432.8h0M447.7 379.3h0M415.4 496.2h0M417.0 464.2h0M437.7 465.6h0M385.5 465.1h0M447.5 431.1h0M418.2 350.5h0M353.2 415.9h0M345.0 429.8h0M452.0 446.8h0M421.4 332.1h0M369.4 381.9h0M429.6 476.5h0M405.0 353.6h0M448.7 468.4h0M432.7 500.7h0M438.9 478.0h0M446.8 487.3h0M445.4 350.9h0M447.6 333.5h0M435.6 397.4h0M448.5 326.6h0M423.0 501.9h0M400.4 500.3h0M399.7 348.7h0M342.1 496.1h0M431.9 445.3h0M382.0 493.6h0M401.2 320.6h0M438.4 331.2h0M432.0 419.1h0M361.9 399.0h0M326.0 482.4h0M398.8 390.9h0M396.7 443.9h0M429.5 465.7h0M394.9 453.1h0M394.5 408.1h0M355.1 449.7h0M439.9 377.6h0M421.2 481.8h0M396.4 505.9h0M365.8 406.1h0M392.5 366.0h0M412.1 442.8h0M427.1 488.5h0M348.8 323.7h0M366.1 487.8h0M407.0 498.4h0M398.0 331.5h0M394.8 401.2h0M406.5 465.3h0M410.3 357.8h0M415.1 482.3h0M418.3 452.0h0M352.9 406.3h0M450.8 410.1h0M407.7 325.2h0M449.1 389.3h0M385.4 412.8h0M404.2 452.5h0"/>
<path class="g" d="M375.9 459.7h0M417.8 477.1h0M394.1 359.8h0M386.2 434.8h0M430.3 437.9h0M373.7 489.0h0M416.1 347.4h0M445.1 431.7h0M451.1 447.3h0M418.3 461.4h0M414.3 496.3h0M420.9 452.5h0M436.0 420.1h0M368.9 460.8h0M387.6 493.1h0M430.1 468.7h0M433.1 400.8h0M420.1 499.8h0M375.5 440.8h0M422.9 348.3h0M440.5 399.1h0M439.0 454.6h0M446.1 468.6h0M428.0 428.4h0M418.3 486.2h0M400.5 396.6h0"/>
<path class="g" d="M375.3 463.5h0M377.9 486.4h0M445.5 426.6h0M384.9 433.7h0M415.7 477.2h0M431.9 421.4h0M452.6 449.9h0"/>
<path class="g" d="M413.9 478.3h0"/>
<path class="r" d="M308.5 488.9h0M293.1 495.7h0M305.9 407.5h0M296.5 488.3h0M391.2 413.2h0M377.4 427.3h0M321.6 355.7h0M272.5 390.6h0M365.2 419.8h0M302.2 389.4h0M331.3 368.0h0M369.7 338.4h0M380.5 463.7h0M297.4 422.0h0M403.2 328.0h0M318.6 326.9h0M341.6 331.1h0M419.0 453.1h0M348.0 482.6h0M446.3 446.0h0M332.6 453.7h0M275.0 497.9h0M392.2 480.1h0M286.9 408.9h0M341.4 322.8h0M309.6 431.1h0M421.5 414.6h0M312.0 462.7h0M307.7 344.9h0M273.5 334.0h0M357.6 490.8h0M388.0 379.4h0M438.9 328.7h0M447.6 383.0h0M295.5 389.0h0M405.4 334.1h0M264.3 335.0h0M353.2 409.4h0M270.2 396.6h0M427.9 394.0h0M265.7 350.9h0M279.9 406.2h0M413.2 449.8h0M356.1 326.8h0M343.9 358.3h0M429.7 475.1h0M435.3 374.8h0M322.9 405.9h0M399.6 417.3h0M392.2 393.8h0M334.3 400.1h0M325.7 451.8h0M293.8 398.5h0M397.3 450.1h0M266.2 473.7h0M444.3 391.2h0M281.1 459.8h0M292.0 463.5h0M313.5 409.8h0M282.1 502.3h0M318.6 341.1h0M393.2 346.5h0M337.1 428.8h0M354.2 373.3h0M451.2 441.9h0M267.2 370.6h0M354.5 481.0h0M320.3 435.3h0M406.9 346.2h0M346.8 475.4h0M432.1 333.3h0M288.9 365.9h0M451.0 477.1h0M303.9 333.0h0M432.8 414.5h0M285.4 325.8h0M278.1 349.2h0M298.1 469.5h0M301.6 482.4h0M367.4 406.7h0M270.9 479.5h0M309.0 400.5h0M382.3 443.6h0M329.8 323.9h0M271.6 450.7h0M338.3 482.0h0M351.8 441.4h0M402.7 429.7h0M377.5 372.2h0M296.0 443.4h0M312.7 445.3h0M290.9 374.7h0M279.0 331.4h0M378.5 406.1h0M303.4 419.5h0M277.4 426.9h0M344.3 336.8h0M453.3 506.2h0M281.3 388.0h0M325.3 444.5h0M333.7 383.6h0M427.6 358.5h0M422.1 475.1h0M369.2 466.4h0M347.5 370.8h0M280.6 359.8h0M338.2 492.0h0M303.7 503.1h0M287.7 422.5h0M270.5 343.4h0M391.4 463.5h0M354.6 343.6h0M287.2 345.7h0M404.5 455.6h0M312.0 391.5h0M386.5 475.2h0M445.1 344.9h0M272.3 354.5h0M372.8 456.8h0M398.1 336.3h0M384.3 486.0h0M398.6 343.5h0M303.0 461.7h0M284.1 481.1h0M265.1 433.5h0M366.4 494.8h0M328.9 375.2h0M448.9 327.2h0M408.9 445.6h0M303.8 371.4h0M364.2 484.2h0M355.7 459.4h0M293.8 412.8h0M336.6 474.6h0M382.7 433.3h0M352.7 382.4h0M270.6 381.9h0M270.2 415.6h0M411.0 363.5h0M273.5 371.1h0M334.5 442.8h0M373.2 435.3h0M332.5 359.4h0M361.3 363.3h0M391.2 352.9h0M267.9 444.2h0M344.8 458.5h0M426.9 377.1h0M334.6 349.1h0M291.9 433.5h0M379.4 417.2h0M288.4 502.6h0M402.5 469.9h0M328.1 387.8h0M292.0 339.8h0M388.0 497.4h0M369.1 349.4h0M428.6 327.4h0M320.1 441.5h0M363.8 391.4h0M420.3 322.6h0M353.4 362.2h0M365.0 446.7h0M419.5 506.3h0M352.8 505.8h0M361.0 340.6h0M428.7 409.5h0M362.7 347.5h0M319.0 468.3h0M394.1 366.0h0M298.3 339.8h0M387.2 341.1h0M443.3 472.3h0M349.2 427.0h0M290.9 474.7h0M292.6 360.8h0M370.6 392.3h0M373.5 384.3h0M281.5 394.7h0M298.5 354.7h0M289.8 381.8h0M322.9 416.6h0M380.0 400.0h0M323.2 331.2h0M378.4 504.3h0M298.2 368.5h0M376.9 324.9h0M410.7 385.3h0M368.1 508.1h0M342.8 403.6h0M297.8 450.3h0M351.4 399.5h0M411.1 425.0h0M353.9 470.5h0M335.4 390.1h0M378.0 362.9h0M392.6 440.1h0M413.6 349.8h0M343.1 414.0h0M441.6 399.1h0M283.1 376.1h0M385.8 333.8h0M328.6 497.3h0M271.2 459.7h0M404.8 358.8h0M378.4 480.6h0M432.4 404.4h0M299.1 375.7h0M278.6 488.4h0M368.3 425.7h0M396.0 382.3h0M273.3 362.4h0M345.7 488.2h0M440.7 338.2h0M424.8 352.9h0M402.5 370.2h0M410.2 410.2h0M436.3 435.5h0M322.1 391.2h0M278.1 322.3h0M374.7 446.7h0M284.7 466.8h0M281.3 432.7h0M346.8 507.8h0M324.8 473.0h0M360.3 333.8h0M285.8 488.0h0M352.0 321.5h0M298.7 382.8h0M328.2 437.2h0M429.2 424.0h0M411.7 470.0h0M402.8 498.4h0M368.4 361.1h0M440.4 451.6h0M316.7 398.0h0M396.0 327.4h0M345.2 498.0h0M318.1 502.4h0M364.7 353.7h0M264.4 490.4h0M303.2 359.5h0M341.5 343.1h0M316.2 383.5h0M341.2 396.8h0M387.5 403.4h0M264.7 453.9h0M422.3 338.5h0M313.7 321.9h0M267.8 408.3h0M429.6 365.2h0M314.2 453.8h0M284.1 400.7h0M281.3 368.9h0M342.4 503.5h0M408.6 494.9h0M439.7 409.1h0M349.3 452.5h0M446.4 461.9h0M438.1 420.0h0M402.5 436.8h0M357.8 413.5h0M344.4 348.6h0M264.9 502.8h0M419.9 395.2h0M272.6 432.8h0M328.4 485.7h0M371.1 372.0h0M338.4 421.4h0M286.0 355.8h0M313.8 337.3h0M447.3 335.9h0M443.0 323.9h0M312.1 497.7h0M381.5 357.8h0M311.9 368.4h0M281.6 440.5h0M405.7 419.4h0M428.8 340.9h0M308.0 325.0h0M373.9 344.7h0M278.1 467.6h0M282.0 474.5h0M385.2 352.3h0M271.3 323.9h0M427.6 437.4h0M388.9 423.5h0M366.0 459.0h0M295.5 332.3h0M263.9 381.1h0M388.1 503.7h0M394.6 426.5h0M452.2 369.0h0M441.8 365.7h0M308.7 440.2h0M358.0 422.3h0M417.8 406.2h0M408.9 378.7h0M327.6 349.1h0M339.1 379.2h0M383.3 391.0h0M417.0 373.9h0M291.4 448.5h0M358.6 320.8h0M308.9 356.7h0M326.0 340.8h0M270.8 467.5h0M442.8 436.7h0M399.1 505.0h0M344.8 469.6h0M408.6 435.3h0M334.2 335.3h0M412.2 333.2h0M338.8 409.6h0M432.2 496.1h0M406.9 488.9h0M338.3 366.6h0M338.0 498.4h0M366.8 432.9h0M350.9 338.8h0M402.2 350.2h0M365.1 476.6h0M443.6 479.2h0M324.5 367.9h0M359.4 387.0h0M422.0 463.5h0M328.3 463.3h0M382.3 452.8h0M270.0 421.9h0M321.1 377.4h0M390.1 360.5h0M295.3 347.2h0M329.9 424.1h0M306.9 450.4h0M448.1 421.9h0M419.1 330.9h0M396.0 494.2h0M332.8 411.1h0M352.8 389.1h0M451.4 427.0h0M315.6 418.3h0M359.1 380.3h0M350.3 355.6h0M436.5 343.6h0M327.8 396.4h0M429.1 482.0h0M406.6 322.1h0M296.6 457.6h0M402.4 407.5h0M413.2 415.7h0M450.3 486.0h0M402.7 444.8h0M451.2 455.2h0M436.2 368.6h0M266.0 463.0h0M284.9 415.0h0M292.4 427.0h0M283.8 448.4h0M407.7 464.5h0M263.8 322.2h0M293.1 406.5h0M358.0 405.2h0M325.3 502.5h0M317.0 350.1h0M424.4 386.3h0M399.1 460.5h0M363.4 399.2h0M287.5 393.2h0M365.5 379.5h0M436.4 428.2h0M340.4 385.8h0M440.6 352.4h0M371.3 476.2h0M374.5 354.9h0M345.3 434.2h0M387.6 320.8h0M443.7 373.2h0M277.1 377.8h0M353.1 498.0h0M302.6 443.0h0M348.9 416.1h0M315.4 428.8h0M418.6 346.2h0M453.2 395.1h0M267.1 401.8h0M360.2 429.3h0M373.5 330.8h0M355.6 452.7h0M350.3 328.9h0M407.0 508.2h0M312.4 472.0h0M435.7 478.4h0M325.7 361.3h0M301.1 400.8h0M367.2 328.1h0M264.2 395.4h0M392.2 332.8h0M448.2 353.5h0M380.6 474.1h0M296.9 477.4h0"/>
<path class="r" d="M272.2 339.4h0M332.5 364.1h0M310.3 349.1h0M380.1 425.2h0M289.0 492.7h0M267.5 330.0h0M395.3 392.8h0M355.6 495.5h0M322.1 340.1h0M377.2 461.3h0M420.6 412.6h0M312.3 412.3h0M390.5 349.9h0M398.1 330.9h0M355.2 325.4h0M298.1 392.7h0M346.7 358.0h0M271.8 473.9h0M301.1 419.8h0M318.4 429.9h0M319.0 411.0h0M277.1 328.9h0M363.3 407.5h0M349.5 445.8h0M323.8 451.9h0M452.6 502.0h0M346.1 369.8h0M407.6 342.3h0M390.8 341.3h0M275.8 425.4h0M275.7 392.9h0M305.4 505.6h0M330.0 400.5h0M282.0 346.4h0M350.2 345.9h0M310.6 388.0h0M264.9 433.3h0M269.2 482.6h0M305.5 393.7h0M348.9 385.9h0M302.0 489.2h0M293.7 460.2h0M352.6 477.8h0M332.7 441.0h0M369.4 420.7h0M288.8 405.7h0M372.3 333.3h0M277.0 369.4h0M281.2 482.6h0M373.8 434.0h0M315.3 322.8h0M402.6 459.0h0M404.8 424.4h0M285.8 372.8h0M307.4 402.9h0M338.3 422.9h0M308.2 340.2h0M292.5 389.1h0M344.6 477.4h0M308.7 459.3h0M276.4 460.0h0M269.6 455.4h0M332.0 324.8h0M367.4 469.0h0M378.9 369.1h0M281.6 360.5h0M305.0 434.3h0M406.0 326.9h0M354.1 340.3h0M282.8 424.1h0M319.1 356.5h0M360.7 418.2h0M286.4 503.6h0M324.4 323.2h0M374.2 402.7h0M268.0 354.5h0M271.8 387.2h0M324.4 360.4h0M299.5 472.0h0M354.7 365.6h0M361.7 342.9h0M315.9 439.4h0M445.2 448.9h0M352.7 436.2h0M292.7 418.3h0M424.2 361.9h0M288.3 339.6h0M338.1 493.5h0M290.8 479.4h0M276.1 494.0h0M390.2 464.4h0M273.7 346.5h0M332.3 426.4h0M295.7 351.9h0M430.3 407.9h0M373.9 363.0h0M383.1 339.0h0M287.9 398.9h0M282.1 388.1h0M334.0 390.2h0M449.2 324.5h0M296.6 376.3h0M396.4 436.1h0M313.8 399.9h0M290.5 380.8h0M328.1 334.6h0M281.8 411.2h0M274.0 449.1h0M433.8 418.4h0M290.2 432.6h0M302.8 450.2h0M267.9 413.3h0M328.4 491.6h0M344.7 330.1h0M313.0 448.9h0M335.2 352.0h0M296.5 434.6h0M433.2 337.8h0M400.8 374.7h0M325.8 379.9h0M286.6 473.9h0M301.3 370.7h0M264.0 439.3h0M432.0 392.5h0M353.3 414.4h0M302.4 358.6h0M340.3 343.7h0M368.4 492.7h0M353.2 505.0h0M330.0 446.8h0M369.2 352.6h0M300.6 459.3h0M428.3 331.2h0M333.1 455.0h0M324.7 372.6h0M320.9 390.6h0M336.2 399.2h0M413.1 424.7h0M303.0 328.3h0M279.2 379.7h0M338.2 503.0h0M355.1 373.4h0M266.7 477.1h0M344.2 508.1h0M273.4 417.8h0M380.0 406.7h0M361.7 356.2h0M371.3 409.3h0M269.4 463.6h0M273.5 437.4h0M413.3 350.2h0M299.0 382.1h0M322.8 417.4h0M271.3 429.6h0M286.9 322.4h0M397.6 380.8h0M363.9 388.0h0M389.3 389.8h0M426.9 369.3h0M298.3 465.9h0M369.5 343.8h0M351.5 459.8h0M324.2 396.1h0M434.4 379.0h0M279.1 504.3h0M333.8 372.3h0M301.8 338.7h0M321.4 330.4h0M269.9 380.0h0M347.6 402.3h0M436.3 403.9h0M337.4 474.5h0M321.4 467.1h0M390.9 485.6h0M283.6 445.4h0M415.4 387.0h0M380.2 448.3h0M299.6 364.6h0M295.8 408.3h0M405.6 349.3h0M283.7 332.7h0M328.9 474.1h0M293.5 343.5h0M292.8 363.3h0M269.4 491.3h0M365.4 443.0h0M368.6 458.8h0M387.1 413.7h0M427.5 470.2h0M376.3 383.0h0M267.6 506.2h0M443.9 337.2h0M338.7 429.4h0M331.4 347.2h0M423.8 335.4h0M406.9 445.7h0M296.8 499.8h0M432.7 478.4h0M451.9 475.9h0M382.6 347.2h0M301.6 479.3h0M416.7 393.9h0M301.6 442.8h0M312.6 491.0h0M397.6 482.4h0M275.1 356.8h0M449.9 369.0h0M300.5 427.1h0M426.7 344.5h0M425.3 320.5h0M310.0 367.2h0M281.9 436.1h0M316.7 365.4h0M367.0 432.5h0M353.3 407.6h0M287.1 466.8h0M420.2 463.0h0M264.2 420.7h0M418.0 451.7h0M445.5 330.6h0M332.6 434.7h0M344.2 466.6h0M334.3 413.3h0M267.1 372.7h0M337.7 326.9h0M314.8 335.3h0M399.3 468.7h0M318.2 454.6h0M398.1 338.7h0M341.1 336.7h0M325.5 351.9h0M443.0 406.8h0M379.6 361.1h0M354.0 429.9h0M266.1 403.1h0M347.2 324.5h0M318.5 346.9h0M414.3 331.7h0M391.3 428.0h0M426.4 377.4h0M380.6 390.5h0M429.2 498.4h0M325.1 440.6h0M340.7 375.2h0M383.1 454.1h0M442.3 418.6h0M353.7 357.8h0M412.0 451.1h0M313.6 464.5h0M420.6 324.8h0M441.8 455.3h0M308.9 324.3h0M415.1 469.2h0M388.4 363.2h0M380.4 481.5h0M410.1 436.2h0M366.1 477.1h0M327.2 431.9h0M414.7 505.7h0M317.1 421.4h0M341.1 363.3h0M381.0 502.1h0M362.7 455.4h0M384.1 434.7h0M295.1 334.7h0M281.5 403.8h0M342.4 396.4h0M392.9 371.8h0M324.1 461.4h0M294.1 484.9h0M434.7 353.1h0M355.7 400.4h0M307.3 494.5h0M300.9 346.9h0M302.7 410.4h0M451.9 331.5h0M355.2 422.8h0M438.4 414.1h0M450.0 460.4h0M418.9 377.7h0M332.3 357.3h0M397.6 410.5h0M331.7 340.5h0M315.5 502.0h0M282.0 463.1h0M366.3 380.5h0M353.7 382.2h0M376.3 325.5h0M359.9 320.7h0M392.1 497.8h0M442.7 397.1h0M293.8 326.7h0M438.8 347.6h0M405.8 494.2h0M264.5 446.1h0M432.7 372.7h0M431.5 399.0h0M293.2 425.3h0M301.1 404.1h0M328.8 420.8h0M319.5 379.1h0M310.4 359.2h0M266.5 346.8h0M370.8 427.7h0M378.4 415.9h0M295.4 453.4h0M383.9 356.4h0M396.3 475.8h0M390.9 325.4h0M402.6 415.5h0"/>
<path class="r" d="M312.3 347.1h0M274.6 338.6h0M303.4 417.4h0M279.0 421.7h0M400.1 334.1h0M316.3 339.6h0M337.7 362.1h0M348.7 342.8h0M276.5 430.3h0M291.2 401.2h0M310.1 458.1h0M282.7 355.9h0M356.4 475.8h0M276.2 374.4h0M282.9 483.9h0M268.7 437.8h0M312.8 408.7h0M297.2 463.0h0M305.3 393.0h0M329.2 325.8h0M319.8 441.3h0M277.7 498.8h0M305.9 402.6h0M349.3 371.2h0M299.6 353.4h0M275.3 348.0h0M316.0 434.3h0M409.7 342.7h0M349.5 357.6h0M286.9 342.5h0M271.4 392.3h0M387.4 348.9h0M308.0 431.1h0M282.6 370.9h0M288.2 433.6h0M343.4 373.6h0M351.8 384.1h0M371.7 339.1h0M323.1 338.3h0M386.6 466.1h0M277.8 329.2h0M363.9 402.8h0M293.3 378.6h0M327.9 453.9h0M370.7 406.1h0M305.5 499.7h0M317.7 322.8h0M335.2 496.3h0M311.3 384.6h0M295.5 419.2h0M360.8 346.6h0M305.7 354.7h0M351.7 503.3h0M363.2 421.7h0M300.2 449.2h0M265.2 487.1h0M371.8 428.9h0M391.7 461.0h0M420.2 409.6h0M280.6 411.5h0M268.5 454.1h0M333.6 435.3h0M427.0 394.5h0M268.6 384.6h0M289.9 496.3h0M347.3 331.5h0M346.8 480.4h0M274.0 479.5h0M324.2 359.5h0M269.8 355.7h0M364.7 491.8h0M293.0 385.5h0M435.8 416.8h0M298.4 487.7h0M423.9 360.4h0M308.1 448.4h0M383.1 344.5h0M350.2 457.6h0M305.3 344.0h0M339.3 398.0h0M376.3 451.6h0M316.4 330.9h0M334.3 392.4h0M284.6 364.0h0M404.6 459.4h0M323.9 418.7h0M407.6 326.7h0M280.4 462.4h0M347.7 363.3h0M445.3 451.6h0M269.1 464.5h0M275.6 437.7h0M370.5 437.9h0M343.0 403.4h0M428.1 335.4h0M304.8 323.9h0M301.4 504.2h0M265.0 409.1h0M271.7 418.9h0M286.3 472.1h0M284.7 425.7h0M323.9 378.5h0M397.7 441.8h0M271.2 444.4h0M447.6 336.1h0M320.9 471.3h0M403.3 422.1h0M354.3 419.7h0M404.9 440.9h0M365.7 463.8h0M428.8 413.0h0M274.8 364.8h0M284.8 321.8h0M319.1 386.9h0M385.3 447.3h0M433.8 399.3h0M329.5 336.9h0M379.4 424.1h0M320.8 397.4h0M381.4 408.7h0M415.1 386.5h0M327.3 478.0h0M290.4 506.9h0M398.9 456.4h0M335.6 404.8h0M360.5 360.0h0M336.7 451.6h0M286.2 442.3h0M302.1 473.8h0M316.5 414.8h0M337.2 325.2h0M336.6 443.1h0M402.0 351.5h0M423.0 339.7h0M293.3 479.1h0M284.1 418.5h0M364.4 428.0h0M267.9 368.9h0M267.8 335.9h0M351.2 448.2h0M354.5 361.5h0M272.6 379.3h0M397.3 479.9h0M313.9 399.4h0M342.5 466.4h0M347.5 350.6h0M422.6 459.4h0M327.3 351.9h0M282.3 347.4h0M374.4 347.0h0M286.9 489.3h0M411.7 442.4h0M299.4 441.2h0M283.6 332.8h0M310.6 491.4h0M341.4 343.1h0M371.8 465.4h0M431.0 341.5h0M265.1 428.9h0M339.2 422.2h0M316.4 369.8h0M268.5 493.4h0M298.1 407.2h0M266.0 473.8h0M391.1 395.0h0M334.3 428.0h0M284.6 385.9h0M298.4 332.3h0M291.0 464.6h0M358.1 496.7h0M358.2 376.8h0M333.1 320.7h0M290.2 331.3h0M338.7 413.3h0M298.6 339.8h0M384.5 437.2h0M382.2 390.2h0M433.8 377.6h0M332.6 488.0h0M411.1 419.8h0M349.5 423.5h0M370.4 364.3h0M341.9 504.0h0M266.5 327.3h0M430.6 326.2h0M312.9 392.8h0M341.0 428.8h0M394.8 409.7h0M393.4 428.1h0M377.5 370.7h0M339.3 349.2h0M284.9 449.6h0M317.0 502.8h0M365.7 409.9h0M276.8 395.4h0M362.0 339.0h0M326.3 367.4h0M291.6 351.5h0M354.0 437.0h0M297.2 454.8h0M339.9 368.2h0M377.2 321.0h0M313.1 466.9h0M452.1 322.5h0M352.6 328.0h0M357.2 460.4h0M307.9 329.6h0M305.7 371.9h0M446.0 476.3h0M399.2 343.2h0M414.0 396.1h0M370.8 422.2h0"/>
<path class="r" d="M399.7 334.0h0M277.1 424.8h0M299.6 417.0h0M280.9 355.8h0M299.7 392.4h0M279.0 371.4h0M333.0 362.9h0M305.3 398.8h0M268.9 436.8h0M309.5 460.8h0M371.0 336.3h0M309.2 411.1h0M271.8 335.6h0M289.4 397.3h0M350.4 362.7h0M267.6 389.8h0M285.1 480.9h0M272.4 371.7h0M290.5 343.1h0M410.1 345.2h0M349.5 338.9h0M376.4 429.2h0M317.0 432.5h0M280.0 329.4h0M269.2 354.0h0M352.8 344.6h0M354.5 481.4h0M296.9 354.8h0M314.3 388.7h0M329.9 456.1h0M270.8 482.4h0M322.7 335.5h0M348.4 369.3h0M308.5 447.5h0M349.6 382.5h0M366.7 403.5h0M408.1 460.2h0M281.0 500.1h0M351.1 457.8h0M277.9 440.4h0M305.4 389.5h0M315.4 407.0h0M272.5 415.8h0M272.1 329.5h0M295.8 376.8h0M338.3 399.5h0M384.2 351.0h0M286.9 403.1h0M382.4 338.6h0M282.4 343.4h0M288.5 368.1h0M324.8 358.0h0M273.9 475.7h0M289.1 380.6h0M272.6 455.3h0M272.7 382.9h0M324.4 389.1h0M358.8 421.0h0M360.4 347.0h0M321.5 323.1h0M306.8 356.8h0M277.5 462.9h0M359.7 358.5h0M432.2 331.4h0M331.7 341.7h0M310.3 344.2h0M368.8 442.8h0M289.7 323.0h0M434.5 416.0h0M276.3 365.9h0M288.1 426.3h0M396.8 437.2h0M334.2 500.2h0M367.9 465.2h0M264.7 380.7h0M282.7 412.8h0M266.7 407.7h0M286.6 507.1h0M289.4 418.5h0M285.6 434.4h0M282.8 364.6h0M267.3 459.1h0M338.0 327.0h0M334.8 386.9h0M290.8 493.9h0M269.9 447.0h0M277.7 323.9h0M425.9 360.0h0M339.1 345.5h0M266.8 487.9h0M300.5 477.1h0M336.6 409.3h0M285.9 468.0h0M264.0 368.7h0M277.4 432.5h0M389.6 393.4h0M421.2 412.2h0M417.0 460.8h0M325.3 452.1h0M322.3 342.7h0M302.9 347.2h0M293.8 404.2h0M335.1 440.9h0M328.4 382.4h0M309.9 454.3h0M273.3 494.4h0M295.3 411.8h0M338.8 433.9h0M265.4 429.1h0M325.4 416.3h0M283.3 382.9h0M302.7 462.2h0M339.7 418.8h0M373.1 366.7h0M323.8 377.5h0M367.5 418.1h0M309.6 327.0h0M273.9 389.1h0M270.3 468.9h0M294.1 464.9h0M397.5 461.0h0M286.4 374.6h0M302.6 330.3h0M310.1 435.3h0M353.3 324.8h0M397.0 409.5h0M339.6 376.6h0M372.7 409.3h0"/>
<path class="r" d="M300.3 416.6h0M279.8 356.7h0M266.9 436.0h0M283.8 368.3h0M308.1 461.8h0M346.0 360.9h0M404.0 338.0h0M316.5 433.0h0M270.4 340.2h0M278.9 350.5h0M273.1 391.4h0M397.6 333.4h0M311.1 389.9h0M373.7 432.0h0M290.7 344.3h0M274.4 478.4h0M277.4 440.9h0M272.0 418.9h0M349.1 383.4h0M324.2 336.9h0M298.7 378.3h0M385.3 350.9h0M307.8 359.3h0M277.3 324.1h0M355.0 362.3h0M321.4 390.2h0M351.3 342.6h0M265.1 354.9h0M306.8 344.0h0M285.3 478.5h0M334.9 400.7h0M372.9 337.2h0M269.1 407.9h0M290.5 385.5h0M369.4 437.1h0M317.6 337.4h0M268.6 382.0h0M273.1 353.0h0M268.6 474.5h0M272.6 367.4h0M280.6 416.7h0M333.2 408.0h0M346.8 337.0h0M290.2 375.1h0M295.9 353.5h0M268.4 459.8h0M326.4 324.8h0M333.7 456.1h0M279.6 331.4h0M376.8 425.3h0M287.4 396.8h0M354.2 370.0h0M267.4 489.8h0M334.1 363.0h0M332.0 444.5h0M275.3 433.3h0M307.9 400.9h0M289.6 327.1h0M361.9 417.2h0M275.0 448.9h0M338.9 341.4h0M431.2 415.3h0M290.6 469.0h0M294.3 403.7h0M295.4 340.5h0M317.4 345.7h0M364.1 346.3h0M314.2 407.3h0M366.0 461.8h0M278.8 362.8h0M329.6 380.1h0M339.1 424.2h0M367.1 409.2h0M334.8 416.3h0M355.2 422.9h0M418.7 457.0h0M282.4 463.7h0M327.7 419.6h0M307.4 353.2h0M285.3 431.3h0M321.4 378.4h0"/>
<path class="r" d="M304.0 420.4h0M264.1 438.3h0M276.9 356.9h0M312.4 461.3h0M283.2 361.0h0M313.4 431.4h0M298.3 418.5h0M281.3 370.8h0M272.9 416.9h0M279.6 435.6h0M311.8 389.6h0M384.5 347.1h0M276.4 477.7h0M299.1 378.5h0M280.0 326.5h0M396.5 335.9h0M281.4 352.1h0M348.5 365.2h0M357.0 342.9h0M272.7 340.9h0M336.7 399.9h0M273.6 379.0h0M353.0 385.1h0M377.8 424.0h0M345.2 338.0h0M291.0 345.0h0M278.8 422.1h0M321.7 389.8h0M269.4 350.9h0M278.0 334.2h0M272.9 361.7h0M289.0 323.6h0M274.2 386.4h0M358.2 362.1h0M336.7 341.4h0M272.4 447.3h0M270.1 478.6h0M292.7 400.7h0M329.5 418.8h0"/>
<path class="r" d="M281.6 358.1h0M309.7 457.2h0M299.4 420.3h0M278.9 352.6h0M285.1 368.0h0M275.5 329.3h0M385.1 348.1h0M275.8 435.2h0M401.3 339.2h0M312.5 462.9h0M269.5 340.6h0M280.4 422.6h0M361.2 346.0h0M315.2 435.0h0M316.1 387.6h0M270.0 385.2h0M272.5 476.0h0M291.2 326.5h0"/>
<path class="r" d="M300.2 416.1h0M278.2 357.3h0M281.1 371.1h0M276.1 329.3h0M382.1 351.6h0M275.1 338.2h0M272.0 475.1h0"/>
<path class="r" d="M276.0 330.3h0"/>
</g>
<line x1="90.93" y1="239.80" x2="171.87" y2="48.20" stroke="#000" stroke-width="4" clip-path="url(#ca1)"/>
<line x1="318.49" y1="239.80" x2="403.62" y2="48.20" stroke="#000" stroke-width="4" stroke-dasharray="4.1 4.1" clip-path="url(#ca2)"/>
<line x1="72.14" y1="513.40" x2="111.26" y2="322.00" stroke="#000" stroke-width="4" clip-path="url(#cc1)"/>
<line x1="524.91" y1="239.80" x2="607.71" y2="44.37" stroke="#000" stroke-width="4"/>
<line x1="536.37" y1="239.80" x2="625.31" y2="44.37" stroke="#000" stroke-width="4" stroke-dasharray="4.1 4.1"/>
<line x1="506.46" y1="513.40" x2="544.91" y2="322.00" stroke="#000" stroke-width="4"/>
<line x1="539.28" y1="513.40" x2="581.61" y2="322.00" stroke="#000" stroke-width="4" stroke-dasharray="4.1 4.1"/>
<path d="M44.45 48.20V239.80H238.10" fill="none" stroke="#000" stroke-width="1.4"/>
<line x1="41.95" y1="239.80" x2="44.45" y2="239.80" stroke="#000" stroke-width="1.0" />
<text x="40.0" y="242.8" font-size="11" text-anchor="end">0</text>
<line x1="41.95" y1="191.90" x2="44.45" y2="191.90" stroke="#000" stroke-width="1.0" />
<text x="40.0" y="194.9" font-size="11" text-anchor="end">25</text>
<line x1="41.95" y1="144.00" x2="44.45" y2="144.00" stroke="#000" stroke-width="1.0" />
<text x="40.0" y="147.0" font-size="11" text-anchor="end">50</text>
<line x1="41.95" y1="96.10" x2="44.45" y2="96.10" stroke="#000" stroke-width="1.0" />
<text x="40.0" y="99.1" font-size="11" text-anchor="end">75</text>
<line x1="41.95" y1="48.20" x2="44.45" y2="48.20" stroke="#000" stroke-width="1.0" />
<text x="40.0" y="51.2" font-size="11" text-anchor="end">100</text>
<line x1="42.95" y1="215.85" x2="44.45" y2="215.85" stroke="#000" stroke-width="0.8" />
<line x1="42.95" y1="167.95" x2="44.45" y2="167.95" stroke="#000" stroke-width="0.8" />
<line x1="42.95" y1="120.05" x2="44.45" y2="120.05" stroke="#000" stroke-width="0.8" />
<line x1="42.95" y1="72.15" x2="44.45" y2="72.15" stroke="#000" stroke-width="0.8" />
<line x1="44.45" y1="239.80" x2="44.45" y2="242.30" stroke="#000" stroke-width="1.0" />
<text x="44.5" y="253.8" font-size="11" text-anchor="middle">0</text>
<line x1="92.86" y1="239.80" x2="92.86" y2="242.30" stroke="#000" stroke-width="1.0" />
<text x="92.9" y="253.8" font-size="11" text-anchor="middle">25</text>
<line x1="141.27" y1="239.80" x2="141.27" y2="242.30" stroke="#000" stroke-width="1.0" />
<text x="141.3" y="253.8" font-size="11" text-anchor="middle">50</text>
<line x1="189.69" y1="239.80" x2="189.69" y2="242.30" stroke="#000" stroke-width="1.0" />
<text x="189.7" y="253.8" font-size="11" text-anchor="middle">75</text>
<line x1="238.10" y1="239.80" x2="238.10" y2="242.30" stroke="#000" stroke-width="1.0" />
<text x="238.1" y="253.8" font-size="11" text-anchor="middle">100</text>
<line x1="68.66" y1="239.80" x2="68.66" y2="241.30" stroke="#000" stroke-width="0.8" />
<line x1="117.07" y1="239.80" x2="117.07" y2="241.30" stroke="#000" stroke-width="0.8" />
<line x1="165.48" y1="239.80" x2="165.48" y2="241.30" stroke="#000" stroke-width="0.8" />
<line x1="213.89" y1="239.80" x2="213.89" y2="241.30" stroke="#000" stroke-width="0.8" />
<path d="M258.50 48.20V239.80H452.00" fill="none" stroke="#000" stroke-width="1.4"/>
<line x1="452.00" y1="239.80" x2="452.00" y2="48.20" stroke="#000" stroke-width="1.4" />
<line x1="256.00" y1="239.80" x2="258.50" y2="239.80" stroke="#000" stroke-width="1.0" />
<line x1="256.00" y1="191.90" x2="258.50" y2="191.90" stroke="#000" stroke-width="1.0" />
<line x1="256.00" y1="144.00" x2="258.50" y2="144.00" stroke="#000" stroke-width="1.0" />
<line x1="256.00" y1="96.10" x2="258.50" y2="96.10" stroke="#000" stroke-width="1.0" />
<line x1="256.00" y1="48.20" x2="258.50" y2="48.20" stroke="#000" stroke-width="1.0" />
<line x1="257.00" y1="215.85" x2="258.50" y2="215.85" stroke="#000" stroke-width="0.8" />
<line x1="257.00" y1="167.95" x2="258.50" y2="167.95" stroke="#000" stroke-width="0.8" />
<line x1="257.00" y1="120.05" x2="258.50" y2="120.05" stroke="#000" stroke-width="0.8" />
<line x1="257.00" y1="72.15" x2="258.50" y2="72.15" stroke="#000" stroke-width="0.8" />
<line x1="258.50" y1="239.80" x2="258.50" y2="242.30" stroke="#000" stroke-width="1.0" />
<text x="258.5" y="253.8" font-size="11" text-anchor="middle">0</text>
<line x1="306.88" y1="239.80" x2="306.88" y2="242.30" stroke="#000" stroke-width="1.0" />
<text x="306.9" y="253.8" font-size="11" text-anchor="middle">25</text>
<line x1="355.25" y1="239.80" x2="355.25" y2="242.30" stroke="#000" stroke-width="1.0" />
<text x="355.2" y="253.8" font-size="11" text-anchor="middle">50</text>
<line x1="403.62" y1="239.80" x2="403.62" y2="242.30" stroke="#000" stroke-width="1.0" />
<text x="403.6" y="253.8" font-size="11" text-anchor="middle">75</text>
<line x1="452.00" y1="239.80" x2="452.00" y2="242.30" stroke="#000" stroke-width="1.0" />
<text x="452.0" y="253.8" font-size="11" text-anchor="middle">100</text>
<line x1="282.69" y1="239.80" x2="282.69" y2="241.30" stroke="#000" stroke-width="0.8" />
<line x1="331.06" y1="239.80" x2="331.06" y2="241.30" stroke="#000" stroke-width="0.8" />
<line x1="379.44" y1="239.80" x2="379.44" y2="241.30" stroke="#000" stroke-width="0.8" />
<line x1="427.81" y1="239.80" x2="427.81" y2="241.30" stroke="#000" stroke-width="0.8" />
<path d="M478.30 48.20V239.80H672.50" fill="none" stroke="#000" stroke-width="1.4"/>
<line x1="475.80" y1="239.80" x2="478.30" y2="239.80" stroke="#000" stroke-width="1.0" />
<line x1="475.80" y1="191.90" x2="478.30" y2="191.90" stroke="#000" stroke-width="1.0" />
<line x1="475.80" y1="144.00" x2="478.30" y2="144.00" stroke="#000" stroke-width="1.0" />
<line x1="475.80" y1="96.10" x2="478.30" y2="96.10" stroke="#000" stroke-width="1.0" />
<line x1="475.80" y1="48.20" x2="478.30" y2="48.20" stroke="#000" stroke-width="1.0" />
<line x1="476.80" y1="215.85" x2="478.30" y2="215.85" stroke="#000" stroke-width="0.8" />
<line x1="476.80" y1="167.95" x2="478.30" y2="167.95" stroke="#000" stroke-width="0.8" />
<line x1="476.80" y1="120.05" x2="478.30" y2="120.05" stroke="#000" stroke-width="0.8" />
<line x1="476.80" y1="72.15" x2="478.30" y2="72.15" stroke="#000" stroke-width="0.8" />
<line x1="478.30" y1="239.80" x2="478.30" y2="242.30" stroke="#000" stroke-width="1.0" />
<text x="478.3" y="253.8" font-size="11" text-anchor="middle">0</text>
<line x1="526.85" y1="239.80" x2="526.85" y2="242.30" stroke="#000" stroke-width="1.0" />
<text x="526.9" y="253.8" font-size="11" text-anchor="middle">25</text>
<line x1="575.40" y1="239.80" x2="575.40" y2="242.30" stroke="#000" stroke-width="1.0" />
<text x="575.4" y="253.8" font-size="11" text-anchor="middle">50</text>
<line x1="623.95" y1="239.80" x2="623.95" y2="242.30" stroke="#000" stroke-width="1.0" />
<text x="624.0" y="253.8" font-size="11" text-anchor="middle">75</text>
<line x1="672.50" y1="239.80" x2="672.50" y2="242.30" stroke="#000" stroke-width="1.0" />
<text x="672.5" y="253.8" font-size="11" text-anchor="middle">100</text>
<line x1="502.57" y1="239.80" x2="502.57" y2="241.30" stroke="#000" stroke-width="0.8" />
<line x1="551.12" y1="239.80" x2="551.12" y2="241.30" stroke="#000" stroke-width="0.8" />
<line x1="599.67" y1="239.80" x2="599.67" y2="241.30" stroke="#000" stroke-width="0.8" />
<line x1="648.23" y1="239.80" x2="648.23" y2="241.30" stroke="#000" stroke-width="0.8" />
<path d="M44.45 322.00V513.40H238.10" fill="none" stroke="#000" stroke-width="1.4"/>
<line x1="41.95" y1="513.40" x2="44.45" y2="513.40" stroke="#000" stroke-width="1.0" />
<text x="40.0" y="516.4" font-size="11" text-anchor="end">0</text>
<line x1="41.95" y1="465.55" x2="44.45" y2="465.55" stroke="#000" stroke-width="1.0" />
<text x="40.0" y="468.5" font-size="11" text-anchor="end">25</text>
<line x1="41.95" y1="417.70" x2="44.45" y2="417.70" stroke="#000" stroke-width="1.0" />
<text x="40.0" y="420.7" font-size="11" text-anchor="end">50</text>
<line x1="41.95" y1="369.85" x2="44.45" y2="369.85" stroke="#000" stroke-width="1.0" />
<text x="40.0" y="372.9" font-size="11" text-anchor="end">75</text>
<line x1="41.95" y1="322.00" x2="44.45" y2="322.00" stroke="#000" stroke-width="1.0" />
<text x="40.0" y="325.0" font-size="11" text-anchor="end">100</text>
<line x1="42.95" y1="489.47" x2="44.45" y2="489.47" stroke="#000" stroke-width="0.8" />
<line x1="42.95" y1="441.62" x2="44.45" y2="441.62" stroke="#000" stroke-width="0.8" />
<line x1="42.95" y1="393.77" x2="44.45" y2="393.77" stroke="#000" stroke-width="0.8" />
<line x1="42.95" y1="345.93" x2="44.45" y2="345.93" stroke="#000" stroke-width="0.8" />
<line x1="44.45" y1="513.40" x2="44.45" y2="515.90" stroke="#000" stroke-width="1.0" />
<text x="44.5" y="527.4" font-size="11" text-anchor="middle">0</text>
<line x1="92.86" y1="513.40" x2="92.86" y2="515.90" stroke="#000" stroke-width="1.0" />
<text x="92.9" y="527.4" font-size="11" text-anchor="middle">25</text>
<line x1="141.27" y1="513.40" x2="141.27" y2="515.90" stroke="#000" stroke-width="1.0" />
<text x="141.3" y="527.4" font-size="11" text-anchor="middle">50</text>
<line x1="189.69" y1="513.40" x2="189.69" y2="515.90" stroke="#000" stroke-width="1.0" />
<text x="189.7" y="527.4" font-size="11" text-anchor="middle">75</text>
<line x1="238.10" y1="513.40" x2="238.10" y2="515.90" stroke="#000" stroke-width="1.0" />
<text x="238.1" y="527.4" font-size="11" text-anchor="middle">100</text>
<line x1="68.66" y1="513.40" x2="68.66" y2="514.90" stroke="#000" stroke-width="0.8" />
<line x1="117.07" y1="513.40" x2="117.07" y2="514.90" stroke="#000" stroke-width="0.8" />
<line x1="165.48" y1="513.40" x2="165.48" y2="514.90" stroke="#000" stroke-width="0.8" />
<line x1="213.89" y1="513.40" x2="213.89" y2="514.90" stroke="#000" stroke-width="0.8" />
<path d="M258.50 322.00V513.40H452.00" fill="none" stroke="#000" stroke-width="1.4"/>
<line x1="256.00" y1="513.40" x2="258.50" y2="513.40" stroke="#000" stroke-width="1.0" />
<line x1="256.00" y1="465.55" x2="258.50" y2="465.55" stroke="#000" stroke-width="1.0" />
<line x1="256.00" y1="417.70" x2="258.50" y2="417.70" stroke="#000" stroke-width="1.0" />
<line x1="256.00" y1="369.85" x2="258.50" y2="369.85" stroke="#000" stroke-width="1.0" />
<line x1="256.00" y1="322.00" x2="258.50" y2="322.00" stroke="#000" stroke-width="1.0" />
<line x1="257.00" y1="489.47" x2="258.50" y2="489.47" stroke="#000" stroke-width="0.8" />
<line x1="257.00" y1="441.62" x2="258.50" y2="441.62" stroke="#000" stroke-width="0.8" />
<line x1="257.00" y1="393.77" x2="258.50" y2="393.77" stroke="#000" stroke-width="0.8" />
<line x1="257.00" y1="345.93" x2="258.50" y2="345.93" stroke="#000" stroke-width="0.8" />
<line x1="258.50" y1="513.40" x2="258.50" y2="515.90" stroke="#000" stroke-width="1.0" />
<text x="258.5" y="527.4" font-size="11" text-anchor="middle">0</text>
<line x1="306.88" y1="513.40" x2="306.88" y2="515.90" stroke="#000" stroke-width="1.0" />
<text x="306.9" y="527.4" font-size="11" text-anchor="middle">25</text>
<line x1="355.25" y1="513.40" x2="355.25" y2="515.90" stroke="#000" stroke-width="1.0" />
<text x="355.2" y="527.4" font-size="11" text-anchor="middle">50</text>
<line x1="403.62" y1="513.40" x2="403.62" y2="515.90" stroke="#000" stroke-width="1.0" />
<text x="403.6" y="527.4" font-size="11" text-anchor="middle">75</text>
<line x1="452.00" y1="513.40" x2="452.00" y2="515.90" stroke="#000" stroke-width="1.0" />
<text x="452.0" y="527.4" font-size="11" text-anchor="middle">100</text>
<line x1="282.69" y1="513.40" x2="282.69" y2="514.90" stroke="#000" stroke-width="0.8" />
<line x1="331.06" y1="513.40" x2="331.06" y2="514.90" stroke="#000" stroke-width="0.8" />
<line x1="379.44" y1="513.40" x2="379.44" y2="514.90" stroke="#000" stroke-width="0.8" />
<line x1="427.81" y1="513.40" x2="427.81" y2="514.90" stroke="#000" stroke-width="0.8" />
<path d="M478.30 322.00V513.40H672.50" fill="none" stroke="#000" stroke-width="1.4"/>
<line x1="475.80" y1="513.40" x2="478.30" y2="513.40" stroke="#000" stroke-width="1.0" />
<line x1="475.80" y1="465.55" x2="478.30" y2="465.55" stroke="#000" stroke-width="1.0" />
<line x1="475.80" y1="417.70" x2="478.30" y2="417.70" stroke="#000" stroke-width="1.0" />
<line x1="475.80" y1="369.85" x2="478.30" y2="369.85" stroke="#000" stroke-width="1.0" />
<line x1="475.80" y1="322.00" x2="478.30" y2="322.00" stroke="#000" stroke-width="1.0" />
<line x1="476.80" y1="489.47" x2="478.30" y2="489.47" stroke="#000" stroke-width="0.8" />
<line x1="476.80" y1="441.62" x2="478.30" y2="441.62" stroke="#000" stroke-width="0.8" />
<line x1="476.80" y1="393.77" x2="478.30" y2="393.77" stroke="#000" stroke-width="0.8" />
<line x1="476.80" y1="345.93" x2="478.30" y2="345.93" stroke="#000" stroke-width="0.8" />
<line x1="478.30" y1="513.40" x2="478.30" y2="515.90" stroke="#000" stroke-width="1.0" />
<text x="478.3" y="527.4" font-size="11" text-anchor="middle">0</text>
<line x1="526.85" y1="513.40" x2="526.85" y2="515.90" stroke="#000" stroke-width="1.0" />
<text x="526.9" y="527.4" font-size="11" text-anchor="middle">25</text>
<line x1="575.40" y1="513.40" x2="575.40" y2="515.90" stroke="#000" stroke-width="1.0" />
<text x="575.4" y="527.4" font-size="11" text-anchor="middle">50</text>
<line x1="623.95" y1="513.40" x2="623.95" y2="515.90" stroke="#000" stroke-width="1.0" />
<text x="624.0" y="527.4" font-size="11" text-anchor="middle">75</text>
<line x1="672.50" y1="513.40" x2="672.50" y2="515.90" stroke="#000" stroke-width="1.0" />
<text x="672.5" y="527.4" font-size="11" text-anchor="middle">100</text>
<line x1="502.57" y1="513.40" x2="502.57" y2="514.90" stroke="#000" stroke-width="0.8" />
<line x1="551.12" y1="513.40" x2="551.12" y2="514.90" stroke="#000" stroke-width="0.8" />
<line x1="599.67" y1="513.40" x2="599.67" y2="514.90" stroke="#000" stroke-width="0.8" />
<line x1="648.23" y1="513.40" x2="648.23" y2="514.90" stroke="#000" stroke-width="0.8" />
<rect x="170.5" y="204" width="66" height="27.3" fill="#fff" fill-opacity=".8" stroke="#ccc" stroke-width="0.8" rx="1.5"/>
<circle cx="176.4" cy="211.5" r="2.5" fill="#008000" fill-opacity=".55"/>
<circle cx="176.4" cy="223.3" r="2.5" fill="#ff0000" fill-opacity=".55"/>
<text x="184.2" y="215.2" font-size="10.5">Approach</text>
<text x="184.2" y="227.0" font-size="10.5">Avoidance</text>
<line x1="604.50" y1="207.70" x2="624.80" y2="207.70" stroke="#000" stroke-width="4" />
<line x1="604.50" y1="222.30" x2="624.80" y2="222.30" stroke="#000" stroke-width="4" stroke-dasharray="4.1 4.1"/>
<text x="629.3" y="211.8" font-size="12.2">Stim-off</text>
<text x="629.3" y="226.4" font-size="12.2">Stim-on</text>
<text x="4.8" y="12.5" font-size="16" font-weight="bold">a</text>
<text x="467.9" y="12.5" font-size="16" font-weight="bold">b</text>
<text x="248.4" y="17.0" font-size="14.2" text-anchor="middle">Monkey P</text>
<text x="141.3" y="39.8" font-size="14.3" text-anchor="middle">Stim-off (γ = 0.43, β = −1.09)</text>
<text x="355.2" y="39.8" font-size="14.3" text-anchor="middle">Stim-on (γ = 0.68, β = −1.10)</text>
<text x="575.4" y="39.8" font-size="14.3" text-anchor="middle">Decision boundary comparison</text>
<text x="248.4" y="268.5" font-size="12" text-anchor="middle">Reward amount (%)</text>
<text x="575.4" y="268.5" font-size="12" text-anchor="middle">Reward amount (%)</text>
<text x="15.8" y="126.5" font-size="12.3" text-anchor="middle" transform="rotate(-90 15.8 126.5)">Airpuff amount (%)</text>
<text x="4.8" y="289.0" font-size="16" font-weight="bold">c</text>
<text x="467.4" y="289.0" font-size="16" font-weight="bold">d</text>
<text x="248.4" y="292.0" font-size="14.2" text-anchor="middle">Monkey D</text>
<text x="141.3" y="314.0" font-size="14.3" text-anchor="middle">Stim-off (γ = 0.10, β = −0.53)</text>
<text x="355.2" y="314.0" font-size="14.3" text-anchor="middle">Stim-on (γ = 0.19, β = −0.94)</text>
<text x="575.4" y="314.0" font-size="14.3" text-anchor="middle">Decision boundary comparison</text>
<text x="248.4" y="542.0" font-size="12" text-anchor="middle">Reward amount (%)</text>
<text x="575.4" y="542.0" font-size="12" text-anchor="middle">Reward amount (%)</text>
<text x="20.2" y="414.3" font-size="12.3" text-anchor="middle" transform="rotate(-90 20.2 414.3)">Airpuff amount (%)</text>
<path d="M80.60 815.10V592.40M45.50 787.26H326.30M115.70 815.10V592.40M45.50 759.42H326.30M150.80 815.10V592.40M45.50 731.59H326.30M185.90 815.10V592.40M45.50 703.75H326.30M221.00 815.10V592.40M45.50 675.91H326.30M256.10 815.10V592.40M45.50 648.08H326.30M291.20 815.10V592.40M45.50 620.24H326.30M326.30 815.10V592.40M45.50 592.40H326.30" stroke="#b8b8b8" stroke-width="1" stroke-dasharray="5.2 3.3" fill="none"/>
<line x1="108.40" y1="815.10" x2="326.30" y2="642.73" stroke="#1f77b4" stroke-width="3.9" stroke-linecap="square"/>
<line x1="108.40" y1="815.10" x2="326.30" y2="658.40" stroke="#ff7f0e" stroke-width="3.9" stroke-linecap="square"/>
<line x1="108.40" y1="815.10" x2="326.30" y2="671.46" stroke="#2ca02c" stroke-width="3.9" stroke-linecap="square"/>
<line x1="108.40" y1="815.10" x2="326.30" y2="682.51" stroke="#d62728" stroke-width="3.9" stroke-linecap="square"/>
<line x1="108.40" y1="815.10" x2="326.30" y2="691.98" stroke="#9467bd" stroke-width="3.9" stroke-linecap="square"/>
<line x1="108.40" y1="815.10" x2="326.30" y2="700.19" stroke="#8c564b" stroke-width="3.9" stroke-linecap="square"/>
<path d="M45.50 592.40V815.10H326.30" fill="none" stroke="#000" stroke-width="1.4"/>
<line x1="43.00" y1="815.10" x2="45.50" y2="815.10" stroke="#000" stroke-width="1.0" />
<text x="41.0" y="819.1" font-size="12" text-anchor="end">0</text>
<line x1="43.00" y1="759.42" x2="45.50" y2="759.42" stroke="#000" stroke-width="1.0" />
<text x="41.0" y="763.4" font-size="12" text-anchor="end">25</text>
<line x1="43.00" y1="703.75" x2="45.50" y2="703.75" stroke="#000" stroke-width="1.0" />
<text x="41.0" y="707.8" font-size="12" text-anchor="end">50</text>
<line x1="43.00" y1="648.08" x2="45.50" y2="648.08" stroke="#000" stroke-width="1.0" />
<text x="41.0" y="652.1" font-size="12" text-anchor="end">75</text>
<line x1="43.00" y1="592.40" x2="45.50" y2="592.40" stroke="#000" stroke-width="1.0" />
<text x="41.0" y="596.4" font-size="12" text-anchor="end">100</text>
<line x1="44.00" y1="787.26" x2="45.50" y2="787.26" stroke="#000" stroke-width="0.8" />
<line x1="44.00" y1="731.59" x2="45.50" y2="731.59" stroke="#000" stroke-width="0.8" />
<line x1="44.00" y1="675.91" x2="45.50" y2="675.91" stroke="#000" stroke-width="0.8" />
<line x1="44.00" y1="620.24" x2="45.50" y2="620.24" stroke="#000" stroke-width="0.8" />
<line x1="45.50" y1="815.10" x2="45.50" y2="817.60" stroke="#000" stroke-width="1.0" />
<text x="45.5" y="829.6" font-size="12" text-anchor="middle">0</text>
<line x1="115.70" y1="815.10" x2="115.70" y2="817.60" stroke="#000" stroke-width="1.0" />
<text x="115.7" y="829.6" font-size="12" text-anchor="middle">25</text>
<line x1="185.90" y1="815.10" x2="185.90" y2="817.60" stroke="#000" stroke-width="1.0" />
<text x="185.9" y="829.6" font-size="12" text-anchor="middle">50</text>
<line x1="256.10" y1="815.10" x2="256.10" y2="817.60" stroke="#000" stroke-width="1.0" />
<text x="256.1" y="829.6" font-size="12" text-anchor="middle">75</text>
<line x1="326.30" y1="815.10" x2="326.30" y2="817.60" stroke="#000" stroke-width="1.0" />
<text x="326.3" y="829.6" font-size="12" text-anchor="middle">100</text>
<line x1="80.60" y1="815.10" x2="80.60" y2="816.60" stroke="#000" stroke-width="0.8" />
<line x1="150.80" y1="815.10" x2="150.80" y2="816.60" stroke="#000" stroke-width="0.8" />
<line x1="221.00" y1="815.10" x2="221.00" y2="816.60" stroke="#000" stroke-width="0.8" />
<line x1="291.20" y1="815.10" x2="291.20" y2="816.60" stroke="#000" stroke-width="0.8" />
<rect x="55.0" y="597.8" width="132.8" height="103.2" rx="2.5" fill="#fff" fill-opacity=".8" stroke="#cfcfcf" stroke-width="1.1"/>
<line x1="61.30" y1="607.70" x2="78.00" y2="607.70" stroke="#1f77b4" stroke-width="3.4" />
<text x="83.5" y="611.9" font-size="12.3">γ = 1.0, β = −1.09</text>
<line x1="61.30" y1="624.82" x2="78.00" y2="624.82" stroke="#ff7f0e" stroke-width="3.4" />
<text x="83.5" y="629.0" font-size="12.3">γ = 1.1, β = −1.09</text>
<line x1="61.30" y1="641.94" x2="78.00" y2="641.94" stroke="#2ca02c" stroke-width="3.4" />
<text x="83.5" y="646.1" font-size="12.3">γ = 1.2, β = −1.09</text>
<line x1="61.30" y1="659.06" x2="78.00" y2="659.06" stroke="#d62728" stroke-width="3.4" />
<text x="83.5" y="663.3" font-size="12.3">γ = 1.3, β = −1.09</text>
<line x1="61.30" y1="676.18" x2="78.00" y2="676.18" stroke="#9467bd" stroke-width="3.4" />
<text x="83.5" y="680.4" font-size="12.3">γ = 1.4, β = −1.09</text>
<line x1="61.30" y1="693.30" x2="78.00" y2="693.30" stroke="#8c564b" stroke-width="3.4" />
<text x="83.5" y="697.5" font-size="12.3">γ = 1.5, β = −1.09</text>
<path d="M428.71 814.40V591.60M393.70 786.55H673.80M463.72 814.40V591.60M393.70 758.70H673.80M498.74 814.40V591.60M393.70 730.85H673.80M533.75 814.40V591.60M393.70 703.00H673.80M568.76 814.40V591.60M393.70 675.15H673.80M603.77 814.40V591.60M393.70 647.30H673.80M638.79 814.40V591.60M393.70 619.45H673.80M673.80 814.40V591.60M393.70 591.60H673.80" stroke="#b8b8b8" stroke-width="1" stroke-dasharray="5.2 3.3" fill="none"/>
<line x1="430.95" y1="814.40" x2="673.80" y2="722.38" stroke="#1f77b4" stroke-width="3.9" stroke-linecap="square"/>
<line x1="430.95" y1="814.40" x2="673.80" y2="730.75" stroke="#ff7f0e" stroke-width="3.9" stroke-linecap="square"/>
<line x1="430.95" y1="814.40" x2="673.80" y2="737.72" stroke="#2ca02c" stroke-width="3.9" stroke-linecap="square"/>
<line x1="430.95" y1="814.40" x2="673.80" y2="743.62" stroke="#d62728" stroke-width="3.9" stroke-linecap="square"/>
<line x1="430.95" y1="814.40" x2="673.80" y2="748.67" stroke="#9467bd" stroke-width="3.9" stroke-linecap="square"/>
<line x1="430.95" y1="814.40" x2="673.80" y2="753.06" stroke="#8c564b" stroke-width="3.9" stroke-linecap="square"/>
<path d="M393.70 591.60V814.40H673.80" fill="none" stroke="#000" stroke-width="1.4"/>
<line x1="391.20" y1="814.40" x2="393.70" y2="814.40" stroke="#000" stroke-width="1.0" />
<line x1="391.20" y1="758.70" x2="393.70" y2="758.70" stroke="#000" stroke-width="1.0" />
<line x1="391.20" y1="703.00" x2="393.70" y2="703.00" stroke="#000" stroke-width="1.0" />
<line x1="391.20" y1="647.30" x2="393.70" y2="647.30" stroke="#000" stroke-width="1.0" />
<line x1="391.20" y1="591.60" x2="393.70" y2="591.60" stroke="#000" stroke-width="1.0" />
<line x1="392.20" y1="786.55" x2="393.70" y2="786.55" stroke="#000" stroke-width="0.8" />
<line x1="392.20" y1="730.85" x2="393.70" y2="730.85" stroke="#000" stroke-width="0.8" />
<line x1="392.20" y1="675.15" x2="393.70" y2="675.15" stroke="#000" stroke-width="0.8" />
<line x1="392.20" y1="619.45" x2="393.70" y2="619.45" stroke="#000" stroke-width="0.8" />
<line x1="393.70" y1="814.40" x2="393.70" y2="816.90" stroke="#000" stroke-width="1.0" />
<text x="393.7" y="828.9" font-size="12" text-anchor="middle">0</text>
<line x1="463.72" y1="814.40" x2="463.72" y2="816.90" stroke="#000" stroke-width="1.0" />
<text x="463.7" y="828.9" font-size="12" text-anchor="middle">25</text>
<line x1="533.75" y1="814.40" x2="533.75" y2="816.90" stroke="#000" stroke-width="1.0" />
<text x="533.8" y="828.9" font-size="12" text-anchor="middle">50</text>
<line x1="603.77" y1="814.40" x2="603.77" y2="816.90" stroke="#000" stroke-width="1.0" />
<text x="603.8" y="828.9" font-size="12" text-anchor="middle">75</text>
<line x1="673.80" y1="814.40" x2="673.80" y2="816.90" stroke="#000" stroke-width="1.0" />
<text x="673.8" y="828.9" font-size="12" text-anchor="middle">100</text>
<line x1="428.71" y1="814.40" x2="428.71" y2="815.90" stroke="#000" stroke-width="0.8" />
<line x1="498.74" y1="814.40" x2="498.74" y2="815.90" stroke="#000" stroke-width="0.8" />
<line x1="568.76" y1="814.40" x2="568.76" y2="815.90" stroke="#000" stroke-width="0.8" />
<line x1="638.79" y1="814.40" x2="638.79" y2="815.90" stroke="#000" stroke-width="0.8" />
<rect x="403.2" y="597.8" width="132.8" height="103.2" rx="2.5" fill="#fff" fill-opacity=".8" stroke="#cfcfcf" stroke-width="1.1"/>
<line x1="409.50" y1="607.70" x2="426.20" y2="607.70" stroke="#1f77b4" stroke-width="3.4" />
<text x="431.7" y="611.9" font-size="12.3">γ = 1.0, β = −0.53</text>
<line x1="409.50" y1="624.82" x2="426.20" y2="624.82" stroke="#ff7f0e" stroke-width="3.4" />
<text x="431.7" y="629.0" font-size="12.3">γ = 1.1, β = −0.53</text>
<line x1="409.50" y1="641.94" x2="426.20" y2="641.94" stroke="#2ca02c" stroke-width="3.4" />
<text x="431.7" y="646.1" font-size="12.3">γ = 1.2, β = −0.53</text>
<line x1="409.50" y1="659.06" x2="426.20" y2="659.06" stroke="#d62728" stroke-width="3.4" />
<text x="431.7" y="663.3" font-size="12.3">γ = 1.3, β = −0.53</text>
<line x1="409.50" y1="676.18" x2="426.20" y2="676.18" stroke="#9467bd" stroke-width="3.4" />
<text x="431.7" y="680.4" font-size="12.3">γ = 1.4, β = −0.53</text>
<line x1="409.50" y1="693.30" x2="426.20" y2="693.30" stroke="#8c564b" stroke-width="3.4" />
<text x="431.7" y="697.5" font-size="12.3">γ = 1.5, β = −0.53</text>
<text x="0.8" y="579.7" font-size="16" font-weight="bold">e</text>
<text x="186.4" y="582.7" font-size="14.3" text-anchor="middle">Monkey P: Effect of γ on decision boundaries</text>
<text x="533.9" y="582.7" font-size="14.3" text-anchor="middle">Monkey D: Effect of γ on decision boundaries</text>
<text x="186.4" y="847.1" font-size="12" text-anchor="middle">Reward amount (%)</text>
<text x="533.9" y="847.1" font-size="12" text-anchor="middle">Reward amount (%)</text>
<text x="16.0" y="703.7" font-size="12.3" text-anchor="middle" transform="rotate(-90 16.0 703.7)">Airpuff amount (%)</text>
<rect x="54.20" y="1093.00" width="73.90" height="22.90" fill="#4682b4"/>
<line x1="91.15" y1="1093.00" x2="91.15" y2="1075.52" stroke="#000" stroke-width="2.5" />
<line x1="88.15" y1="1075.52" x2="94.15" y2="1075.52" stroke="#000" stroke-width="1.5" />
<line x1="88.15" y1="1093.00" x2="94.15" y2="1093.00" stroke="#000" stroke-width="1.5" />
<rect x="147.10" y="1073.04" width="73.70" height="42.86" fill="#4682b4"/>
<line x1="183.95" y1="1073.04" x2="183.95" y2="1047.09" stroke="#000" stroke-width="2.5" />
<line x1="180.95" y1="1047.09" x2="186.95" y2="1047.09" stroke="#000" stroke-width="1.5" />
<line x1="180.95" y1="1073.04" x2="186.95" y2="1073.04" stroke="#000" stroke-width="1.5" />
<path d="M45.80 890.30V1115.90H229.20" fill="none" stroke="#000" stroke-width="1.3"/>
<line x1="43.30" y1="1115.90" x2="45.80" y2="1115.90" stroke="#000" stroke-width="1" />
<text x="40.8" y="1120.1" font-size="12" text-anchor="end">0</text>
<line x1="43.30" y1="1059.50" x2="45.80" y2="1059.50" stroke="#000" stroke-width="1" />
<text x="40.8" y="1063.7" font-size="12" text-anchor="end">0.25</text>
<line x1="43.30" y1="1003.10" x2="45.80" y2="1003.10" stroke="#000" stroke-width="1" />
<text x="40.8" y="1007.3" font-size="12" text-anchor="end">0.5</text>
<line x1="43.30" y1="946.70" x2="45.80" y2="946.70" stroke="#000" stroke-width="1" />
<text x="40.8" y="950.9" font-size="12" text-anchor="end">0.75</text>
<line x1="43.30" y1="890.30" x2="45.80" y2="890.30" stroke="#000" stroke-width="1" />
<text x="40.8" y="894.5" font-size="12" text-anchor="end">1.0</text>
<line x1="91.15" y1="1115.90" x2="91.15" y2="1118.40" stroke="#000" stroke-width="1" />
<text x="91.2" y="1130.2" font-size="12" text-anchor="middle">Stim-off</text>
<line x1="183.95" y1="1115.90" x2="183.95" y2="1118.40" stroke="#000" stroke-width="1" />
<text x="183.9" y="1130.2" font-size="12" text-anchor="middle">Stim-on</text>
<rect x="262.60" y="1018.89" width="74.20" height="97.01" fill="#4682b4"/>
<line x1="299.70" y1="1018.89" x2="299.70" y2="990.69" stroke="#000" stroke-width="2.5" />
<line x1="296.70" y1="990.69" x2="302.70" y2="990.69" stroke="#000" stroke-width="1.5" />
<line x1="296.70" y1="1018.89" x2="302.70" y2="1018.89" stroke="#000" stroke-width="1.5" />
<rect x="355.30" y="962.49" width="74.50" height="153.41" fill="#4682b4"/>
<line x1="392.55" y1="962.49" x2="392.55" y2="935.42" stroke="#000" stroke-width="2.5" />
<line x1="389.55" y1="935.42" x2="395.55" y2="935.42" stroke="#000" stroke-width="1.5" />
<line x1="389.55" y1="962.49" x2="395.55" y2="962.49" stroke="#000" stroke-width="1.5" />
<path d="M253.80 890.30V1115.90H438.20" fill="none" stroke="#000" stroke-width="1.3"/>
<line x1="251.30" y1="1115.90" x2="253.80" y2="1115.90" stroke="#000" stroke-width="1" />
<line x1="251.30" y1="1059.50" x2="253.80" y2="1059.50" stroke="#000" stroke-width="1" />
<line x1="251.30" y1="1003.10" x2="253.80" y2="1003.10" stroke="#000" stroke-width="1" />
<line x1="251.30" y1="946.70" x2="253.80" y2="946.70" stroke="#000" stroke-width="1" />
<line x1="251.30" y1="890.30" x2="253.80" y2="890.30" stroke="#000" stroke-width="1" />
<line x1="299.70" y1="1115.90" x2="299.70" y2="1118.40" stroke="#000" stroke-width="1" />
<text x="299.7" y="1130.2" font-size="12" text-anchor="middle">Stim-off</text>
<line x1="392.55" y1="1115.90" x2="392.55" y2="1118.40" stroke="#000" stroke-width="1" />
<text x="392.6" y="1130.2" font-size="12" text-anchor="middle">Stim-on</text>
<text x="0.9" y="875.5" font-size="16" font-weight="bold">f</text>
<text x="137.5" y="885.5" font-size="14.2" text-anchor="middle">Monkey D</text>
<text x="346.0" y="885.5" font-size="14.2" text-anchor="middle">Monkey P</text>
<text x="14.8" y="1003.0" font-size="11" text-anchor="middle" transform="rotate(-90 14.8 1003.0)">γ</text>
<line x1="509.00" y1="890.45" x2="512.00" y2="890.45" stroke="#262626" stroke-width="1" />
<text x="504.6" y="894.6" font-size="11.5" text-anchor="end">0.4</text>
<line x1="509.00" y1="928.02" x2="512.00" y2="928.02" stroke="#262626" stroke-width="1" />
<text x="504.6" y="932.1" font-size="11.5" text-anchor="end">0.2</text>
<line x1="509.00" y1="965.60" x2="512.00" y2="965.60" stroke="#262626" stroke-width="1" />
<text x="504.6" y="969.7" font-size="11.5" text-anchor="end">0</text>
<line x1="509.00" y1="1003.18" x2="512.00" y2="1003.18" stroke="#262626" stroke-width="1" />
<text x="504.6" y="1007.3" font-size="11.5" text-anchor="end">−0.2</text>
<line x1="509.00" y1="1040.75" x2="512.00" y2="1040.75" stroke="#262626" stroke-width="1" />
<text x="504.6" y="1044.8" font-size="11.5" text-anchor="end">−0.4</text>
<line x1="509.00" y1="1078.33" x2="512.00" y2="1078.33" stroke="#262626" stroke-width="1" />
<text x="504.6" y="1082.4" font-size="11.5" text-anchor="end">−0.6</text>
<line x1="509.00" y1="1115.90" x2="512.00" y2="1115.90" stroke="#262626" stroke-width="1" />
<text x="504.6" y="1120.0" font-size="11.5" text-anchor="end">−0.8</text>
<line x1="509.00" y1="909.24" x2="511.50" y2="909.24" stroke="#262626" stroke-width="1" />
<line x1="509.00" y1="946.81" x2="511.50" y2="946.81" stroke="#262626" stroke-width="1" />
<line x1="509.00" y1="984.39" x2="511.50" y2="984.39" stroke="#262626" stroke-width="1" />
<line x1="509.00" y1="1021.96" x2="511.50" y2="1021.96" stroke="#262626" stroke-width="1" />
<line x1="509.00" y1="1059.54" x2="511.50" y2="1059.54" stroke="#262626" stroke-width="1" />
<line x1="509.00" y1="1097.11" x2="511.50" y2="1097.11" stroke="#262626" stroke-width="1" />
<path d="M509 890.45V1115.90H682.6" fill="none" stroke="#262626" stroke-width="1"/>
<line x1="553.60" y1="1115.90" x2="553.60" y2="1112.90" stroke="#262626" stroke-width="1" />
<line x1="634.60" y1="1115.90" x2="634.60" y2="1112.90" stroke="#262626" stroke-width="1" />
<line x1="553.60" y1="930.70" x2="553.60" y2="990.40" stroke="#000" stroke-width="1" />
<line x1="553.60" y1="1030.90" x2="553.60" y2="1090.38" stroke="#000" stroke-width="1" />
<line x1="543.70" y1="930.70" x2="563.50" y2="930.70" stroke="#000" stroke-width="1" />
<line x1="543.70" y1="1090.38" x2="563.50" y2="1090.38" stroke="#000" stroke-width="1" />
<rect x="534.20" y="990.40" width="39.00" height="40.50" fill="none" stroke="#3a4fc0" stroke-width="1.1"/>
<line x1="534.20" y1="998.50" x2="573.20" y2="998.50" stroke="#ff2020" stroke-width="1.1" />
<line x1="634.30" y1="919.30" x2="634.30" y2="958.50" stroke="#000" stroke-width="1" />
<line x1="634.30" y1="985.00" x2="634.30" y2="1011.70" stroke="#000" stroke-width="1" />
<line x1="624.40" y1="919.30" x2="644.20" y2="919.30" stroke="#000" stroke-width="1" />
<line x1="624.40" y1="1011.70" x2="644.20" y2="1011.70" stroke="#000" stroke-width="1" />
<rect x="614.60" y="958.50" width="39.40" height="26.50" fill="none" stroke="#3a4fc0" stroke-width="1.1"/>
<line x1="614.60" y1="973.10" x2="654.00" y2="973.10" stroke="#ff2020" stroke-width="1.1" />
<text x="553.6" y="1130.7" font-size="12" text-anchor="middle">Significant</text>
<text x="553.6" y="1142.5" font-size="12" text-anchor="middle">(p ≤ 0.05)</text>
<text x="635.3" y="1130.7" font-size="12" text-anchor="middle">Non-significant</text>
<text x="635.3" y="1142.5" font-size="12" text-anchor="middle">(p &gt; 0.05)</text>
<text x="475.5" y="1002.3" font-size="12.4" text-anchor="middle" transform="rotate(-90 475.5 1002.3)">Change in punishment sensitivity (Δγ)</text>
<text x="460.2" y="875.2" font-size="16" font-weight="bold">g</text>
</svg></body></html>
